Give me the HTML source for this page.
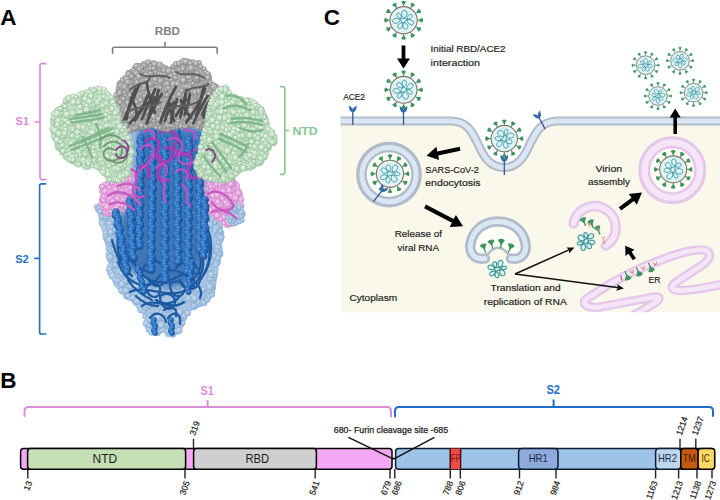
<!DOCTYPE html>
<html lang="en"><head><meta charset="utf-8"><title>SARS-CoV-2 spike protein figure</title>
<style>html,body{margin:0;padding:0;background:#fff}body{width:720px;height:500px;overflow:hidden}svg{display:block}text{font-family:"Liberation Sans", Arial, sans-serif}</style></head><body>
<svg width="720" height="500" viewBox="0 0 720 500">
<defs>
<radialGradient id="gG" cx="40%" cy="35%" r="70%"><stop offset="0" stop-color="#e9f5e8"/><stop offset="0.7" stop-color="#c0dfc2"/><stop offset="1" stop-color="#9fc6a5"/></radialGradient>
<radialGradient id="gY" cx="40%" cy="35%" r="70%"><stop offset="0" stop-color="#cfcfcf"/><stop offset="0.7" stop-color="#a9a9a9"/><stop offset="1" stop-color="#8c8c8c"/></radialGradient>
<radialGradient id="gP" cx="40%" cy="35%" r="70%"><stop offset="0" stop-color="#f7cff2"/><stop offset="0.7" stop-color="#e7a6df"/><stop offset="1" stop-color="#cf88c9"/></radialGradient>
<radialGradient id="gL" cx="40%" cy="35%" r="70%"><stop offset="0" stop-color="#c6dbf0"/><stop offset="0.7" stop-color="#a3c1e0"/><stop offset="1" stop-color="#86acd4"/></radialGradient>
<radialGradient id="gB" cx="40%" cy="35%" r="70%"><stop offset="0" stop-color="#5a9de4"/><stop offset="0.55" stop-color="#2267b6"/><stop offset="1" stop-color="#134584"/></radialGradient>
<filter id="soft" x="-20%" y="-20%" width="140%" height="140%"><feGaussianBlur stdDeviation="3"/></filter>
<filter id="soft2" x="-5%" y="-5%" width="110%" height="110%"><feGaussianBlur stdDeviation="0.45"/></filter>
</defs>
<rect width="720" height="500" fill="#fff"/>
<g filter="url(#soft2)">
<polygon points="96.7,205.7 100.8,217.6 104.9,229.5 107.9,244.3 110,259.1 110,269.9 114.9,281.6 124.8,294.4 136.5,303.1 143.3,311.1 146.3,319 148.2,329 155.1,333 163,330 166.9,332 172.8,334 178.7,330 181.7,323.1 184.6,315.1 191.4,307.2 203.3,302.8 211.7,295 213.1,282.7 215,269.9 217,262 220,250.2 221.1,235.4 219.2,225.5 205.3,215.7 205.5,190.9 207.7,124.9 130.2,125 133.4,190.9 130.5,212.9 117.6,210.8 107.7,214.7" fill="#a8c4e1" stroke="#a8c4e1" stroke-width="2" stroke-linejoin="round"/>
<g fill="url(#gL)" stroke="#7fa7d0" stroke-width="0.45">
<circle cx="96.4" cy="206.5" r="2.3"/>
<circle cx="97.9" cy="208.9" r="2.9"/>
<circle cx="98.7" cy="211" r="2.3"/>
<circle cx="100.6" cy="214.8" r="2.5"/>
<circle cx="101.9" cy="218.8" r="2.7"/>
<circle cx="101.7" cy="222.9" r="2.6"/>
<circle cx="102.3" cy="223.5" r="3.3"/>
<circle cx="104.1" cy="227.1" r="2.7"/>
<circle cx="104.4" cy="229.8" r="2.5"/>
<circle cx="105.6" cy="233.4" r="3"/>
<circle cx="105.9" cy="236.7" r="3.1"/>
<circle cx="106.9" cy="238.9" r="3.3"/>
<circle cx="107.3" cy="243.4" r="2.4"/>
<circle cx="108.5" cy="244.7" r="2.8"/>
<circle cx="108.7" cy="248.5" r="2.9"/>
<circle cx="108.9" cy="254" r="3"/>
<circle cx="109.6" cy="257.2" r="3.4"/>
<circle cx="110.3" cy="259.4" r="3.1"/>
<circle cx="110.8" cy="264.6" r="2.6"/>
<circle cx="110.3" cy="266.3" r="2.8"/>
<circle cx="109.5" cy="269.5" r="3.2"/>
<circle cx="110.9" cy="272.9" r="3.3"/>
<circle cx="112.4" cy="276" r="3.3"/>
<circle cx="114.9" cy="279.8" r="2.7"/>
<circle cx="116" cy="282.9" r="2.4"/>
<circle cx="116.7" cy="284" r="2.8"/>
<circle cx="119.2" cy="286.8" r="2.7"/>
<circle cx="121.4" cy="290.6" r="3.1"/>
<circle cx="123.6" cy="292.9" r="2.3"/>
<circle cx="126.8" cy="296.1" r="3.2"/>
<circle cx="128.2" cy="296.4" r="3"/>
<circle cx="130.1" cy="298.4" r="2.4"/>
<circle cx="133.5" cy="300.6" r="2.4"/>
<circle cx="136.4" cy="302.5" r="3.3"/>
<circle cx="139.1" cy="306.4" r="2.7"/>
<circle cx="141" cy="309.6" r="3.5"/>
<circle cx="143.7" cy="311.5" r="2.3"/>
<circle cx="144.7" cy="316.4" r="2.4"/>
<circle cx="147" cy="319.1" r="2.4"/>
<circle cx="146.4" cy="323.5" r="3.5"/>
<circle cx="148.2" cy="327" r="2.7"/>
<circle cx="149" cy="329.3" r="3.2"/>
<circle cx="151.9" cy="331.9" r="3.5"/>
<circle cx="157.6" cy="332.7" r="3.2"/>
<circle cx="159.6" cy="331.1" r="2.2"/>
<circle cx="162.7" cy="329.6" r="3.1"/>
<circle cx="168.5" cy="333.3" r="3.5"/>
<circle cx="171.4" cy="333.1" r="2.5"/>
<circle cx="172.7" cy="334" r="3.4"/>
<circle cx="177.2" cy="331.3" r="3.2"/>
<circle cx="179.1" cy="330.5" r="3.2"/>
<circle cx="180.8" cy="324.5" r="3.2"/>
<circle cx="182.4" cy="323" r="2.7"/>
<circle cx="184.2" cy="318.5" r="2.4"/>
<circle cx="184.2" cy="315.5" r="3.2"/>
<circle cx="187.6" cy="313" r="3.1"/>
<circle cx="189.7" cy="308.7" r="2.2"/>
<circle cx="193.4" cy="306.6" r="3.4"/>
<circle cx="195.8" cy="306.3" r="2.5"/>
<circle cx="197.5" cy="304.4" r="3"/>
<circle cx="200.6" cy="303.1" r="3.4"/>
<circle cx="203.8" cy="302.4" r="3.4"/>
<circle cx="207.4" cy="299.5" r="2.9"/>
<circle cx="209" cy="296.7" r="2.4"/>
<circle cx="212.1" cy="294.4" r="2.8"/>
<circle cx="212.2" cy="290.3" r="2.9"/>
<circle cx="212.9" cy="287.2" r="2.9"/>
<circle cx="212.4" cy="285.7" r="2.9"/>
<circle cx="213.6" cy="282.2" r="2.8"/>
<circle cx="213.7" cy="278.3" r="3.1"/>
<circle cx="214.2" cy="275.4" r="3.4"/>
<circle cx="215.3" cy="272.4" r="2.5"/>
<circle cx="216.1" cy="269.1" r="2.4"/>
<circle cx="216" cy="265" r="2.5"/>
<circle cx="217.3" cy="262.3" r="3.4"/>
<circle cx="218.2" cy="259.1" r="2.4"/>
<circle cx="219.7" cy="254.1" r="3.4"/>
<circle cx="219.4" cy="253.2" r="3.3"/>
<circle cx="219.9" cy="249.9" r="2.6"/>
<circle cx="220" cy="246.4" r="2.2"/>
<circle cx="220.6" cy="240.8" r="2.6"/>
<circle cx="220.9" cy="237" r="3.5"/>
<circle cx="221.5" cy="233.2" r="2.5"/>
<circle cx="220.9" cy="231.7" r="2.4"/>
<circle cx="220.3" cy="228.5" r="2.5"/>
<circle cx="219.6" cy="225.5" r="3.1"/>
<circle cx="215.5" cy="223.8" r="2.8"/>
<circle cx="214.2" cy="221.8" r="3.2"/>
<circle cx="211.3" cy="218.9" r="3.3"/>
<circle cx="207.1" cy="217.2" r="3.4"/>
<circle cx="204.7" cy="215.3" r="2.5"/>
<circle cx="204.8" cy="211.7" r="2.5"/>
<circle cx="205.1" cy="209.3" r="2.6"/>
<circle cx="204.9" cy="205.2" r="2.2"/>
<circle cx="204.6" cy="203.2" r="2.9"/>
<circle cx="205.4" cy="200.5" r="2.3"/>
<circle cx="205.3" cy="195.5" r="3.3"/>
<circle cx="205.5" cy="193.5" r="3.5"/>
<circle cx="206" cy="190.5" r="3"/>
<circle cx="205.4" cy="186.2" r="2.4"/>
<circle cx="206.1" cy="184.1" r="2.4"/>
<circle cx="206.3" cy="181.9" r="3.1"/>
<circle cx="205.5" cy="177.4" r="2.8"/>
<circle cx="205.9" cy="174.5" r="3.5"/>
<circle cx="206.2" cy="169.8" r="3.5"/>
<circle cx="206" cy="167.5" r="2.7"/>
<circle cx="206.4" cy="164.4" r="2.9"/>
<circle cx="206" cy="161.9" r="2.7"/>
<circle cx="205.8" cy="159.1" r="2.5"/>
<circle cx="206.7" cy="155.6" r="3.1"/>
<circle cx="207.4" cy="151.7" r="2.6"/>
<circle cx="206.3" cy="148.6" r="3"/>
<circle cx="207.5" cy="147.5" r="3"/>
<circle cx="207.6" cy="141.8" r="2.9"/>
<circle cx="207.7" cy="140.2" r="3.3"/>
<circle cx="207.9" cy="136.7" r="3.1"/>
<circle cx="206.6" cy="133.3" r="2.7"/>
<circle cx="208" cy="131.1" r="3"/>
<circle cx="207.9" cy="126.9" r="2.2"/>
<circle cx="206.6" cy="125" r="2.9"/>
<circle cx="202.7" cy="125.3" r="2.5"/>
<circle cx="201" cy="125.3" r="2.5"/>
<circle cx="197.8" cy="124.9" r="2.7"/>
<circle cx="194.7" cy="125.4" r="3"/>
<circle cx="190.3" cy="124.4" r="2.5"/>
<circle cx="187.4" cy="125.1" r="2.2"/>
<circle cx="185.5" cy="125.2" r="3.1"/>
<circle cx="181.3" cy="125" r="2.8"/>
<circle cx="178.3" cy="125.6" r="2.5"/>
<circle cx="175.6" cy="124.2" r="2.8"/>
<circle cx="172.8" cy="124.9" r="2.5"/>
<circle cx="170.8" cy="124.5" r="3"/>
<circle cx="167.2" cy="125.7" r="2.4"/>
<circle cx="162.8" cy="125.6" r="3.1"/>
<circle cx="161.4" cy="124.9" r="2.2"/>
<circle cx="158.1" cy="124.9" r="2.6"/>
<circle cx="154.5" cy="124.7" r="3.3"/>
<circle cx="152.3" cy="125.5" r="2.4"/>
<circle cx="147.4" cy="125.6" r="2.6"/>
<circle cx="144.8" cy="125.8" r="3"/>
<circle cx="141.8" cy="124.6" r="2.3"/>
<circle cx="139.9" cy="124.6" r="3.4"/>
<circle cx="135.6" cy="125" r="2.4"/>
<circle cx="133.4" cy="125.6" r="3.3"/>
<circle cx="130.9" cy="126.8" r="2.9"/>
<circle cx="129.7" cy="129.6" r="2.8"/>
<circle cx="130.8" cy="132" r="2.3"/>
<circle cx="130.1" cy="135.6" r="2.6"/>
<circle cx="131.2" cy="138.3" r="2.5"/>
<circle cx="130.7" cy="141.2" r="2.7"/>
<circle cx="130.5" cy="142.8" r="3.4"/>
<circle cx="130.8" cy="147.5" r="3.5"/>
<circle cx="130.8" cy="149.3" r="2.3"/>
<circle cx="130.9" cy="152.2" r="2.5"/>
<circle cx="132.3" cy="156.4" r="2.7"/>
<circle cx="131.9" cy="158.5" r="2.6"/>
<circle cx="131.6" cy="161.8" r="2.4"/>
<circle cx="132.3" cy="165.4" r="2.5"/>
<circle cx="131.8" cy="167.3" r="2.8"/>
<circle cx="133" cy="172.3" r="2.2"/>
<circle cx="132.8" cy="173.6" r="2.8"/>
<circle cx="131.9" cy="176.8" r="3.4"/>
<circle cx="133.4" cy="181.2" r="2.5"/>
<circle cx="132.4" cy="182.2" r="3.1"/>
<circle cx="133.5" cy="186.9" r="3.2"/>
<circle cx="133.3" cy="188" r="3.2"/>
<circle cx="134" cy="191.6" r="2.6"/>
<circle cx="132.5" cy="194.5" r="3.1"/>
<circle cx="131.8" cy="197.4" r="3"/>
<circle cx="131.6" cy="201.2" r="2.2"/>
<circle cx="131.6" cy="204.8" r="3"/>
<circle cx="131.1" cy="207.8" r="2.5"/>
<circle cx="131" cy="211.2" r="2.2"/>
<circle cx="129.8" cy="212.6" r="2.5"/>
<circle cx="126.7" cy="211.7" r="2.2"/>
<circle cx="123.3" cy="212" r="2.5"/>
<circle cx="119.7" cy="211.1" r="2.5"/>
<circle cx="115.4" cy="212" r="2.5"/>
<circle cx="114.3" cy="211.9" r="3.4"/>
<circle cx="109.6" cy="213.3" r="2.7"/>
<circle cx="107.4" cy="213.2" r="2.7"/>
<circle cx="105.4" cy="211.6" r="2.3"/>
<circle cx="102" cy="210.7" r="3.3"/>
<circle cx="99.1" cy="207.6" r="2.6"/>
<circle cx="189.5" cy="131.6" r="3.1"/>
<circle cx="143.8" cy="203.1" r="2.6"/>
<circle cx="141.1" cy="296.7" r="3.3"/>
<circle cx="150.5" cy="135.2" r="2.8"/>
<circle cx="147.8" cy="294.7" r="3.2"/>
<circle cx="128.7" cy="281.2" r="3.4"/>
<circle cx="138.9" cy="181.9" r="3.4"/>
<circle cx="173.5" cy="179.8" r="3.1"/>
<circle cx="136.1" cy="182.6" r="2.2"/>
<circle cx="175.6" cy="322.1" r="2.2"/>
<circle cx="125.8" cy="224.3" r="3.4"/>
<circle cx="128" cy="214.8" r="2.8"/>
<circle cx="196.5" cy="279.3" r="3.3"/>
<circle cx="192.8" cy="251.9" r="2.6"/>
<circle cx="136.5" cy="200.6" r="3.2"/>
<circle cx="190.4" cy="176.7" r="2.3"/>
<circle cx="108.7" cy="229.2" r="3.1"/>
<circle cx="152.3" cy="173.9" r="2.7"/>
<circle cx="173.9" cy="265.9" r="3.2"/>
<circle cx="202.1" cy="263.9" r="2.4"/>
<circle cx="201.3" cy="186.4" r="2.9"/>
<circle cx="143.1" cy="279.3" r="2.5"/>
<circle cx="168.7" cy="193.2" r="2.7"/>
<circle cx="220.2" cy="231" r="2.5"/>
<circle cx="197.3" cy="261.5" r="3.5"/>
<circle cx="109.5" cy="224.2" r="3.3"/>
<circle cx="217.7" cy="246.9" r="3.4"/>
<circle cx="143" cy="306" r="2.8"/>
<circle cx="129.1" cy="287.6" r="3.4"/>
<circle cx="109.9" cy="249.6" r="3"/>
<circle cx="128.4" cy="250.3" r="3"/>
<circle cx="137.4" cy="266.8" r="2.4"/>
<circle cx="135.6" cy="167.5" r="3.2"/>
<circle cx="164.9" cy="138.2" r="2.3"/>
<circle cx="145.9" cy="240" r="3"/>
<circle cx="183.2" cy="210.6" r="2.6"/>
<circle cx="135.6" cy="243.4" r="2.7"/>
<circle cx="148.5" cy="305.6" r="3.5"/>
<circle cx="142" cy="166.2" r="3.1"/>
<circle cx="198.8" cy="209.9" r="3.3"/>
<circle cx="154.1" cy="158.9" r="2.2"/>
<circle cx="165.3" cy="258.9" r="3.4"/>
<circle cx="142.9" cy="230.4" r="2.4"/>
<circle cx="132" cy="233.9" r="3.4"/>
<circle cx="110.3" cy="227.5" r="3.2"/>
<circle cx="218.1" cy="225.9" r="2.3"/>
<circle cx="209.2" cy="254.6" r="3.3"/>
<circle cx="202" cy="298.3" r="2.4"/>
<circle cx="161.1" cy="205.1" r="2.4"/>
<circle cx="127.5" cy="276.5" r="3.4"/>
<circle cx="190.9" cy="132.9" r="3.3"/>
<circle cx="111.4" cy="250.3" r="2.9"/>
<circle cx="174.7" cy="189" r="2.7"/>
<circle cx="169.2" cy="214" r="3.1"/>
<circle cx="152.3" cy="216.6" r="2.2"/>
<circle cx="173.7" cy="227.3" r="2.5"/>
<circle cx="191.7" cy="288" r="2.8"/>
<circle cx="119.1" cy="223.9" r="2.3"/>
<circle cx="112.7" cy="215" r="2.3"/>
<circle cx="151.7" cy="231.6" r="2.3"/>
<circle cx="175.9" cy="142.1" r="3.2"/>
<circle cx="193.4" cy="231.9" r="2.3"/>
<circle cx="159.4" cy="203.9" r="3.4"/>
<circle cx="198.1" cy="165.4" r="3.5"/>
<circle cx="157.9" cy="324.9" r="3.4"/>
<circle cx="140.4" cy="283" r="2.4"/>
<circle cx="198.2" cy="155" r="2.9"/>
<circle cx="129.4" cy="230.7" r="2.6"/>
<circle cx="181.3" cy="312.1" r="2.4"/>
<circle cx="194.3" cy="149" r="2.9"/>
<circle cx="175.9" cy="200.2" r="3.3"/>
<circle cx="165.8" cy="246.2" r="3.3"/>
<circle cx="175.1" cy="207.4" r="3.2"/>
<circle cx="168.5" cy="200.3" r="3.2"/>
<circle cx="151.7" cy="161.9" r="3.2"/>
<circle cx="128.3" cy="258.6" r="3.5"/>
<circle cx="169.6" cy="263.7" r="2.6"/>
<circle cx="115.3" cy="253.7" r="2.8"/>
<circle cx="160.5" cy="312.2" r="2.4"/>
<circle cx="125" cy="261.5" r="2.2"/>
<circle cx="124.6" cy="247" r="3"/>
<circle cx="122.1" cy="255.4" r="2.8"/>
<circle cx="205.1" cy="288.5" r="2.7"/>
<circle cx="176.9" cy="242.5" r="2.7"/>
<circle cx="177" cy="217.7" r="3.4"/>
<circle cx="188" cy="176.9" r="3.4"/>
<circle cx="147.2" cy="174.6" r="2.3"/>
<circle cx="193.6" cy="127.5" r="2.9"/>
<circle cx="121.6" cy="252.1" r="2.9"/>
<circle cx="176.5" cy="295" r="2.4"/>
<circle cx="135.2" cy="187.7" r="2.3"/>
<circle cx="207.3" cy="288.6" r="3.1"/>
<circle cx="189.4" cy="222.2" r="3.2"/>
<circle cx="153" cy="172.2" r="2.3"/>
<circle cx="138.5" cy="281.7" r="3.1"/>
<circle cx="201.9" cy="273.7" r="2.5"/>
<circle cx="165.6" cy="216.1" r="3.2"/>
<circle cx="161.8" cy="180.4" r="3"/>
<circle cx="206.2" cy="128.1" r="2.5"/>
<circle cx="126.1" cy="280.5" r="3.4"/>
<circle cx="189.5" cy="193.3" r="3.3"/>
<circle cx="137.6" cy="174.9" r="3.4"/>
<circle cx="175.2" cy="269.8" r="3.1"/>
<circle cx="201.2" cy="270.8" r="3.3"/>
<circle cx="151.1" cy="276.4" r="2.9"/>
<circle cx="135" cy="169.3" r="3"/>
<circle cx="139.6" cy="154.6" r="2.2"/>
<circle cx="175.6" cy="270.7" r="3.2"/>
<circle cx="141.9" cy="295.9" r="3.3"/>
<circle cx="197.7" cy="257.5" r="3.3"/>
<circle cx="175.3" cy="185" r="2.3"/>
<circle cx="149.4" cy="129.3" r="2.5"/>
<circle cx="131.9" cy="274.6" r="2.7"/>
<circle cx="159.4" cy="302.9" r="3"/>
<circle cx="100.6" cy="211.3" r="2.8"/>
<circle cx="192.9" cy="197.4" r="3.1"/>
<circle cx="163.6" cy="170.2" r="3.3"/>
<circle cx="121.9" cy="284.3" r="3.5"/>
<circle cx="157.9" cy="291.5" r="2.4"/>
<circle cx="158.2" cy="197.5" r="3.3"/>
<circle cx="183.7" cy="229.1" r="2.3"/>
<circle cx="175.9" cy="141.9" r="3.2"/>
<circle cx="183.4" cy="289.5" r="3"/>
<circle cx="141" cy="208.8" r="2.7"/>
<circle cx="207.2" cy="130.2" r="2.5"/>
<circle cx="159.1" cy="204.2" r="3.3"/>
<circle cx="125.8" cy="221.3" r="2.9"/>
<circle cx="190.6" cy="282.4" r="3"/>
<circle cx="140.1" cy="193.2" r="2.4"/>
<circle cx="201.6" cy="263.4" r="3.2"/>
<circle cx="117.8" cy="216.7" r="3.2"/>
<circle cx="168.8" cy="151.3" r="2.8"/>
<circle cx="184.2" cy="301.3" r="2.4"/>
<circle cx="137.4" cy="234.1" r="2.4"/>
<circle cx="137.5" cy="164.5" r="3.5"/>
<circle cx="187.4" cy="146.2" r="3.5"/>
<circle cx="187.9" cy="215.9" r="2.5"/>
<circle cx="176.1" cy="147.3" r="2.5"/>
<circle cx="145" cy="132" r="2.7"/>
<circle cx="195.1" cy="269.9" r="2.9"/>
<circle cx="175.4" cy="221.8" r="2.4"/>
<circle cx="171.8" cy="209.6" r="3.2"/>
<circle cx="168.1" cy="281.6" r="2.7"/>
<circle cx="125.2" cy="275.9" r="3.3"/>
<circle cx="193" cy="271.3" r="3.3"/>
<circle cx="181.3" cy="259.1" r="2.8"/>
<circle cx="135.7" cy="256.3" r="2.3"/>
<circle cx="148.9" cy="288.5" r="3.1"/>
<circle cx="175" cy="177.2" r="2.8"/>
<circle cx="153.3" cy="254.9" r="2.7"/>
<circle cx="180.7" cy="319.4" r="2.4"/>
<circle cx="178.1" cy="287.6" r="2.7"/>
<circle cx="157.7" cy="328.7" r="2.2"/>
<circle cx="164.3" cy="158.6" r="3.2"/>
<circle cx="213.7" cy="233.5" r="2.3"/>
<circle cx="168.2" cy="238.1" r="3.1"/>
<circle cx="160.4" cy="258.6" r="3.3"/>
<circle cx="161.6" cy="210.7" r="3.4"/>
<circle cx="122.9" cy="268" r="2.7"/>
<circle cx="191.6" cy="150.5" r="3.5"/>
<circle cx="140.9" cy="136.8" r="2.6"/>
<circle cx="146.4" cy="127.7" r="2.7"/>
<circle cx="149" cy="270.9" r="2.7"/>
<circle cx="162.3" cy="170.7" r="3.2"/>
<circle cx="145.5" cy="169.3" r="2.4"/>
<circle cx="193.3" cy="294.2" r="3"/>
<circle cx="155.1" cy="242.5" r="2.5"/>
<circle cx="176.2" cy="296.1" r="3.3"/>
<circle cx="155" cy="186.5" r="2.9"/>
<circle cx="140.9" cy="302.8" r="2.5"/>
<circle cx="143.5" cy="178" r="2.8"/>
<circle cx="186.5" cy="183.7" r="2.5"/>
<circle cx="134.3" cy="225.2" r="2.8"/>
<circle cx="176" cy="262.8" r="2.7"/>
<circle cx="209.4" cy="288.9" r="2.4"/>
<circle cx="200.1" cy="257.3" r="2.2"/>
<circle cx="178.3" cy="177.2" r="2.3"/>
<circle cx="193.3" cy="197.4" r="2.4"/>
<circle cx="209.2" cy="290.5" r="2.4"/>
<circle cx="207.6" cy="252.1" r="3.2"/>
<circle cx="179.9" cy="311.8" r="3.2"/>
<circle cx="201" cy="166.2" r="3.1"/>
<circle cx="162.7" cy="280.1" r="2.8"/>
<circle cx="206.5" cy="241" r="2.5"/>
<circle cx="158.1" cy="137.2" r="2.8"/>
<circle cx="114.7" cy="227.7" r="2.8"/>
<circle cx="163.8" cy="305.3" r="2.2"/>
<circle cx="201.3" cy="222.8" r="2.9"/>
<circle cx="179.5" cy="300.7" r="2.7"/>
<circle cx="148.8" cy="325.8" r="2.3"/>
<circle cx="176" cy="257.9" r="2.2"/>
<circle cx="172.6" cy="267.7" r="3.4"/>
<circle cx="160.2" cy="226.3" r="3.4"/>
<circle cx="174.5" cy="195.7" r="3.3"/>
<circle cx="142.3" cy="224.2" r="2.9"/>
<circle cx="192.6" cy="169" r="2.8"/>
<circle cx="149.3" cy="240.8" r="3.3"/>
<circle cx="133.2" cy="298" r="2.7"/>
<circle cx="159.4" cy="181.8" r="2.9"/>
<circle cx="195.2" cy="194.1" r="2.6"/>
<circle cx="134" cy="247.6" r="3"/>
<circle cx="194.3" cy="133.3" r="3.1"/>
<circle cx="206.9" cy="239" r="2.3"/>
<circle cx="134.1" cy="126.2" r="2.4"/>
<circle cx="211.3" cy="252.2" r="3.1"/>
<circle cx="172.8" cy="253.9" r="3"/>
<circle cx="183.3" cy="249.6" r="3.1"/>
<circle cx="123.2" cy="264.4" r="2.8"/>
<circle cx="191.6" cy="146.1" r="2.4"/>
<circle cx="210.4" cy="262" r="2.7"/>
<circle cx="199" cy="289.4" r="2.9"/>
<circle cx="149.2" cy="191.5" r="2.8"/>
<circle cx="176.5" cy="320.2" r="2.3"/>
<circle cx="167.3" cy="133.2" r="2.4"/>
<circle cx="197.5" cy="245.2" r="3.4"/>
<circle cx="152.3" cy="127.9" r="2.7"/>
<circle cx="170.4" cy="321" r="3.5"/>
<circle cx="155.9" cy="211.2" r="2.3"/>
<circle cx="176.9" cy="169.3" r="2.4"/>
<circle cx="181.8" cy="150.4" r="3.5"/>
<circle cx="186.2" cy="175.6" r="3.2"/>
<circle cx="193" cy="274.1" r="3.3"/>
<circle cx="187.5" cy="142.6" r="3"/>
<circle cx="184.9" cy="221.2" r="3.4"/>
<circle cx="185.9" cy="127.3" r="2.2"/>
<circle cx="177.7" cy="295.8" r="2.3"/>
<circle cx="135.4" cy="277.4" r="2.4"/>
<circle cx="203.8" cy="226.6" r="2.3"/>
<circle cx="142.5" cy="245.2" r="2.8"/>
<circle cx="180.9" cy="155.2" r="3.2"/>
<circle cx="141.9" cy="259.8" r="3"/>
<circle cx="148.7" cy="205.6" r="3.2"/>
<circle cx="167.2" cy="186.1" r="2.3"/>
<circle cx="199.6" cy="194.4" r="3"/>
<circle cx="171.5" cy="189.5" r="2.8"/>
<circle cx="181.9" cy="250.8" r="3.4"/>
<circle cx="197.2" cy="184.2" r="2.2"/>
<circle cx="129.5" cy="213.3" r="3"/>
<circle cx="167.9" cy="182.2" r="3.3"/>
<circle cx="197.1" cy="268.1" r="3.4"/>
<circle cx="139.9" cy="142.7" r="2.9"/>
<circle cx="195.9" cy="166.9" r="3.2"/>
<circle cx="172.2" cy="266.6" r="2.8"/>
<circle cx="190.1" cy="290.5" r="2.8"/>
<circle cx="192.8" cy="173.6" r="3"/>
<circle cx="161.6" cy="224.6" r="3"/>
<circle cx="119.2" cy="271.5" r="2.7"/>
<circle cx="166.9" cy="209.1" r="2.9"/>
<circle cx="109.9" cy="257.2" r="3.2"/>
<circle cx="116.2" cy="249.8" r="2.6"/>
<circle cx="161.3" cy="129.2" r="2.2"/>
<circle cx="157.2" cy="243.5" r="2.5"/>
<circle cx="193.6" cy="214" r="3.4"/>
<circle cx="192.2" cy="296.1" r="3.5"/>
<circle cx="166.1" cy="307" r="2.8"/>
<circle cx="146.2" cy="150" r="3.4"/>
<circle cx="128.7" cy="243" r="3"/>
<circle cx="215.7" cy="265" r="2.7"/>
<circle cx="152.5" cy="158.3" r="3.5"/>
<circle cx="185" cy="260.1" r="3.5"/>
<circle cx="180.9" cy="187.4" r="3"/>
<circle cx="191" cy="147" r="2.6"/>
<circle cx="156.6" cy="160.2" r="2.5"/>
<circle cx="114.5" cy="266.6" r="2.2"/>
<circle cx="185.9" cy="165.7" r="2.2"/>
<circle cx="152.4" cy="145.2" r="3.4"/>
<circle cx="201.5" cy="256.3" r="2.8"/>
<circle cx="139" cy="297" r="2.8"/>
<circle cx="174.9" cy="154.8" r="2.5"/>
<circle cx="165.6" cy="155.2" r="3.3"/>
<circle cx="201.1" cy="194.9" r="2.4"/>
<circle cx="157.8" cy="191.4" r="3.4"/>
<circle cx="179.8" cy="169.1" r="2.8"/>
<circle cx="139.1" cy="154.2" r="2.2"/>
<circle cx="200.2" cy="235" r="2.4"/>
<circle cx="150.9" cy="315.6" r="2.5"/>
<circle cx="167.8" cy="153.8" r="2.4"/>
<circle cx="192.5" cy="273.7" r="2.5"/>
<circle cx="172.4" cy="228.5" r="2.6"/>
<circle cx="122.4" cy="253" r="3.1"/>
<circle cx="197.7" cy="246.8" r="2.5"/>
<circle cx="147.5" cy="275.8" r="2.3"/>
<circle cx="197.5" cy="195" r="3.3"/>
<circle cx="204.2" cy="228" r="2.2"/>
<circle cx="209.9" cy="224.6" r="3.3"/>
<circle cx="200.2" cy="201.7" r="2.4"/>
<circle cx="142.9" cy="249.3" r="2.2"/>
<circle cx="161.4" cy="218.1" r="2.9"/>
<circle cx="136.7" cy="273.6" r="2.7"/>
<circle cx="190.2" cy="137.7" r="3.3"/>
<circle cx="215.4" cy="228.4" r="2.9"/>
<circle cx="162.7" cy="237.3" r="2.2"/>
<circle cx="127.9" cy="295.8" r="2.2"/>
<circle cx="171.3" cy="245.5" r="2.9"/>
<circle cx="184.1" cy="146.5" r="3.3"/>
<circle cx="185.9" cy="134.4" r="2.4"/>
<circle cx="158.1" cy="229.6" r="2.6"/>
<circle cx="113.8" cy="248.7" r="3.3"/>
<circle cx="115.1" cy="244.7" r="3.2"/>
<circle cx="149" cy="300.5" r="2.9"/>
<circle cx="193.4" cy="195.7" r="2.5"/>
<circle cx="138.4" cy="216" r="3.5"/>
<circle cx="198.1" cy="302.2" r="2.3"/>
<circle cx="161.1" cy="325.2" r="3.4"/>
<circle cx="127.7" cy="213.2" r="3"/>
<circle cx="142.1" cy="235.9" r="2.3"/>
<circle cx="150.6" cy="230.5" r="2.2"/>
<circle cx="175.5" cy="294.1" r="3.3"/>
<circle cx="206.7" cy="132.1" r="3"/>
<circle cx="129.8" cy="266.8" r="2.6"/>
<circle cx="164.2" cy="318.2" r="3"/>
<circle cx="127.9" cy="233.7" r="2.8"/>
<circle cx="134.7" cy="260.3" r="2.4"/>
<circle cx="170.6" cy="324.8" r="2.9"/>
<circle cx="130.1" cy="222.5" r="2.9"/>
<circle cx="147.3" cy="185.2" r="2.5"/>
<circle cx="107.7" cy="239.2" r="3.3"/>
<circle cx="172.6" cy="244.2" r="3"/>
<circle cx="121.8" cy="273.5" r="2.8"/>
<circle cx="164.9" cy="253.1" r="2.8"/>
<circle cx="135.4" cy="175.6" r="2.5"/>
<circle cx="160.5" cy="205.1" r="3"/>
<circle cx="203.9" cy="174.8" r="2.9"/>
<circle cx="157.9" cy="184.5" r="3.5"/>
<circle cx="133.5" cy="286.4" r="2.4"/>
<circle cx="151.5" cy="137.9" r="2.7"/>
<circle cx="151.4" cy="278.7" r="2.3"/>
<circle cx="188.6" cy="157.3" r="2.6"/>
<circle cx="140.6" cy="266.1" r="3"/>
<circle cx="202.4" cy="296.6" r="2.9"/>
<circle cx="188.6" cy="280.3" r="3.2"/>
<circle cx="155.8" cy="289.1" r="3.1"/>
<circle cx="205" cy="125.9" r="3.2"/>
<circle cx="169.6" cy="229" r="3.5"/>
<circle cx="167.9" cy="212.3" r="3.2"/>
<circle cx="205.3" cy="251.9" r="2.7"/>
<circle cx="153" cy="220.7" r="3.1"/>
<circle cx="133.2" cy="206.6" r="2.9"/>
<circle cx="144.6" cy="192.3" r="3.2"/>
<circle cx="202.4" cy="229.4" r="2.8"/>
<circle cx="114.8" cy="245.3" r="3"/>
<circle cx="137" cy="301.3" r="3.3"/>
<circle cx="149.8" cy="315.3" r="2.2"/>
<circle cx="158.6" cy="317.4" r="3.2"/>
<circle cx="161.1" cy="233.1" r="3.1"/>
<circle cx="145.2" cy="199.7" r="3"/>
<circle cx="180.9" cy="234.8" r="2.3"/>
<circle cx="143.3" cy="208.8" r="2.9"/>
<circle cx="168.1" cy="308.9" r="3.5"/>
<circle cx="157.3" cy="217" r="3"/>
<circle cx="162.7" cy="295.5" r="2.4"/>
<circle cx="199.5" cy="232.1" r="2.3"/>
<circle cx="208" cy="269.2" r="3.3"/>
<circle cx="149.1" cy="157.6" r="2.6"/>
<circle cx="160.4" cy="230.5" r="2.4"/>
<circle cx="119.4" cy="256.7" r="3"/>
<circle cx="175.9" cy="133.8" r="2.7"/>
<circle cx="194.7" cy="189.1" r="3.1"/>
<circle cx="201.5" cy="247.5" r="3.1"/>
<circle cx="121.2" cy="229" r="2.9"/>
<circle cx="129.8" cy="260.2" r="2.9"/>
<circle cx="147.9" cy="150.3" r="2.4"/>
<circle cx="191.2" cy="147.2" r="2.3"/>
<circle cx="118" cy="234.2" r="3.3"/>
<circle cx="173" cy="293.6" r="2.3"/>
<circle cx="136.9" cy="274.5" r="2.7"/>
<circle cx="169.1" cy="197.9" r="2.8"/>
<circle cx="144.7" cy="136.4" r="3.4"/>
<circle cx="169.2" cy="325.6" r="2.8"/>
<circle cx="173.9" cy="177.1" r="2.3"/>
<circle cx="198.2" cy="188.4" r="3"/>
<circle cx="216.1" cy="228.6" r="3.4"/>
<circle cx="186.1" cy="171.2" r="2.6"/>
<circle cx="205.6" cy="226.2" r="3.2"/>
<circle cx="141.3" cy="163.9" r="3.5"/>
<circle cx="132.9" cy="242.3" r="2.3"/>
<circle cx="163.1" cy="205.6" r="2.7"/>
<circle cx="199.4" cy="198.4" r="2.5"/>
<circle cx="179.3" cy="196.3" r="2.4"/>
<circle cx="184.5" cy="144.3" r="2.6"/>
<circle cx="200.6" cy="151.7" r="2.8"/>
<circle cx="200.7" cy="293.2" r="2.4"/>
<circle cx="140.6" cy="276" r="2.7"/>
<circle cx="215" cy="230.5" r="2.5"/>
<circle cx="153" cy="152.3" r="3.1"/>
<circle cx="169.8" cy="201.9" r="2.5"/>
<circle cx="172.4" cy="169.4" r="3.3"/>
<circle cx="112" cy="232.2" r="2.9"/>
<circle cx="130.4" cy="286.3" r="2.7"/>
<circle cx="178.5" cy="243.6" r="2.6"/>
<circle cx="145.2" cy="142.9" r="2.4"/>
<circle cx="202.6" cy="192.1" r="3.1"/>
<circle cx="110.3" cy="242.4" r="2.7"/>
<circle cx="159" cy="187" r="2.3"/>
<circle cx="135.5" cy="172.3" r="2.4"/>
<circle cx="185.9" cy="184" r="2.7"/>
<circle cx="209.8" cy="287" r="3.3"/>
<circle cx="203.8" cy="152.6" r="2.6"/>
<circle cx="179.3" cy="198.4" r="2.7"/>
<circle cx="178.7" cy="271.1" r="2.5"/>
<circle cx="202" cy="198.6" r="3"/>
<circle cx="210.2" cy="278.4" r="3.1"/>
<circle cx="134.4" cy="204.5" r="2.3"/>
<circle cx="135.4" cy="258.4" r="2.4"/>
<circle cx="201.1" cy="244.1" r="3.1"/>
<circle cx="128.4" cy="215.9" r="3.1"/>
<circle cx="140.1" cy="125.2" r="3.3"/>
<circle cx="193.3" cy="184.8" r="2.3"/>
<circle cx="203" cy="251.9" r="2.3"/>
<circle cx="195.2" cy="168.9" r="3.4"/>
<circle cx="189.9" cy="143" r="3.1"/>
<circle cx="145.7" cy="281.2" r="3.3"/>
<circle cx="131.7" cy="143.7" r="3.4"/>
<circle cx="149.5" cy="319.4" r="3.1"/>
<circle cx="188.6" cy="298.5" r="3"/>
<circle cx="153" cy="136.3" r="3.1"/>
<circle cx="150" cy="232" r="3.4"/>
<circle cx="196.9" cy="179.6" r="2.9"/>
<circle cx="217.3" cy="258.2" r="2.9"/>
<circle cx="141.2" cy="211" r="2.5"/>
<circle cx="135.4" cy="153.5" r="3.1"/>
<circle cx="180.1" cy="174.7" r="2.5"/>
<circle cx="160.8" cy="218" r="3.4"/>
<circle cx="140.4" cy="187.5" r="3.4"/>
<circle cx="114.4" cy="242.7" r="2.6"/>
<circle cx="198.1" cy="239.6" r="3.2"/>
<circle cx="117.8" cy="264.3" r="3"/>
<circle cx="154.1" cy="285.1" r="3.3"/>
<circle cx="141.6" cy="168.1" r="2.3"/>
<circle cx="184" cy="218.6" r="2.3"/>
<circle cx="137.1" cy="222.9" r="2.7"/>
<circle cx="190.1" cy="142.5" r="3.1"/>
<circle cx="218.6" cy="242.8" r="2.3"/>
<circle cx="157.5" cy="215.7" r="2.4"/>
<circle cx="164.3" cy="126.7" r="3.4"/>
<circle cx="176.9" cy="256.2" r="3.4"/>
<circle cx="177.9" cy="177.5" r="2.5"/>
<circle cx="193" cy="300.5" r="2.6"/>
<circle cx="119.8" cy="258.4" r="3.3"/>
<circle cx="194.3" cy="298.6" r="3.2"/>
<circle cx="137.4" cy="163.5" r="3.3"/>
<circle cx="136.6" cy="202" r="2.9"/>
<circle cx="142.7" cy="298.8" r="2.5"/>
<circle cx="174.9" cy="296.3" r="3.1"/>
<circle cx="158.2" cy="229.4" r="2.4"/>
<circle cx="134" cy="246.4" r="2.3"/>
<circle cx="182.3" cy="159.2" r="2.8"/>
<circle cx="101.7" cy="216.8" r="2.4"/>
<circle cx="186.6" cy="125.5" r="3.3"/>
<circle cx="203.1" cy="289.5" r="2.8"/>
<circle cx="132" cy="263.3" r="2.9"/>
<circle cx="149.1" cy="195.8" r="2.8"/>
<circle cx="179.6" cy="297.7" r="3.4"/>
<circle cx="151.9" cy="242.7" r="2.7"/>
<circle cx="137" cy="221.2" r="3.5"/>
<circle cx="173.8" cy="294.5" r="2.3"/>
<circle cx="180.9" cy="252.3" r="2.6"/>
<circle cx="167.8" cy="324.1" r="2.8"/>
<circle cx="177.2" cy="187.5" r="2.6"/>
<circle cx="206.8" cy="130.8" r="2.4"/>
<circle cx="181.1" cy="218.5" r="2.3"/>
<circle cx="178.9" cy="202.7" r="3"/>
<circle cx="148.5" cy="235.7" r="2.9"/>
<circle cx="146" cy="148.8" r="2.4"/>
<circle cx="207.4" cy="239.5" r="2.3"/>
<circle cx="204" cy="177.9" r="2.3"/>
<circle cx="162.7" cy="177.5" r="2.8"/>
<circle cx="165.6" cy="172.3" r="2.9"/>
<circle cx="110.8" cy="232.2" r="3"/>
<circle cx="105.9" cy="216.8" r="3.3"/>
<circle cx="165.2" cy="274.3" r="3.2"/>
<circle cx="186.5" cy="146.3" r="3.3"/>
<circle cx="145.5" cy="160.8" r="3.4"/>
<circle cx="166.8" cy="287" r="2.4"/>
<circle cx="193.3" cy="137" r="2.5"/>
<circle cx="143" cy="128.1" r="3"/>
<circle cx="184.7" cy="214" r="3.4"/>
<circle cx="174" cy="307.3" r="2.9"/>
<circle cx="117.6" cy="280.8" r="2.6"/>
<circle cx="191.7" cy="267.2" r="3.3"/>
<circle cx="186.5" cy="134" r="3"/>
<circle cx="109.1" cy="239.7" r="3.2"/>
<circle cx="180.7" cy="178.2" r="2.5"/>
<circle cx="152.3" cy="300.2" r="3"/>
<circle cx="119.8" cy="240.8" r="2.6"/>
<circle cx="182.2" cy="204.6" r="2.4"/>
<circle cx="205.6" cy="237.5" r="3.1"/>
<circle cx="115.5" cy="229.9" r="3.3"/>
<circle cx="196.3" cy="132.4" r="2.4"/>
<circle cx="198.5" cy="267" r="2.7"/>
<circle cx="155.9" cy="158" r="3.3"/>
<circle cx="145.7" cy="307.5" r="3"/>
<circle cx="170" cy="134.1" r="2.4"/>
<circle cx="141.6" cy="222.7" r="3"/>
<circle cx="145" cy="198.9" r="2.2"/>
<circle cx="168.8" cy="194.7" r="2.2"/>
<circle cx="153.9" cy="331.2" r="2.3"/>
<circle cx="114.9" cy="265.2" r="2.6"/>
<circle cx="130.7" cy="229.5" r="2.5"/>
<circle cx="167.5" cy="235.4" r="3.4"/>
<circle cx="166.5" cy="286.1" r="3.3"/>
<circle cx="193" cy="257.3" r="3"/>
<circle cx="141.9" cy="183.8" r="3.2"/>
<circle cx="181.5" cy="188.5" r="3.2"/>
<circle cx="188.7" cy="231.3" r="3"/>
<circle cx="140.3" cy="240.1" r="2.7"/>
<circle cx="156.6" cy="201.7" r="2.5"/>
<circle cx="205" cy="219.7" r="2.8"/>
<circle cx="167.5" cy="188.2" r="2.4"/>
<circle cx="135.1" cy="276.9" r="2.9"/>
<circle cx="211.3" cy="246.9" r="2.3"/>
<circle cx="119" cy="246.3" r="3.5"/>
<circle cx="141.1" cy="286.9" r="2.8"/>
<circle cx="204.7" cy="139.1" r="2.8"/>
<circle cx="184.3" cy="170.6" r="2.7"/>
<circle cx="121.7" cy="251" r="3.3"/>
<circle cx="177.3" cy="166.1" r="3.2"/>
<circle cx="216.5" cy="250.6" r="2.3"/>
<circle cx="139.2" cy="153.5" r="2.4"/>
<circle cx="163.5" cy="308" r="3"/>
<circle cx="137.4" cy="281.6" r="3"/>
<circle cx="147.1" cy="266.9" r="2.6"/>
<circle cx="103.9" cy="211.6" r="2.3"/>
<circle cx="174.6" cy="194.9" r="2.8"/>
<circle cx="171.1" cy="178.7" r="2.8"/>
<circle cx="166.9" cy="331.4" r="2.3"/>
<circle cx="173.1" cy="276.3" r="2.6"/>
<circle cx="149.4" cy="237.6" r="3"/>
<circle cx="165.8" cy="262.4" r="3"/>
<circle cx="137.9" cy="279.9" r="2.5"/>
<circle cx="185.2" cy="284.5" r="3.2"/>
<circle cx="135.2" cy="286.5" r="3.5"/>
<circle cx="153.1" cy="183.1" r="2.9"/>
<circle cx="178.2" cy="286.8" r="2.7"/>
<circle cx="190.8" cy="143.7" r="2.2"/>
<circle cx="159.1" cy="241" r="2.4"/>
<circle cx="193.5" cy="175.7" r="3.5"/>
<circle cx="158.8" cy="257.9" r="2.6"/>
<circle cx="196.3" cy="221.1" r="2.6"/>
<circle cx="187.9" cy="138.6" r="3"/>
<circle cx="146.7" cy="305.6" r="2.3"/>
<circle cx="166.9" cy="210.6" r="3.4"/>
<circle cx="214.2" cy="256.1" r="2.5"/>
<circle cx="150.7" cy="173.3" r="2.5"/>
<circle cx="191.1" cy="259.3" r="2.6"/>
<circle cx="167.6" cy="157.7" r="3.3"/>
<circle cx="204.8" cy="180.8" r="3.2"/>
<circle cx="199.1" cy="184" r="2.6"/>
<circle cx="157.1" cy="311.2" r="2.4"/>
<circle cx="181.6" cy="249.9" r="2.8"/>
<circle cx="168.8" cy="309.5" r="2.5"/>
<circle cx="193.7" cy="305.4" r="2.4"/>
<circle cx="133.8" cy="130.1" r="2.3"/>
<circle cx="188.3" cy="145.3" r="2.4"/>
<circle cx="181.6" cy="143.8" r="2.6"/>
<circle cx="211" cy="274.7" r="3.3"/>
<circle cx="125.9" cy="290.6" r="3.1"/>
<circle cx="125.5" cy="214.9" r="2.3"/>
<circle cx="111.7" cy="226.8" r="2.4"/>
<circle cx="150" cy="162.4" r="3.1"/>
</g>
<polygon points="100.9,186.3 110.6,179.8 127.7,176.9 137,168.4 141.8,175.7 144,192.5 141.6,204.5 129.6,212.1 117.7,210 108,215.2 101.4,205.5 103,195.9" fill="#e8a9e1" stroke="#e8a9e1" stroke-width="2" stroke-linejoin="round"/>
<g fill="url(#gP)" stroke="#c982c4" stroke-width="0.45">
<circle cx="101.6" cy="186.1" r="2.1"/>
<circle cx="104.9" cy="184.3" r="2.4"/>
<circle cx="108.6" cy="182.3" r="2.9"/>
<circle cx="110.7" cy="179.3" r="2.1"/>
<circle cx="114.1" cy="179" r="2.7"/>
<circle cx="117.4" cy="178.8" r="2.8"/>
<circle cx="122" cy="178.2" r="3.2"/>
<circle cx="126.4" cy="177.1" r="2.4"/>
<circle cx="129" cy="176.2" r="2.5"/>
<circle cx="130" cy="175.1" r="2"/>
<circle cx="133.9" cy="171.5" r="2.7"/>
<circle cx="134.8" cy="169.5" r="2.1"/>
<circle cx="138.6" cy="170.9" r="2.1"/>
<circle cx="140.1" cy="173.8" r="2.7"/>
<circle cx="142.6" cy="175.5" r="2.9"/>
<circle cx="142.5" cy="180.9" r="3.2"/>
<circle cx="142.9" cy="183.3" r="2.5"/>
<circle cx="143.1" cy="187.3" r="2.7"/>
<circle cx="143.5" cy="190.7" r="2.7"/>
<circle cx="144.1" cy="192.6" r="3.1"/>
<circle cx="143.6" cy="196.4" r="2.6"/>
<circle cx="142.2" cy="199.6" r="2.6"/>
<circle cx="142.1" cy="203" r="2.3"/>
<circle cx="141.8" cy="204.6" r="2.8"/>
<circle cx="137.8" cy="207.9" r="2.1"/>
<circle cx="135.5" cy="209.2" r="2.1"/>
<circle cx="131.9" cy="209.7" r="2.4"/>
<circle cx="128.2" cy="211.8" r="2.1"/>
<circle cx="126.7" cy="211.8" r="2.5"/>
<circle cx="123.3" cy="211.3" r="2.2"/>
<circle cx="119.3" cy="210.4" r="2.3"/>
<circle cx="116.8" cy="210.2" r="2"/>
<circle cx="114.2" cy="211.2" r="2.2"/>
<circle cx="109.5" cy="213.9" r="2.3"/>
<circle cx="106.3" cy="213.8" r="3"/>
<circle cx="105.4" cy="212" r="2.7"/>
<circle cx="102.4" cy="207.9" r="2.4"/>
<circle cx="101.3" cy="204" r="2.8"/>
<circle cx="101.9" cy="200.5" r="2.7"/>
<circle cx="102.3" cy="198.1" r="2.9"/>
<circle cx="103.1" cy="194.9" r="2.1"/>
<circle cx="101.8" cy="191.3" r="2.6"/>
<circle cx="101.7" cy="187" r="2.7"/>
<circle cx="120.9" cy="190" r="3"/>
<circle cx="118.8" cy="190.5" r="3.1"/>
<circle cx="119.9" cy="191.4" r="2.6"/>
<circle cx="136.5" cy="199.7" r="2.9"/>
<circle cx="130.2" cy="194.3" r="2.9"/>
<circle cx="134.1" cy="173.9" r="2.3"/>
<circle cx="104.3" cy="206.6" r="2.1"/>
<circle cx="104.7" cy="203.6" r="2.7"/>
<circle cx="103.3" cy="200.2" r="2.9"/>
<circle cx="130.7" cy="187.9" r="2.7"/>
<circle cx="138.5" cy="175.2" r="2.4"/>
<circle cx="112.2" cy="183" r="2.3"/>
<circle cx="137.9" cy="194.4" r="2.6"/>
<circle cx="114.1" cy="208.9" r="3"/>
<circle cx="137.8" cy="180.4" r="2.2"/>
<circle cx="103.2" cy="193.5" r="2.4"/>
<circle cx="120.9" cy="191.2" r="2.7"/>
<circle cx="116.7" cy="205.9" r="2.2"/>
<circle cx="140.5" cy="194.4" r="2.1"/>
<circle cx="114.5" cy="193.3" r="2.5"/>
<circle cx="125.3" cy="183.5" r="2.3"/>
<circle cx="135.2" cy="182" r="2.9"/>
<circle cx="135.5" cy="196.1" r="2.5"/>
<circle cx="141.2" cy="189.2" r="3.1"/>
<circle cx="103.4" cy="188.7" r="2.8"/>
<circle cx="104" cy="196.3" r="2.2"/>
<circle cx="140.7" cy="194.6" r="3"/>
<circle cx="122.4" cy="199.9" r="2.8"/>
<circle cx="137" cy="175.2" r="3.1"/>
<circle cx="105" cy="205.1" r="3.1"/>
<circle cx="118.8" cy="199.2" r="2.3"/>
<circle cx="139.9" cy="200.5" r="2.2"/>
<circle cx="103.4" cy="200.9" r="2.1"/>
<circle cx="136.9" cy="182.1" r="2.3"/>
<circle cx="126" cy="183.3" r="2.7"/>
<circle cx="107.6" cy="211" r="2.4"/>
<circle cx="137.2" cy="175.5" r="3"/>
<circle cx="143.1" cy="186.7" r="2"/>
<circle cx="117.3" cy="198.3" r="2.3"/>
<circle cx="120.9" cy="202.4" r="2.5"/>
<circle cx="136.6" cy="174.1" r="3.1"/>
<circle cx="123.6" cy="182" r="2.4"/>
<circle cx="133.3" cy="191.6" r="3.1"/>
<circle cx="104.9" cy="191" r="3"/>
<circle cx="126.7" cy="193.7" r="2.1"/>
<circle cx="110.7" cy="211.6" r="2"/>
<circle cx="115.3" cy="189.4" r="2.3"/>
<circle cx="132.9" cy="176.7" r="2.9"/>
<circle cx="124.7" cy="205.2" r="2.7"/>
<circle cx="125.8" cy="184.9" r="2.4"/>
<circle cx="129.5" cy="176" r="2.2"/>
<circle cx="141.5" cy="183.9" r="3"/>
<circle cx="138.6" cy="190.8" r="2.2"/>
<circle cx="105" cy="209.5" r="2.1"/>
<circle cx="122.3" cy="193.4" r="2.1"/>
<circle cx="124" cy="192.1" r="2.4"/>
<circle cx="109.5" cy="187.3" r="2.2"/>
<circle cx="138.5" cy="191.8" r="3.1"/>
<circle cx="122" cy="205.4" r="2.7"/>
<circle cx="130.6" cy="179.1" r="2.9"/>
<circle cx="102.3" cy="186.8" r="2.6"/>
<circle cx="113.5" cy="210" r="2.1"/>
<circle cx="125.9" cy="179.3" r="2.7"/>
<circle cx="134.7" cy="201.6" r="2.1"/>
<circle cx="111.5" cy="196.4" r="3.2"/>
<circle cx="130.7" cy="206.5" r="2.4"/>
<circle cx="135.8" cy="190" r="3.1"/>
<circle cx="118.7" cy="187.4" r="2.1"/>
<circle cx="111.5" cy="202.7" r="2.8"/>
<circle cx="107.5" cy="184.5" r="2.2"/>
<circle cx="121.6" cy="191.6" r="2.9"/>
<circle cx="140" cy="203.5" r="2.8"/>
<circle cx="109.5" cy="197.6" r="3"/>
<circle cx="134.8" cy="172.7" r="2.9"/>
<circle cx="142.5" cy="199.8" r="2.9"/>
<circle cx="106.8" cy="207.1" r="3.1"/>
<circle cx="139.9" cy="203.2" r="3"/>
<circle cx="135.5" cy="196" r="2.5"/>
<circle cx="136.5" cy="205.1" r="3"/>
<circle cx="134.9" cy="180.2" r="3"/>
<circle cx="120.7" cy="179.4" r="2.6"/>
<circle cx="140" cy="200.4" r="2.9"/>
<circle cx="117.8" cy="205" r="3"/>
<circle cx="136.5" cy="187.4" r="2.1"/>
<circle cx="129" cy="207.5" r="2.4"/>
<circle cx="126.6" cy="207.5" r="3"/>
<circle cx="135.9" cy="188" r="2.7"/>
<circle cx="120.6" cy="184.1" r="2.3"/>
<circle cx="116.2" cy="207.9" r="2.7"/>
<circle cx="112.6" cy="201.2" r="2.5"/>
</g>
<polygon points="205.7,180.7 220.1,182 229.7,177.4 237.2,187.1 241.5,201.4 239.8,216.3 231.7,225.6 221,221 210.6,212.7 203.5,200 201.9,188" fill="#e8a9e1" stroke="#e8a9e1" stroke-width="2" stroke-linejoin="round"/>
<g fill="url(#gP)" stroke="#c982c4" stroke-width="0.45">
<circle cx="207.6" cy="180.3" r="2.8"/>
<circle cx="209.9" cy="180.6" r="2.3"/>
<circle cx="214.7" cy="181.1" r="3.1"/>
<circle cx="218.5" cy="181.6" r="2.6"/>
<circle cx="221.9" cy="181.9" r="2.2"/>
<circle cx="224.3" cy="179.8" r="2"/>
<circle cx="227.5" cy="178.7" r="3"/>
<circle cx="229.7" cy="177.2" r="2.7"/>
<circle cx="232.6" cy="180.9" r="3.1"/>
<circle cx="234.7" cy="182.9" r="2.7"/>
<circle cx="236.6" cy="185.1" r="2.8"/>
<circle cx="237.4" cy="188.5" r="2.8"/>
<circle cx="238.9" cy="192.4" r="3.2"/>
<circle cx="239.9" cy="194.7" r="2.7"/>
<circle cx="241.1" cy="199.4" r="2.9"/>
<circle cx="240.6" cy="202.5" r="2.2"/>
<circle cx="241.6" cy="205.5" r="2.7"/>
<circle cx="240" cy="208.2" r="2.9"/>
<circle cx="240" cy="211.9" r="2.3"/>
<circle cx="239.9" cy="215.1" r="2.8"/>
<circle cx="239.1" cy="217.2" r="3.2"/>
<circle cx="237.2" cy="219.2" r="2.2"/>
<circle cx="235.5" cy="222.2" r="2.4"/>
<circle cx="233.5" cy="224" r="2.2"/>
<circle cx="229.6" cy="224.6" r="2.1"/>
<circle cx="227.3" cy="224.5" r="3.2"/>
<circle cx="223.9" cy="223.1" r="2.2"/>
<circle cx="220.4" cy="220" r="2.3"/>
<circle cx="217.6" cy="219.2" r="2.3"/>
<circle cx="216.2" cy="216.5" r="3"/>
<circle cx="212.7" cy="213.7" r="2.2"/>
<circle cx="209.8" cy="211.4" r="2.8"/>
<circle cx="207.7" cy="207.9" r="3.1"/>
<circle cx="206.2" cy="205.5" r="2.3"/>
<circle cx="203.7" cy="202.2" r="2.7"/>
<circle cx="204.1" cy="199" r="2.3"/>
<circle cx="203.2" cy="197.2" r="2.8"/>
<circle cx="203.1" cy="192.6" r="2.4"/>
<circle cx="202.9" cy="190" r="2.8"/>
<circle cx="202.6" cy="187" r="2.9"/>
<circle cx="204" cy="184.1" r="2.4"/>
<circle cx="222.9" cy="202.5" r="2.8"/>
<circle cx="218.2" cy="201.6" r="3"/>
<circle cx="228.3" cy="205.2" r="2.5"/>
<circle cx="224.6" cy="190.6" r="3"/>
<circle cx="233.1" cy="217.8" r="2.2"/>
<circle cx="228.5" cy="213.7" r="2.6"/>
<circle cx="231.3" cy="216.9" r="2.8"/>
<circle cx="229.8" cy="211.3" r="2.7"/>
<circle cx="225.8" cy="217.1" r="2.3"/>
<circle cx="210.3" cy="188.2" r="2.1"/>
<circle cx="233.7" cy="194.8" r="2.8"/>
<circle cx="226.8" cy="184.1" r="2.3"/>
<circle cx="204.2" cy="198.9" r="2.7"/>
<circle cx="210.8" cy="207.7" r="2.4"/>
<circle cx="215" cy="204.8" r="2.3"/>
<circle cx="233.3" cy="187.5" r="3"/>
<circle cx="233.9" cy="203.3" r="2"/>
<circle cx="221.9" cy="197.8" r="2.1"/>
<circle cx="226.8" cy="212.3" r="2.7"/>
<circle cx="217.7" cy="202.1" r="2.7"/>
<circle cx="220.8" cy="183.9" r="2.5"/>
<circle cx="228.9" cy="211.5" r="2.5"/>
<circle cx="215.4" cy="186.6" r="2.5"/>
<circle cx="213.1" cy="186.8" r="2.9"/>
<circle cx="222.3" cy="198.5" r="2.2"/>
<circle cx="229.8" cy="186.9" r="2.3"/>
<circle cx="224.1" cy="211.2" r="3.2"/>
<circle cx="231.5" cy="223.1" r="3.1"/>
<circle cx="230.5" cy="212.1" r="2.1"/>
<circle cx="236.1" cy="212.2" r="2.8"/>
<circle cx="212.3" cy="194.5" r="2.2"/>
<circle cx="208.8" cy="194.5" r="3.1"/>
<circle cx="233.8" cy="199.3" r="2.1"/>
<circle cx="206.1" cy="184.8" r="2.9"/>
<circle cx="238" cy="215.7" r="2.6"/>
<circle cx="234.4" cy="183.6" r="2.1"/>
<circle cx="224.2" cy="201.9" r="2.3"/>
<circle cx="237.9" cy="211.6" r="3.1"/>
<circle cx="230.9" cy="195.9" r="3"/>
<circle cx="202.4" cy="187.7" r="2.7"/>
<circle cx="234.8" cy="215.3" r="2.6"/>
<circle cx="223" cy="180.9" r="2.4"/>
<circle cx="226.6" cy="220" r="2.6"/>
<circle cx="227.2" cy="187.3" r="2.3"/>
<circle cx="237.8" cy="195.9" r="2.1"/>
<circle cx="225.3" cy="183.5" r="2.2"/>
<circle cx="220" cy="205.6" r="2.8"/>
<circle cx="229.9" cy="198.6" r="2.1"/>
<circle cx="230.6" cy="180" r="2.6"/>
<circle cx="217.7" cy="209.8" r="2.9"/>
<circle cx="211.4" cy="208.7" r="2.8"/>
<circle cx="220.6" cy="184.3" r="3.1"/>
<circle cx="225.6" cy="180.5" r="2.3"/>
<circle cx="217.4" cy="215.4" r="3"/>
<circle cx="227" cy="213.1" r="2"/>
<circle cx="203.8" cy="189" r="3.1"/>
<circle cx="210.6" cy="209.8" r="3.1"/>
<circle cx="227.2" cy="221.7" r="2.3"/>
<circle cx="231.9" cy="182.4" r="3.2"/>
<circle cx="230" cy="186.4" r="3"/>
<circle cx="208.3" cy="202.1" r="2.1"/>
<circle cx="233.1" cy="220.3" r="3.1"/>
<circle cx="223.9" cy="217" r="2.6"/>
<circle cx="226.4" cy="206.1" r="3"/>
<circle cx="223.5" cy="191.4" r="2.5"/>
<circle cx="234" cy="199.5" r="2.1"/>
<circle cx="227.6" cy="187.4" r="2.5"/>
<circle cx="223.5" cy="194.4" r="2.1"/>
<circle cx="230.8" cy="218.3" r="3"/>
<circle cx="205.9" cy="195.1" r="2.4"/>
<circle cx="232.1" cy="184.6" r="2.7"/>
<circle cx="225.6" cy="202.5" r="2.5"/>
<circle cx="218" cy="206.8" r="2.8"/>
<circle cx="238.2" cy="212.7" r="3"/>
<circle cx="238.1" cy="217.7" r="2.9"/>
<circle cx="235.6" cy="198.2" r="3.1"/>
<circle cx="219.4" cy="211.4" r="2.3"/>
<circle cx="213.8" cy="194.2" r="2.4"/>
<circle cx="205.6" cy="198.8" r="3.2"/>
<circle cx="227.8" cy="222.3" r="2.9"/>
<circle cx="231.7" cy="190.6" r="2.3"/>
<circle cx="238.4" cy="193.3" r="2.9"/>
<circle cx="232.6" cy="220.3" r="3"/>
<circle cx="223" cy="182.5" r="3"/>
<circle cx="214.3" cy="207.6" r="2.4"/>
<circle cx="208.3" cy="203" r="2.8"/>
<circle cx="229.2" cy="224" r="2.1"/>
<circle cx="210.3" cy="191.3" r="3.1"/>
<circle cx="202.4" cy="190" r="2.9"/>
<circle cx="219.2" cy="210.5" r="2.8"/>
<circle cx="231.4" cy="213.7" r="2.3"/>
<circle cx="229.3" cy="187.5" r="2.3"/>
<circle cx="240.1" cy="208.4" r="2.7"/>
<circle cx="227.9" cy="206.2" r="2.8"/>
<circle cx="216.2" cy="184.3" r="2.1"/>
<circle cx="229.1" cy="190.6" r="2.9"/>
<circle cx="208.9" cy="182.3" r="2.4"/>
<circle cx="218.1" cy="210.6" r="2.5"/>
<circle cx="230.7" cy="182" r="3.1"/>
<circle cx="233.7" cy="209.7" r="2.3"/>
<circle cx="228" cy="205.7" r="2.8"/>
<circle cx="209" cy="184.4" r="2.1"/>
<circle cx="227.7" cy="204.9" r="2.3"/>
<circle cx="230.5" cy="184.1" r="2.9"/>
<circle cx="211.8" cy="195.1" r="2.6"/>
<circle cx="206.3" cy="189.4" r="3"/>
<circle cx="213.2" cy="195.8" r="2.9"/>
<circle cx="210.7" cy="186.8" r="2.3"/>
<circle cx="217.1" cy="195" r="2.8"/>
<circle cx="220.6" cy="219.3" r="2.1"/>
</g>
<polygon points="231.6,208.8 239.7,205 243.1,212.4 241.4,221.2 234.2,225 228.9,217.7" fill="#a8c4e1" stroke="#a8c4e1" stroke-width="2" stroke-linejoin="round"/>
<g fill="url(#gL)" stroke="#7fa7d0" stroke-width="0.45">
<circle cx="233.8" cy="207.6" r="2"/>
<circle cx="236.1" cy="206.3" r="2.7"/>
<circle cx="239.2" cy="205.1" r="2.2"/>
<circle cx="241.5" cy="208.6" r="2.1"/>
<circle cx="242.9" cy="213.7" r="2.6"/>
<circle cx="242" cy="215.8" r="2.6"/>
<circle cx="242.4" cy="220.4" r="2.1"/>
<circle cx="239.4" cy="221.9" r="2.2"/>
<circle cx="235.5" cy="223.4" r="2.3"/>
<circle cx="233.2" cy="224" r="2.1"/>
<circle cx="231.7" cy="221.4" r="2.7"/>
<circle cx="229.7" cy="220.4" r="2.5"/>
<circle cx="228.3" cy="217.6" r="2.5"/>
<circle cx="229.8" cy="215" r="2.5"/>
<circle cx="230.8" cy="211.5" r="2.7"/>
<circle cx="241.1" cy="212.3" r="2.9"/>
<circle cx="231.5" cy="209.5" r="2.6"/>
<circle cx="235.1" cy="207.8" r="2.2"/>
<circle cx="239.5" cy="216.7" r="2.9"/>
<circle cx="234.6" cy="218.6" r="2"/>
<circle cx="235.7" cy="215.2" r="2.9"/>
<circle cx="237.7" cy="209.3" r="2.8"/>
<circle cx="235.4" cy="209.5" r="3"/>
<circle cx="233.5" cy="213.1" r="2.3"/>
<circle cx="234.2" cy="208.2" r="2.8"/>
<circle cx="232.6" cy="214.1" r="2.6"/>
<circle cx="239" cy="207.7" r="2.2"/>
<circle cx="236.3" cy="216.6" r="2.9"/>
<circle cx="231.3" cy="216.7" r="2.5"/>
</g>
<polygon points="138,128 202,128 204,200 205,250 200,272 188,284 170,288 152,284 136,274 124,262 119,245 119,218 129,208 136,190" fill="#2563ae" opacity="0.8" filter="url(#soft)"/>
<g fill="none" stroke="#1d5aa3" stroke-width="2.3" stroke-linecap="round" stroke-linejoin="round">
<path d="M118 262 C126 284 146 292 158 278 C166 264 186 270 194 286"/>
<path d="M130 292 C146 284 168 300 186 290 C198 284 206 270 202 256"/>
<path d="M142 306 C154 296 172 312 184 302"/>
<path d="M142 272 C146 256 164 258 166 274 C168 288 152 290 148 278"/>
<path d="M176 268 C186 256 202 264 200 280 C198 292 182 292 180 280"/>
<path d="M120 230 C114 246 120 264 130 274"/>
<path d="M206 226 C214 240 212 262 204 274"/>
<path d="M150 318 C156 310 164 314 166 322"/>
<path d="M168 318 C174 310 182 314 180 324"/>
<path d="M160 296 C170 290 178 298 174 306 C170 312 160 308 160 296"/>
<path d="M186 276 C196 280 204 290 200 298"/>
<path d="M128 280 C134 290 144 296 152 300"/>
<path d="M134 262 C140 276 152 284 164 282 C176 280 184 270 196 274"/>
<path d="M146 288 C152 280 162 284 160 292 C158 300 148 298 146 288"/>
<path d="M170 284 C178 278 188 284 184 292 C180 300 170 296 170 284"/>
<path d="M124 250 C130 262 138 270 150 272"/>
<path d="M198 250 C204 262 200 276 190 282"/>
<path d="M156 300 C164 306 174 304 180 296"/>
<path d="M136 296 C142 302 150 306 158 306"/>
<path d="M164 310 C170 304 178 308 176 316"/>
<path d="M112 240 C116 256 122 268 132 276"/>
<path d="M208 240 C212 254 208 270 200 280"/>
</g>
<g fill="url(#gB)">
<circle cx="141" cy="138" r="3.8"/>
<circle cx="140" cy="141" r="3.8"/>
<circle cx="141.5" cy="144" r="3.8"/>
<circle cx="141.4" cy="147" r="3.8"/>
<circle cx="139.8" cy="150" r="3.8"/>
<circle cx="140.8" cy="153" r="3.8"/>
<circle cx="141.6" cy="156" r="3.8"/>
<circle cx="139.9" cy="159" r="3.8"/>
<circle cx="140.1" cy="162" r="3.8"/>
<circle cx="141.5" cy="165" r="3.8"/>
<circle cx="140.3" cy="168" r="3.8"/>
<circle cx="139.5" cy="171" r="3.8"/>
<circle cx="141.1" cy="174" r="3.8"/>
<circle cx="140.7" cy="177" r="3.8"/>
<circle cx="139.2" cy="180" r="3.8"/>
<circle cx="140.4" cy="183" r="3.8"/>
<circle cx="141" cy="186" r="3.8"/>
<circle cx="139.3" cy="189" r="3.8"/>
<circle cx="139.7" cy="192" r="3.8"/>
<circle cx="140.9" cy="195" r="3.8"/>
<circle cx="139.6" cy="198" r="3.8"/>
<circle cx="139" cy="201" r="3.8"/>
<circle cx="140.6" cy="204" r="3.8"/>
<circle cx="140" cy="207" r="3.8"/>
<circle cx="138.7" cy="210" r="3.8"/>
<circle cx="140" cy="213" r="3.8"/>
<circle cx="140.3" cy="216" r="3.8"/>
<circle cx="138.6" cy="219" r="3.8"/>
<circle cx="139.2" cy="222" r="3.8"/>
<circle cx="140.4" cy="225" r="3.8"/>
<circle cx="138.9" cy="228" r="3.8"/>
<circle cx="138.6" cy="231" r="3.8"/>
<circle cx="140.1" cy="234" r="3.8"/>
<circle cx="139.3" cy="237" r="3.8"/>
<circle cx="138.1" cy="240" r="3.8"/>
<circle cx="139.6" cy="243" r="3.8"/>
<circle cx="139.7" cy="246" r="3.8"/>
</g>
<g fill="url(#gB)">
<circle cx="153" cy="132" r="3.8"/>
<circle cx="152" cy="135" r="3.8"/>
<circle cx="153.5" cy="138" r="3.8"/>
<circle cx="153.4" cy="141" r="3.8"/>
<circle cx="151.9" cy="144" r="3.8"/>
<circle cx="152.9" cy="147" r="3.8"/>
<circle cx="153.7" cy="150" r="3.8"/>
<circle cx="152" cy="153" r="3.8"/>
<circle cx="152.2" cy="156" r="3.8"/>
<circle cx="153.6" cy="159" r="3.8"/>
<circle cx="152.4" cy="162" r="3.8"/>
<circle cx="151.6" cy="165" r="3.8"/>
<circle cx="153.2" cy="168" r="3.8"/>
<circle cx="152.9" cy="171" r="3.8"/>
<circle cx="151.4" cy="174" r="3.8"/>
<circle cx="152.6" cy="177" r="3.8"/>
<circle cx="153.2" cy="180" r="3.8"/>
<circle cx="151.5" cy="183" r="3.8"/>
<circle cx="151.9" cy="186" r="3.8"/>
<circle cx="153.2" cy="189" r="3.8"/>
<circle cx="151.8" cy="192" r="3.8"/>
<circle cx="151.3" cy="195" r="3.8"/>
<circle cx="152.9" cy="198" r="3.8"/>
<circle cx="152.3" cy="201" r="3.8"/>
<circle cx="151" cy="204" r="3.8"/>
<circle cx="152.3" cy="207" r="3.8"/>
<circle cx="152.6" cy="210" r="3.8"/>
<circle cx="151" cy="213" r="3.8"/>
<circle cx="151.6" cy="216" r="3.8"/>
<circle cx="152.7" cy="219" r="3.8"/>
<circle cx="151.3" cy="222" r="3.8"/>
<circle cx="150.9" cy="225" r="3.8"/>
<circle cx="152.5" cy="228" r="3.8"/>
<circle cx="151.7" cy="231" r="3.8"/>
<circle cx="150.5" cy="234" r="3.8"/>
<circle cx="152" cy="237" r="3.8"/>
<circle cx="152.1" cy="240" r="3.8"/>
<circle cx="150.5" cy="243" r="3.8"/>
<circle cx="151.3" cy="246" r="3.8"/>
<circle cx="152.3" cy="249" r="3.8"/>
<circle cx="150.7" cy="252" r="3.8"/>
<circle cx="150.6" cy="255" r="3.8"/>
<circle cx="152.1" cy="258" r="3.8"/>
<circle cx="151.1" cy="261" r="3.8"/>
<circle cx="150.1" cy="264" r="3.8"/>
<circle cx="151.7" cy="267" r="3.8"/>
<circle cx="151.5" cy="270" r="3.8"/>
</g>
<g fill="url(#gB)">
<circle cx="165" cy="140" r="3.8"/>
<circle cx="164.1" cy="143" r="3.8"/>
<circle cx="165.6" cy="146.1" r="3.8"/>
<circle cx="165.6" cy="149.1" r="3.8"/>
<circle cx="164" cy="152.2" r="3.8"/>
<circle cx="165.1" cy="155.2" r="3.8"/>
<circle cx="165.9" cy="158.3" r="3.8"/>
<circle cx="164.3" cy="161.3" r="3.8"/>
<circle cx="164.5" cy="164.3" r="3.8"/>
<circle cx="166" cy="167.4" r="3.8"/>
<circle cx="164.9" cy="170.4" r="3.8"/>
<circle cx="164.1" cy="173.5" r="3.8"/>
<circle cx="165.7" cy="176.5" r="3.8"/>
<circle cx="165.4" cy="179.6" r="3.8"/>
<circle cx="164" cy="182.6" r="3.8"/>
<circle cx="165.2" cy="185.7" r="3.8"/>
<circle cx="165.8" cy="188.7" r="3.8"/>
<circle cx="164.2" cy="191.7" r="3.8"/>
<circle cx="164.7" cy="194.8" r="3.8"/>
<circle cx="166" cy="197.8" r="3.8"/>
<circle cx="164.7" cy="200.9" r="3.8"/>
<circle cx="164.2" cy="203.9" r="3.8"/>
<circle cx="165.8" cy="207" r="3.8"/>
<circle cx="165.3" cy="210" r="3.8"/>
<circle cx="164" cy="213" r="3.8"/>
<circle cx="165.4" cy="216.1" r="3.8"/>
<circle cx="165.8" cy="219.1" r="3.8"/>
<circle cx="164.1" cy="222.2" r="3.8"/>
<circle cx="164.8" cy="225.2" r="3.8"/>
<circle cx="166" cy="228.3" r="3.8"/>
<circle cx="164.6" cy="231.3" r="3.8"/>
<circle cx="164.3" cy="234.3" r="3.8"/>
<circle cx="165.9" cy="237.4" r="3.8"/>
<circle cx="165.1" cy="240.4" r="3.8"/>
<circle cx="164" cy="243.5" r="3.8"/>
<circle cx="165.5" cy="246.5" r="3.8"/>
<circle cx="165.7" cy="249.6" r="3.8"/>
<circle cx="164.1" cy="252.6" r="3.8"/>
<circle cx="164.9" cy="255.7" r="3.8"/>
<circle cx="166" cy="258.7" r="3.8"/>
<circle cx="164.4" cy="261.7" r="3.8"/>
<circle cx="164.4" cy="264.8" r="3.8"/>
<circle cx="166" cy="267.8" r="3.8"/>
<circle cx="165" cy="270.9" r="3.8"/>
<circle cx="164.1" cy="273.9" r="3.8"/>
<circle cx="165.6" cy="277" r="3.8"/>
<circle cx="165.5" cy="280" r="3.8"/>
</g>
<g fill="url(#gB)">
<circle cx="177" cy="132" r="3.8"/>
<circle cx="176.1" cy="135" r="3.8"/>
<circle cx="177.7" cy="138" r="3.8"/>
<circle cx="177.6" cy="141.1" r="3.8"/>
<circle cx="176.1" cy="144.1" r="3.8"/>
<circle cx="177.2" cy="147.1" r="3.8"/>
<circle cx="178.1" cy="150.1" r="3.8"/>
<circle cx="176.5" cy="153.2" r="3.8"/>
<circle cx="176.7" cy="156.2" r="3.8"/>
<circle cx="178.2" cy="159.2" r="3.8"/>
<circle cx="177.1" cy="162.2" r="3.8"/>
<circle cx="176.4" cy="165.3" r="3.8"/>
<circle cx="178" cy="168.3" r="3.8"/>
<circle cx="177.7" cy="171.3" r="3.8"/>
<circle cx="176.3" cy="174.3" r="3.8"/>
<circle cx="177.6" cy="177.3" r="3.8"/>
<circle cx="178.2" cy="180.4" r="3.8"/>
<circle cx="176.6" cy="183.4" r="3.8"/>
<circle cx="177.1" cy="186.4" r="3.8"/>
<circle cx="178.4" cy="189.4" r="3.8"/>
<circle cx="177.2" cy="192.5" r="3.8"/>
<circle cx="176.7" cy="195.5" r="3.8"/>
<circle cx="178.3" cy="198.5" r="3.8"/>
<circle cx="177.8" cy="201.5" r="3.8"/>
<circle cx="176.6" cy="204.6" r="3.8"/>
<circle cx="177.9" cy="207.6" r="3.8"/>
<circle cx="178.4" cy="210.6" r="3.8"/>
<circle cx="176.8" cy="213.6" r="3.8"/>
<circle cx="177.4" cy="216.7" r="3.8"/>
<circle cx="178.7" cy="219.7" r="3.8"/>
<circle cx="177.3" cy="222.7" r="3.8"/>
<circle cx="177" cy="225.7" r="3.8"/>
<circle cx="178.6" cy="228.7" r="3.8"/>
<circle cx="177.9" cy="231.8" r="3.8"/>
<circle cx="176.8" cy="234.8" r="3.8"/>
<circle cx="178.3" cy="237.8" r="3.8"/>
<circle cx="178.5" cy="240.8" r="3.8"/>
<circle cx="176.9" cy="243.9" r="3.8"/>
<circle cx="177.8" cy="246.9" r="3.8"/>
<circle cx="178.9" cy="249.9" r="3.8"/>
<circle cx="177.4" cy="252.9" r="3.8"/>
<circle cx="177.4" cy="256" r="3.8"/>
<circle cx="178.9" cy="259" r="3.8"/>
<circle cx="178" cy="262" r="3.8"/>
</g>
<g fill="url(#gB)">
<circle cx="189" cy="140" r="3.8"/>
<circle cx="188" cy="143" r="3.8"/>
<circle cx="189.6" cy="146" r="3.8"/>
<circle cx="189.5" cy="149" r="3.8"/>
<circle cx="187.9" cy="152" r="3.8"/>
<circle cx="189" cy="155" r="3.8"/>
<circle cx="189.8" cy="158" r="3.8"/>
<circle cx="188.2" cy="161" r="3.8"/>
<circle cx="188.3" cy="164" r="3.8"/>
<circle cx="189.8" cy="167" r="3.8"/>
<circle cx="188.6" cy="170" r="3.8"/>
<circle cx="187.9" cy="173" r="3.8"/>
<circle cx="189.5" cy="176" r="3.8"/>
<circle cx="189.1" cy="179" r="3.8"/>
<circle cx="187.7" cy="182" r="3.8"/>
<circle cx="188.9" cy="185" r="3.8"/>
<circle cx="189.5" cy="188" r="3.8"/>
<circle cx="187.8" cy="191" r="3.8"/>
<circle cx="188.2" cy="194" r="3.8"/>
<circle cx="189.6" cy="197" r="3.8"/>
<circle cx="188.2" cy="200" r="3.8"/>
<circle cx="187.7" cy="203" r="3.8"/>
<circle cx="189.3" cy="206" r="3.8"/>
<circle cx="188.8" cy="209" r="3.8"/>
<circle cx="187.5" cy="212" r="3.8"/>
<circle cx="188.8" cy="215" r="3.8"/>
<circle cx="189.2" cy="218" r="3.8"/>
<circle cx="187.5" cy="221" r="3.8"/>
<circle cx="188.2" cy="224" r="3.8"/>
<circle cx="189.3" cy="227" r="3.8"/>
<circle cx="187.9" cy="230" r="3.8"/>
<circle cx="187.6" cy="233" r="3.8"/>
<circle cx="189.2" cy="236" r="3.8"/>
<circle cx="188.4" cy="239" r="3.8"/>
<circle cx="187.2" cy="242" r="3.8"/>
<circle cx="188.7" cy="245" r="3.8"/>
<circle cx="188.8" cy="248" r="3.8"/>
<circle cx="187.2" cy="251" r="3.8"/>
<circle cx="188.1" cy="254" r="3.8"/>
<circle cx="189.1" cy="257" r="3.8"/>
<circle cx="187.5" cy="260" r="3.8"/>
<circle cx="187.5" cy="263" r="3.8"/>
<circle cx="189" cy="266" r="3.8"/>
<circle cx="188" cy="269" r="3.8"/>
<circle cx="187.1" cy="272" r="3.8"/>
</g>
<g fill="url(#gB)">
<circle cx="199" cy="136" r="3.8"/>
<circle cx="198.1" cy="139" r="3.8"/>
<circle cx="199.7" cy="142" r="3.8"/>
<circle cx="199.6" cy="145" r="3.8"/>
<circle cx="198.1" cy="148" r="3.8"/>
<circle cx="199.2" cy="151" r="3.8"/>
<circle cx="200.1" cy="154" r="3.8"/>
<circle cx="198.5" cy="157" r="3.8"/>
<circle cx="198.7" cy="160" r="3.8"/>
<circle cx="200.2" cy="163" r="3.8"/>
<circle cx="199.1" cy="166" r="3.8"/>
<circle cx="198.4" cy="169" r="3.8"/>
<circle cx="200" cy="172" r="3.8"/>
<circle cx="199.8" cy="175" r="3.8"/>
<circle cx="198.4" cy="178" r="3.8"/>
<circle cx="199.6" cy="181" r="3.8"/>
<circle cx="200.3" cy="184" r="3.8"/>
<circle cx="198.7" cy="187" r="3.8"/>
<circle cx="199.1" cy="190" r="3.8"/>
<circle cx="200.5" cy="193" r="3.8"/>
<circle cx="199.2" cy="196" r="3.8"/>
<circle cx="198.7" cy="199" r="3.8"/>
<circle cx="200.4" cy="202" r="3.8"/>
<circle cx="199.9" cy="205" r="3.8"/>
<circle cx="198.6" cy="208" r="3.8"/>
<circle cx="200" cy="211" r="3.8"/>
<circle cx="200.4" cy="214" r="3.8"/>
<circle cx="198.9" cy="217" r="3.8"/>
<circle cx="199.5" cy="220" r="3.8"/>
<circle cx="200.8" cy="223" r="3.8"/>
<circle cx="199.4" cy="226" r="3.8"/>
<circle cx="199.1" cy="229" r="3.8"/>
<circle cx="200.7" cy="232" r="3.8"/>
<circle cx="200" cy="235" r="3.8"/>
<circle cx="198.9" cy="238" r="3.8"/>
<circle cx="200.4" cy="241" r="3.8"/>
<circle cx="200.6" cy="244" r="3.8"/>
<circle cx="199" cy="247" r="3.8"/>
<circle cx="199.9" cy="250" r="3.8"/>
</g>
<g fill="url(#gB)">
<circle cx="116" cy="212" r="3.8"/>
<circle cx="115.6" cy="215.2" r="3.8"/>
<circle cx="117.7" cy="217.9" r="3.8"/>
<circle cx="118.2" cy="220.9" r="3.8"/>
<circle cx="117.2" cy="224.2" r="3.8"/>
<circle cx="118.8" cy="227" r="3.8"/>
<circle cx="120.2" cy="229.8" r="3.8"/>
<circle cx="119.2" cy="233.1" r="3.8"/>
<circle cx="119.9" cy="236.1" r="3.8"/>
<circle cx="121.9" cy="238.8" r="3.8"/>
<circle cx="121.4" cy="242" r="3.8"/>
<circle cx="121.2" cy="245.2" r="3.8"/>
<circle cx="123.3" cy="247.9" r="3.8"/>
<circle cx="123.6" cy="250.9" r="3.8"/>
<circle cx="122.7" cy="254.2" r="3.8"/>
<circle cx="124.5" cy="257" r="3.8"/>
<circle cx="125.6" cy="259.8" r="3.8"/>
<circle cx="124.6" cy="263.1" r="3.8"/>
<circle cx="125.6" cy="266.1" r="3.8"/>
<circle cx="127.4" cy="268.8" r="3.8"/>
<circle cx="126.7" cy="272.1" r="3.8"/>
</g>
<g fill="url(#gB)">
<circle cx="130" cy="200" r="3.8"/>
<circle cx="129.2" cy="203.1" r="3.8"/>
<circle cx="130.9" cy="206.1" r="3.8"/>
<circle cx="131" cy="209.1" r="3.8"/>
<circle cx="129.7" cy="212.3" r="3.8"/>
<circle cx="130.9" cy="215.3" r="3.8"/>
<circle cx="131.9" cy="218.3" r="3.8"/>
<circle cx="130.4" cy="221.4" r="3.8"/>
<circle cx="130.8" cy="224.4" r="3.8"/>
<circle cx="132.4" cy="227.4" r="3.8"/>
<circle cx="131.4" cy="230.5" r="3.8"/>
<circle cx="130.9" cy="233.6" r="3.8"/>
<circle cx="132.6" cy="236.6" r="3.8"/>
<circle cx="132.5" cy="239.7" r="3.8"/>
<circle cx="131.2" cy="242.8" r="3.8"/>
<circle cx="132.6" cy="245.8" r="3.8"/>
<circle cx="133.4" cy="248.8" r="3.8"/>
<circle cx="131.9" cy="251.9" r="3.8"/>
<circle cx="132.5" cy="255" r="3.8"/>
<circle cx="134" cy="257.9" r="3.8"/>
</g>
<g fill="url(#gB)">
<circle cx="205" cy="200" r="3.8"/>
<circle cx="204" cy="203.1" r="3.8"/>
<circle cx="205.5" cy="206.2" r="3.8"/>
<circle cx="205.4" cy="209.3" r="3.8"/>
<circle cx="203.8" cy="212.4" r="3.8"/>
<circle cx="204.8" cy="215.6" r="3.8"/>
<circle cx="205.6" cy="218.7" r="3.8"/>
<circle cx="203.9" cy="221.8" r="3.8"/>
<circle cx="204.1" cy="224.9" r="3.8"/>
<circle cx="205.5" cy="228" r="3.8"/>
<circle cx="204.3" cy="231.1" r="3.8"/>
<circle cx="203.5" cy="234.2" r="3.8"/>
<circle cx="205.1" cy="237.3" r="3.8"/>
<circle cx="204.7" cy="240.5" r="3.8"/>
<circle cx="203.2" cy="243.5" r="3.8"/>
<circle cx="204.4" cy="246.7" r="3.8"/>
<circle cx="205" cy="249.8" r="3.8"/>
<circle cx="203.3" cy="252.9" r="3.8"/>
<circle cx="203.7" cy="256" r="3.8"/>
</g>
<g fill="url(#gB)">
<circle cx="154" cy="320" r="2.8"/>
<circle cx="153.3" cy="322.7" r="2.8"/>
<circle cx="155" cy="325.2" r="2.8"/>
<circle cx="155.1" cy="327.8" r="2.8"/>
<circle cx="153.8" cy="330.5" r="2.8"/>
<circle cx="155.1" cy="333" r="2.8"/>
</g>
<g fill="url(#gB)">
<circle cx="171" cy="320" r="2.8"/>
<circle cx="170.3" cy="322.7" r="2.8"/>
<circle cx="172" cy="325.2" r="2.8"/>
<circle cx="172.1" cy="327.8" r="2.8"/>
<circle cx="170.8" cy="330.5" r="2.8"/>
<circle cx="172.1" cy="333" r="2.8"/>
</g>
<g fill="url(#gB)">
<circle cx="138" cy="268" r="2.8"/>
<circle cx="137.7" cy="270.6" r="2.8"/>
<circle cx="139.8" cy="272.7" r="2.8"/>
<circle cx="140.3" cy="275.1" r="2.8"/>
<circle cx="139.5" cy="277.8" r="2.8"/>
<circle cx="141.1" cy="280" r="2.8"/>
<circle cx="142.5" cy="282.2" r="2.8"/>
<circle cx="141.6" cy="285" r="2.8"/>
<circle cx="142.3" cy="287.3" r="2.8"/>
<circle cx="144.4" cy="289.4" r="2.8"/>
<circle cx="143.9" cy="292" r="2.8"/>
</g>
<g fill="url(#gB)">
<circle cx="192" cy="262" r="2.8"/>
<circle cx="190.7" cy="264.4" r="2.8"/>
<circle cx="191.9" cy="267.1" r="2.8"/>
<circle cx="191.5" cy="269.6" r="2.8"/>
<circle cx="189.7" cy="271.9" r="2.8"/>
<circle cx="190.4" cy="274.5" r="2.8"/>
<circle cx="190.9" cy="277.1" r="2.8"/>
<circle cx="189" cy="279.4" r="2.8"/>
<circle cx="188.9" cy="281.9" r="2.8"/>
<circle cx="190" cy="284.6" r="2.8"/>
<circle cx="188.5" cy="287" r="2.8"/>
<circle cx="187.5" cy="289.4" r="2.8"/>
<circle cx="188.7" cy="292.1" r="2.8"/>
</g>
<g fill="none" stroke="#a23cb4" stroke-width="3.2" stroke-linecap="round" stroke-linejoin="round">
<path d="M146 142 C152 134 162 140 158 150 C154 160 162 166 170 160 C176 154 172 146 166 148"/>
<path d="M160 132 C170 128 180 134 176 142 C172 150 180 158 190 152"/>
<path d="M150 158 C158 152 166 160 160 168 C154 176 160 184 168 180"/>
<path d="M176 156 C186 150 196 158 190 166 C184 174 192 182 200 176"/>
<path d="M140 168 C146 160 152 170 148 178"/>
</g>
<g fill="none" stroke="#c050c4" stroke-width="2.2" stroke-linecap="round" stroke-linejoin="round">
<path d="M140 150 C146 140 158 146 152 158 C148 166 138 168 136 178"/>
<path d="M168 140 C178 134 186 144 180 152 C174 160 184 168 192 162"/>
<path d="M126 172 C134 164 140 176 134 186 C130 194 138 200 144 196"/>
<path d="M194 150 C202 146 204 160 198 166 C194 172 200 180 206 178"/>
<path d="M156 168 C162 160 170 166 166 174"/>
<path d="M176 172 C182 166 190 172 186 180"/>
<path d="M144 132 C150 128 156 132 154 138"/>
<path d="M184 130 C192 128 198 134 194 140"/>
<path d="M162 176 C168 186 160 194 166 202"/>
<path d="M182 184 C190 190 184 200 190 206"/>
</g>
<g fill="none" stroke="#c95cc2" stroke-width="2.4" stroke-linecap="round" stroke-linejoin="round">
<path d="M108 196 C118 188 132 194 140 204"/>
<path d="M110 204 C120 200 128 204 134 210"/>
<path d="M208 194 C216 188 228 194 234 206 C228 214 216 210 212 202"/>
<path d="M212 212 C220 208 230 212 236 218"/>
<path d="M118 186 C126 182 134 184 140 190"/>
</g>
<polygon points="118,109.7 116.5,95 121,83.3 126.9,74.5 135.7,67.2 147.5,62.9 159.2,64.5 166.5,70 173.7,66 185.5,61.4 197.3,62.7 205.2,70.5 211,82.3 217,89.1 210,100.9 206.6,115.6 205.2,127.4 191.3,124.3 177.6,127.1 165,129 150.4,125.1 135.7,128.3 126.7,130.3 120.9,121.5" fill="#adadad" stroke="#adadad" stroke-width="2" stroke-linejoin="round"/>
<g fill="url(#gY)" stroke="#7f7f7f" stroke-width="0.45">
<circle cx="118.5" cy="109.1" r="3.1"/>
<circle cx="117" cy="104.6" r="2.5"/>
<circle cx="117.9" cy="101.6" r="2"/>
<circle cx="116.5" cy="98.8" r="3.1"/>
<circle cx="116.8" cy="94.8" r="3"/>
<circle cx="118.1" cy="90.3" r="2.3"/>
<circle cx="119.3" cy="88.5" r="3.2"/>
<circle cx="120" cy="83.8" r="3.2"/>
<circle cx="121.1" cy="82.6" r="2.3"/>
<circle cx="123" cy="80" r="2.9"/>
<circle cx="125.4" cy="77.5" r="2.6"/>
<circle cx="128.5" cy="72.7" r="2.6"/>
<circle cx="131.4" cy="71.3" r="2.2"/>
<circle cx="134.9" cy="67.8" r="2.6"/>
<circle cx="136.9" cy="66.4" r="3.3"/>
<circle cx="139.8" cy="65.9" r="2.5"/>
<circle cx="143.2" cy="64" r="2.3"/>
<circle cx="144.5" cy="63.1" r="2.2"/>
<circle cx="148.3" cy="62.3" r="2.8"/>
<circle cx="153.7" cy="63.5" r="2.9"/>
<circle cx="155.8" cy="64.1" r="2"/>
<circle cx="159.6" cy="65" r="3.3"/>
<circle cx="163.3" cy="67.4" r="2.8"/>
<circle cx="165.8" cy="68.5" r="3"/>
<circle cx="166.7" cy="70.1" r="2.8"/>
<circle cx="172.5" cy="67.1" r="2.3"/>
<circle cx="173.8" cy="66.3" r="2.4"/>
<circle cx="176" cy="64.2" r="2.9"/>
<circle cx="179.2" cy="63.3" r="2.9"/>
<circle cx="183.5" cy="61.2" r="3.2"/>
<circle cx="187.2" cy="61.4" r="2.7"/>
<circle cx="190.1" cy="61.9" r="2.3"/>
<circle cx="192.8" cy="61.7" r="2.1"/>
<circle cx="198.6" cy="63.3" r="3"/>
<circle cx="200.8" cy="66.4" r="2.2"/>
<circle cx="204.1" cy="68.7" r="2.2"/>
<circle cx="205.6" cy="72.1" r="2.3"/>
<circle cx="207.8" cy="74.2" r="2.8"/>
<circle cx="208.6" cy="77.2" r="3"/>
<circle cx="209.1" cy="80" r="2.7"/>
<circle cx="210.7" cy="82.6" r="2.1"/>
<circle cx="213.4" cy="85" r="2.6"/>
<circle cx="216" cy="86.8" r="2.9"/>
<circle cx="216.4" cy="89.7" r="2.9"/>
<circle cx="215.3" cy="92.7" r="2.4"/>
<circle cx="212.4" cy="95.6" r="2.3"/>
<circle cx="211.5" cy="99.6" r="3.2"/>
<circle cx="209.4" cy="102" r="2.9"/>
<circle cx="209.5" cy="103.3" r="2.1"/>
<circle cx="207.9" cy="108.3" r="3.1"/>
<circle cx="207.3" cy="109.9" r="2.7"/>
<circle cx="206.9" cy="113.9" r="2.7"/>
<circle cx="205.8" cy="116.7" r="2.5"/>
<circle cx="205.6" cy="120.9" r="2.3"/>
<circle cx="205.6" cy="124.5" r="3"/>
<circle cx="204.4" cy="127.9" r="3.2"/>
<circle cx="199.8" cy="126.2" r="2.8"/>
<circle cx="197" cy="126.5" r="3.2"/>
<circle cx="194.5" cy="125.2" r="2.4"/>
<circle cx="191.6" cy="124.7" r="2.6"/>
<circle cx="187.6" cy="124.3" r="3.3"/>
<circle cx="184" cy="126.1" r="2.2"/>
<circle cx="180.2" cy="125.9" r="2.7"/>
<circle cx="175.5" cy="126.8" r="3"/>
<circle cx="173.4" cy="127.1" r="2.3"/>
<circle cx="168.9" cy="127.9" r="3"/>
<circle cx="167.1" cy="128.7" r="3.2"/>
<circle cx="163.6" cy="128.7" r="2.9"/>
<circle cx="160.2" cy="127.4" r="3.2"/>
<circle cx="159.5" cy="127.1" r="2.3"/>
<circle cx="155.8" cy="127.3" r="2.2"/>
<circle cx="151.6" cy="125" r="3"/>
<circle cx="149.3" cy="125.1" r="3.1"/>
<circle cx="146.1" cy="125.3" r="3"/>
<circle cx="144.1" cy="127.3" r="2.4"/>
<circle cx="140.6" cy="126.9" r="2.5"/>
<circle cx="137.7" cy="127.6" r="2.1"/>
<circle cx="135.9" cy="128.2" r="2.8"/>
<circle cx="131.5" cy="128.9" r="3.2"/>
<circle cx="129.1" cy="130.3" r="3"/>
<circle cx="125.4" cy="129.1" r="2.5"/>
<circle cx="123.2" cy="126" r="2.4"/>
<circle cx="121.6" cy="123.5" r="3.1"/>
<circle cx="119.9" cy="120.6" r="3"/>
<circle cx="120.1" cy="116.6" r="3.1"/>
<circle cx="119.1" cy="114.4" r="3"/>
<circle cx="118.9" cy="110.8" r="2.4"/>
<circle cx="141.6" cy="68.3" r="2.4"/>
<circle cx="139.3" cy="66.2" r="2.1"/>
<circle cx="191" cy="75" r="2.6"/>
<circle cx="156.9" cy="116.7" r="3.2"/>
<circle cx="147.6" cy="105" r="3.2"/>
<circle cx="163.8" cy="123.4" r="3"/>
<circle cx="147.8" cy="121.6" r="2.7"/>
<circle cx="127.1" cy="101.9" r="3.1"/>
<circle cx="168.6" cy="94.7" r="2.5"/>
<circle cx="205" cy="107.3" r="2.3"/>
<circle cx="152.9" cy="86.4" r="3.2"/>
<circle cx="186.4" cy="70" r="3.2"/>
<circle cx="120" cy="102.1" r="2.6"/>
<circle cx="188.6" cy="91" r="2.1"/>
<circle cx="169.1" cy="117.9" r="3"/>
<circle cx="152.3" cy="76.7" r="3"/>
<circle cx="197.1" cy="76.5" r="3.1"/>
<circle cx="154.8" cy="110.3" r="3.2"/>
<circle cx="136.8" cy="82.2" r="2.4"/>
<circle cx="190.1" cy="74.2" r="2.7"/>
<circle cx="166.8" cy="107.5" r="2.2"/>
<circle cx="172.9" cy="116.2" r="2.2"/>
<circle cx="208" cy="99.4" r="3"/>
<circle cx="203.8" cy="86.3" r="3.2"/>
<circle cx="167" cy="123.3" r="3.2"/>
<circle cx="212.5" cy="96.6" r="3.2"/>
<circle cx="172.8" cy="71.3" r="2.8"/>
<circle cx="197.2" cy="90.6" r="2.8"/>
<circle cx="142.5" cy="80.4" r="2.5"/>
<circle cx="168.1" cy="93.7" r="2.1"/>
<circle cx="188.6" cy="113" r="2.3"/>
<circle cx="142.2" cy="97" r="2.2"/>
<circle cx="177.1" cy="123.7" r="2.3"/>
<circle cx="175.3" cy="111.1" r="3"/>
<circle cx="188.1" cy="110.4" r="2.4"/>
<circle cx="200.8" cy="125.2" r="2.1"/>
<circle cx="211.4" cy="91.9" r="2.1"/>
<circle cx="123.5" cy="116.3" r="2.9"/>
<circle cx="130.8" cy="93.1" r="2.8"/>
<circle cx="193.5" cy="78.3" r="2.3"/>
<circle cx="132.7" cy="89.6" r="2.8"/>
<circle cx="147" cy="72.5" r="2.3"/>
<circle cx="148.2" cy="96.2" r="2.2"/>
<circle cx="164.7" cy="91.7" r="3.3"/>
<circle cx="165.4" cy="126.5" r="2.6"/>
<circle cx="136.4" cy="102.2" r="2.2"/>
<circle cx="157" cy="85.8" r="2.6"/>
<circle cx="151.9" cy="109" r="2.5"/>
<circle cx="131.8" cy="121" r="2.7"/>
<circle cx="189.7" cy="85.8" r="2.8"/>
<circle cx="209" cy="89.1" r="2.6"/>
<circle cx="146.5" cy="99.6" r="2.9"/>
<circle cx="131.1" cy="86.6" r="3.1"/>
<circle cx="196" cy="102.1" r="2.9"/>
<circle cx="171.7" cy="89.1" r="2.2"/>
<circle cx="128.1" cy="123.3" r="3"/>
<circle cx="164.7" cy="95.5" r="2.5"/>
<circle cx="206.5" cy="85.5" r="2.7"/>
<circle cx="164.4" cy="84.3" r="2.5"/>
<circle cx="177.7" cy="115.6" r="2.3"/>
<circle cx="153.7" cy="88.1" r="2.5"/>
<circle cx="208.3" cy="98.5" r="2.4"/>
<circle cx="149.9" cy="118" r="2.2"/>
<circle cx="185.8" cy="62.9" r="2.3"/>
<circle cx="122.5" cy="116.9" r="2.2"/>
<circle cx="143" cy="111.9" r="2.9"/>
<circle cx="171.9" cy="124.9" r="2.1"/>
<circle cx="209.5" cy="91.3" r="2.3"/>
<circle cx="191.7" cy="120.6" r="2.5"/>
<circle cx="125.9" cy="121.6" r="3"/>
<circle cx="187.7" cy="104.8" r="2.1"/>
<circle cx="132.8" cy="73.8" r="2.8"/>
<circle cx="160.2" cy="88.3" r="2.3"/>
<circle cx="134.1" cy="73.8" r="2.2"/>
<circle cx="151.8" cy="112.2" r="2.1"/>
<circle cx="169.8" cy="108.3" r="2"/>
<circle cx="160.7" cy="115.9" r="2.7"/>
<circle cx="161.9" cy="122.1" r="2.8"/>
<circle cx="150.4" cy="88.7" r="3.2"/>
<circle cx="202.9" cy="124.5" r="2.7"/>
<circle cx="130.8" cy="73.4" r="2.5"/>
<circle cx="185.9" cy="61.7" r="3"/>
<circle cx="195.5" cy="96.9" r="2"/>
<circle cx="196.7" cy="89.9" r="2.9"/>
<circle cx="173.8" cy="111.6" r="2.5"/>
<circle cx="148.3" cy="87.3" r="2.3"/>
<circle cx="195.7" cy="118" r="3.3"/>
<circle cx="185.6" cy="83.3" r="3"/>
<circle cx="142.9" cy="103.5" r="2.2"/>
<circle cx="202.7" cy="95.1" r="2.4"/>
<circle cx="131.5" cy="113.8" r="2.7"/>
<circle cx="207.7" cy="101.8" r="2.6"/>
<circle cx="194.6" cy="68.5" r="2.4"/>
<circle cx="127.9" cy="121.5" r="2.6"/>
<circle cx="189.5" cy="79.1" r="2.9"/>
<circle cx="181.7" cy="68.1" r="2.6"/>
<circle cx="189" cy="76.2" r="2.9"/>
<circle cx="144.4" cy="86.9" r="3.2"/>
<circle cx="159.4" cy="100.8" r="3.1"/>
<circle cx="192.7" cy="92.8" r="3.1"/>
<circle cx="164" cy="69.5" r="3"/>
<circle cx="131.1" cy="108.2" r="2.1"/>
<circle cx="190.9" cy="70.4" r="2.8"/>
<circle cx="154.3" cy="78.5" r="3.1"/>
<circle cx="119.8" cy="94.3" r="2.1"/>
<circle cx="202.1" cy="123" r="2"/>
<circle cx="163.2" cy="93.7" r="2.9"/>
<circle cx="189.8" cy="85" r="3.2"/>
<circle cx="135.1" cy="70.8" r="3.1"/>
<circle cx="128.6" cy="74.2" r="2.7"/>
<circle cx="150.3" cy="72.7" r="3.2"/>
<circle cx="164.1" cy="115.6" r="2.3"/>
<circle cx="207.6" cy="103.6" r="3.3"/>
<circle cx="194" cy="104.9" r="2.7"/>
<circle cx="202.4" cy="92" r="2.1"/>
<circle cx="185" cy="112.7" r="2.3"/>
<circle cx="163.1" cy="118.1" r="3.3"/>
<circle cx="185.2" cy="99.6" r="2.5"/>
<circle cx="133.4" cy="70.8" r="2.6"/>
<circle cx="166.1" cy="79.8" r="2.5"/>
<circle cx="172.2" cy="113.9" r="2.8"/>
<circle cx="132.8" cy="122.5" r="2.5"/>
<circle cx="130.6" cy="101.5" r="3.3"/>
<circle cx="155.2" cy="99.1" r="2.4"/>
<circle cx="129" cy="81" r="2.8"/>
<circle cx="173.1" cy="126.8" r="2.9"/>
<circle cx="180.2" cy="98.8" r="3.1"/>
<circle cx="183.8" cy="86.2" r="2.8"/>
<circle cx="172.1" cy="75.6" r="2.7"/>
<circle cx="128.4" cy="119.1" r="2.9"/>
<circle cx="185.3" cy="125.3" r="3.3"/>
<circle cx="184.7" cy="110.5" r="2"/>
<circle cx="121.4" cy="90.8" r="3.3"/>
<circle cx="148" cy="100.6" r="2"/>
<circle cx="158.3" cy="123.6" r="2.8"/>
<circle cx="136.9" cy="73.7" r="3.1"/>
<circle cx="126.7" cy="125.6" r="2.3"/>
<circle cx="205" cy="96.9" r="2.4"/>
<circle cx="213.6" cy="89.3" r="2.9"/>
<circle cx="123.3" cy="118.6" r="3.3"/>
<circle cx="127.6" cy="112.8" r="2.4"/>
<circle cx="131.4" cy="86.5" r="2.9"/>
<circle cx="182.2" cy="72.5" r="2.9"/>
<circle cx="171.9" cy="86.1" r="3.2"/>
<circle cx="142.1" cy="71.1" r="2.2"/>
<circle cx="131.5" cy="102" r="3"/>
<circle cx="132.6" cy="96" r="2.7"/>
<circle cx="172.8" cy="89.8" r="2.7"/>
<circle cx="159" cy="77.7" r="3"/>
<circle cx="140.8" cy="118.2" r="2.3"/>
<circle cx="125.8" cy="94.3" r="2.5"/>
<circle cx="150.2" cy="114.1" r="2.3"/>
<circle cx="183.8" cy="118.9" r="2.6"/>
<circle cx="167.1" cy="125.1" r="2.8"/>
<circle cx="124.8" cy="84.2" r="2.1"/>
<circle cx="181.7" cy="90.6" r="2.4"/>
<circle cx="168" cy="126" r="2.3"/>
<circle cx="132" cy="82.4" r="2.4"/>
<circle cx="159.6" cy="72.8" r="2.1"/>
<circle cx="128.8" cy="119.8" r="2.8"/>
<circle cx="132.2" cy="104.5" r="2.1"/>
<circle cx="167.4" cy="84.5" r="2.1"/>
<circle cx="191.1" cy="110.8" r="2.7"/>
<circle cx="133.4" cy="107.5" r="2.6"/>
<circle cx="183" cy="67.7" r="3.2"/>
<circle cx="156.5" cy="75" r="2.1"/>
<circle cx="150.2" cy="79.7" r="2.9"/>
<circle cx="138.9" cy="89" r="2.9"/>
<circle cx="159.8" cy="72.1" r="2.1"/>
<circle cx="167" cy="95" r="2.3"/>
<circle cx="183.8" cy="95.5" r="3.1"/>
<circle cx="145.8" cy="125.8" r="3.1"/>
<circle cx="164.1" cy="71.1" r="2.6"/>
<circle cx="129.3" cy="108.7" r="2.9"/>
<circle cx="121" cy="110.7" r="3"/>
<circle cx="127.8" cy="83.6" r="2.1"/>
<circle cx="175.1" cy="111.2" r="2.5"/>
<circle cx="186.4" cy="86.7" r="2.9"/>
<circle cx="125.7" cy="111.4" r="3.1"/>
<circle cx="180.5" cy="72.1" r="3.1"/>
<circle cx="188.5" cy="69.3" r="2.5"/>
<circle cx="120.8" cy="85.8" r="3.1"/>
<circle cx="203.4" cy="101.9" r="3.3"/>
<circle cx="173.4" cy="74.9" r="2.7"/>
<circle cx="165" cy="84.6" r="2.5"/>
<circle cx="167.8" cy="101.9" r="2.3"/>
<circle cx="144.4" cy="96" r="2.7"/>
<circle cx="158.6" cy="107.2" r="2.2"/>
<circle cx="170" cy="80.4" r="3"/>
<circle cx="187.2" cy="115.2" r="2.7"/>
<circle cx="141.5" cy="125.2" r="2.7"/>
<circle cx="154.2" cy="81.4" r="2.5"/>
<circle cx="187.7" cy="117.8" r="2.6"/>
<circle cx="190" cy="76" r="2.6"/>
<circle cx="152.5" cy="82.5" r="2.5"/>
<circle cx="192.4" cy="111.9" r="2.3"/>
<circle cx="140" cy="115.5" r="2.9"/>
<circle cx="184.5" cy="105.2" r="2.9"/>
<circle cx="143.9" cy="65.6" r="2.5"/>
<circle cx="169.2" cy="107.6" r="3.3"/>
<circle cx="197.3" cy="77.2" r="2.4"/>
<circle cx="127.4" cy="116.2" r="3"/>
<circle cx="165.5" cy="86.8" r="2.4"/>
<circle cx="165.5" cy="110.5" r="3.2"/>
<circle cx="201.8" cy="121.2" r="2.6"/>
<circle cx="158.8" cy="83" r="3.3"/>
<circle cx="134.9" cy="72.2" r="2.4"/>
<circle cx="149.8" cy="120.1" r="3.2"/>
<circle cx="159.4" cy="74.6" r="3"/>
<circle cx="154.2" cy="69.6" r="3.2"/>
<circle cx="160.7" cy="88.8" r="2.8"/>
<circle cx="155.7" cy="87.5" r="2"/>
<circle cx="153.9" cy="113.9" r="2.4"/>
<circle cx="184.8" cy="104.4" r="2.2"/>
<circle cx="118.5" cy="107.9" r="2.8"/>
<circle cx="146" cy="75.2" r="3.1"/>
<circle cx="207.9" cy="77.5" r="2.8"/>
<circle cx="174.3" cy="83.6" r="2"/>
<circle cx="149.2" cy="105.8" r="2.8"/>
<circle cx="167.8" cy="69.8" r="2.3"/>
<circle cx="147.8" cy="90.1" r="2.5"/>
<circle cx="202.6" cy="78.2" r="2.8"/>
<circle cx="154.4" cy="64" r="3"/>
<circle cx="198" cy="79.9" r="3"/>
<circle cx="122" cy="87.6" r="2.3"/>
<circle cx="179.3" cy="115" r="3.1"/>
<circle cx="171.6" cy="88.1" r="3"/>
<circle cx="127" cy="79.3" r="3"/>
<circle cx="125.6" cy="93.2" r="2.3"/>
<circle cx="125.6" cy="86.8" r="2.6"/>
<circle cx="167.5" cy="81.3" r="2.9"/>
<circle cx="133.5" cy="96.6" r="2.6"/>
<circle cx="153.9" cy="120.8" r="2.3"/>
<circle cx="204.7" cy="86" r="2.4"/>
<circle cx="178.3" cy="100.2" r="2.4"/>
<circle cx="125" cy="127.2" r="2.5"/>
<circle cx="128" cy="106.6" r="2.7"/>
<circle cx="149.4" cy="84" r="3.1"/>
<circle cx="150.5" cy="90.1" r="3.2"/>
<circle cx="152.8" cy="89.1" r="2.2"/>
<circle cx="183.1" cy="107.2" r="2.6"/>
<circle cx="157.3" cy="77.4" r="3"/>
<circle cx="162.5" cy="118.7" r="2.5"/>
<circle cx="190.2" cy="63.3" r="2.3"/>
<circle cx="184.4" cy="95.6" r="2.6"/>
<circle cx="136.4" cy="73.3" r="2.8"/>
<circle cx="186.2" cy="79.2" r="2.8"/>
<circle cx="130.2" cy="103.6" r="2.2"/>
<circle cx="167.7" cy="83" r="2.7"/>
<circle cx="130" cy="94.7" r="2.8"/>
<circle cx="130" cy="82.6" r="2.9"/>
<circle cx="171.4" cy="103.9" r="3"/>
<circle cx="173.9" cy="76.7" r="2.6"/>
<circle cx="199.9" cy="100.4" r="3"/>
<circle cx="153.1" cy="92.3" r="3.3"/>
<circle cx="199.1" cy="106.4" r="2.1"/>
<circle cx="189.7" cy="79.8" r="3.1"/>
<circle cx="134.3" cy="118.5" r="2.7"/>
<circle cx="160.7" cy="118.6" r="2.9"/>
<circle cx="170" cy="120.8" r="2.3"/>
<circle cx="206.8" cy="84.7" r="2"/>
<circle cx="150.3" cy="65.9" r="2.1"/>
<circle cx="179.2" cy="69.7" r="2.2"/>
<circle cx="145.9" cy="80.6" r="3.2"/>
<circle cx="196.5" cy="80.7" r="3.2"/>
<circle cx="198" cy="111.9" r="2.3"/>
<circle cx="125.7" cy="125.2" r="2.7"/>
<circle cx="178" cy="120.8" r="2.2"/>
<circle cx="186.8" cy="93.4" r="3"/>
<circle cx="162.3" cy="74.9" r="3.2"/>
<circle cx="144.8" cy="112.7" r="3.1"/>
<circle cx="141.4" cy="109.3" r="2.5"/>
<circle cx="139" cy="76.3" r="3.2"/>
<circle cx="153.5" cy="96.5" r="2.7"/>
<circle cx="119.2" cy="113.3" r="3"/>
<circle cx="204.5" cy="86" r="2.3"/>
<circle cx="151.4" cy="111.9" r="2.9"/>
<circle cx="157.3" cy="97.5" r="2.2"/>
<circle cx="208.8" cy="93.9" r="2.7"/>
<circle cx="195.6" cy="75" r="2.9"/>
<circle cx="152" cy="117.4" r="2.1"/>
<circle cx="144.2" cy="105.2" r="2.6"/>
<circle cx="154.4" cy="101.3" r="2.3"/>
<circle cx="196.8" cy="78.9" r="3.1"/>
<circle cx="172" cy="102.8" r="2.8"/>
<circle cx="129.1" cy="115" r="2.4"/>
<circle cx="203.2" cy="115.6" r="2.9"/>
<circle cx="198.4" cy="91.5" r="2.9"/>
<circle cx="126.6" cy="89.8" r="2.7"/>
<circle cx="131.5" cy="76.6" r="3.1"/>
<circle cx="155.5" cy="71.6" r="2.2"/>
<circle cx="174.5" cy="74.5" r="2.6"/>
<circle cx="170.5" cy="91.7" r="2.7"/>
<circle cx="120.4" cy="114.3" r="2.7"/>
<circle cx="170.6" cy="76.4" r="3"/>
<circle cx="147.3" cy="111.5" r="2.3"/>
<circle cx="174.1" cy="106.1" r="2.5"/>
<circle cx="181.2" cy="109" r="2.2"/>
<circle cx="171.8" cy="111.9" r="2.1"/>
<circle cx="200.8" cy="121.4" r="2.1"/>
<circle cx="141.5" cy="67.2" r="2.3"/>
<circle cx="125.2" cy="95.1" r="2.3"/>
<circle cx="146.7" cy="93.2" r="2.5"/>
<circle cx="195.7" cy="111.2" r="2.1"/>
<circle cx="149.6" cy="68.8" r="2.9"/>
<circle cx="192.6" cy="89.8" r="3.2"/>
<circle cx="155.9" cy="82.9" r="2.1"/>
<circle cx="211.8" cy="96.7" r="2.6"/>
<circle cx="160.4" cy="114.4" r="3.1"/>
<circle cx="164.3" cy="73.6" r="2.5"/>
<circle cx="206.1" cy="89.5" r="2.9"/>
<circle cx="172.8" cy="93.2" r="2.7"/>
<circle cx="141.1" cy="99.8" r="3.1"/>
<circle cx="124.5" cy="86.8" r="3.1"/>
<circle cx="179.5" cy="105" r="3.1"/>
<circle cx="163.7" cy="70.4" r="2.4"/>
<circle cx="188.1" cy="111.6" r="2.3"/>
<circle cx="181.1" cy="106.7" r="2.9"/>
<circle cx="118.7" cy="91.8" r="2.4"/>
<circle cx="176.5" cy="84.6" r="2.2"/>
<circle cx="183.9" cy="81.1" r="3"/>
<circle cx="147.2" cy="99" r="3.1"/>
<circle cx="128.1" cy="111.8" r="2.1"/>
<circle cx="189.3" cy="86.8" r="2.2"/>
<circle cx="156.2" cy="95.9" r="2.5"/>
<circle cx="128.8" cy="97.4" r="2.4"/>
<circle cx="213.7" cy="87.8" r="2.6"/>
<circle cx="148.8" cy="105.9" r="3.1"/>
<circle cx="156" cy="113.5" r="2.4"/>
<circle cx="161.6" cy="121.6" r="2.3"/>
<circle cx="160.8" cy="114" r="2.4"/>
<circle cx="131.8" cy="97.2" r="2.6"/>
<circle cx="140.4" cy="100" r="2.5"/>
<circle cx="119.9" cy="92" r="3.2"/>
<circle cx="146.9" cy="101.8" r="2.9"/>
<circle cx="127.5" cy="82.2" r="2.9"/>
<circle cx="129.2" cy="94" r="2"/>
<circle cx="131.7" cy="76.7" r="2.1"/>
<circle cx="168.5" cy="70.8" r="3.1"/>
<circle cx="158.4" cy="78.7" r="2.3"/>
<circle cx="191.1" cy="68.1" r="3.2"/>
<circle cx="157.5" cy="102.6" r="3.1"/>
<circle cx="186.2" cy="101.9" r="2.9"/>
<circle cx="144.4" cy="95.6" r="2.2"/>
<circle cx="160.4" cy="80.8" r="2.8"/>
<circle cx="146.6" cy="80.3" r="2.8"/>
<circle cx="125.1" cy="116.6" r="2.6"/>
<circle cx="139.5" cy="69.3" r="2.7"/>
<circle cx="167.1" cy="111" r="2.5"/>
<circle cx="157.9" cy="122.9" r="2.4"/>
<circle cx="142.3" cy="117.5" r="2.8"/>
<circle cx="181.6" cy="117.2" r="2.7"/>
<circle cx="124.5" cy="120.9" r="2.2"/>
<circle cx="142.5" cy="103.9" r="2.3"/>
<circle cx="163" cy="110.6" r="2.1"/>
<circle cx="182.9" cy="68.6" r="2.6"/>
<circle cx="181.8" cy="108.8" r="2.1"/>
<circle cx="135.7" cy="127.6" r="2.5"/>
<circle cx="159.2" cy="87.2" r="2.9"/>
<circle cx="190.9" cy="106.2" r="2.5"/>
<circle cx="173.7" cy="96.9" r="2.2"/>
<circle cx="163.3" cy="119.2" r="2.3"/>
<circle cx="191.1" cy="110.7" r="3.2"/>
<circle cx="200.3" cy="122" r="2.3"/>
<circle cx="195.6" cy="94.1" r="2.4"/>
<circle cx="153.5" cy="116.5" r="3.1"/>
<circle cx="201.4" cy="107.5" r="2.2"/>
<circle cx="132.1" cy="100.5" r="2.3"/>
<circle cx="150.3" cy="68.4" r="2.2"/>
<circle cx="188.6" cy="76.8" r="3.1"/>
<circle cx="149.6" cy="119.9" r="2.4"/>
<circle cx="143.4" cy="88.6" r="2"/>
<circle cx="160.3" cy="87.6" r="2"/>
<circle cx="203.1" cy="87.2" r="2"/>
<circle cx="126.5" cy="110.3" r="2.8"/>
<circle cx="167.2" cy="78.3" r="2.4"/>
<circle cx="214" cy="87" r="3.3"/>
<circle cx="188" cy="117.2" r="2.9"/>
<circle cx="171.8" cy="117.4" r="2.2"/>
<circle cx="170.8" cy="79.7" r="2.5"/>
<circle cx="135.7" cy="110.2" r="2.7"/>
<circle cx="194.8" cy="104.7" r="2.8"/>
<circle cx="173.5" cy="83.9" r="3.2"/>
<circle cx="153.8" cy="68.4" r="2.4"/>
<circle cx="181.4" cy="107.1" r="3.2"/>
<circle cx="194.7" cy="92.1" r="2.6"/>
<circle cx="192.8" cy="83.3" r="2.1"/>
<circle cx="178.8" cy="117.2" r="2.3"/>
<circle cx="185.2" cy="122.9" r="2.2"/>
<circle cx="130.1" cy="95.4" r="2.4"/>
<circle cx="161.3" cy="116.1" r="2.8"/>
<circle cx="133.9" cy="128.4" r="2.2"/>
<circle cx="124.1" cy="92.6" r="2"/>
<circle cx="164.8" cy="89.8" r="3.2"/>
<circle cx="158.1" cy="120" r="3"/>
<circle cx="175.4" cy="77.8" r="2.4"/>
<circle cx="165.9" cy="88.6" r="2.8"/>
<circle cx="167.3" cy="83.6" r="2.8"/>
<circle cx="159" cy="119.1" r="2.9"/>
<circle cx="175.4" cy="101.4" r="2"/>
<circle cx="155" cy="79.4" r="2.8"/>
<circle cx="123.1" cy="98.8" r="2.5"/>
<circle cx="165.9" cy="89.3" r="2.1"/>
<circle cx="190" cy="116.6" r="2.8"/>
<circle cx="128.1" cy="102.7" r="3.1"/>
<circle cx="183.3" cy="80.4" r="3.2"/>
<circle cx="199.5" cy="123.1" r="2.3"/>
<circle cx="174.5" cy="87.5" r="2.4"/>
<circle cx="193" cy="103.9" r="2.4"/>
<circle cx="171.1" cy="125.4" r="2.7"/>
<circle cx="208.3" cy="100.4" r="3.3"/>
<circle cx="119.4" cy="93.1" r="2.7"/>
<circle cx="179.1" cy="94.3" r="2.8"/>
<circle cx="170.1" cy="110" r="3.2"/>
<circle cx="195.9" cy="63.5" r="2.8"/>
<circle cx="196.9" cy="77.8" r="2.5"/>
<circle cx="139.3" cy="110" r="2.7"/>
<circle cx="177.4" cy="83.8" r="2.8"/>
<circle cx="168.4" cy="88" r="2.4"/>
<circle cx="197.2" cy="73.4" r="2.7"/>
</g>
<g fill="none" stroke="#505050" stroke-width="2.8" stroke-linecap="round" stroke-linejoin="round">
<path d="M123.9 119.8 Q131.6 102.6 139.3 84.8"/>
<path d="M126.6 119.2 Q128.7 103.1 135.6 88.6"/>
<path d="M129.8 123.3 Q141.7 111.3 147.9 95.5"/>
<path d="M135 120.6 Q141.1 109.9 146.9 102.8"/>
<path d="M137.1 115.4 Q136.1 106.6 131.1 97.7"/>
<path d="M141.9 119 Q147.2 106.1 155.1 89.2"/>
<path d="M146.5 123.8 Q152.5 108 161.8 93.9"/>
<path d="M147.2 122.7 Q150.1 111.6 154.3 96.9"/>
<path d="M153 112 Q155.6 103 158.5 90.1"/>
<path d="M155.2 113 Q148.5 97 146.7 82.3"/>
<path d="M160.4 122.6 Q162.9 111.8 170.2 104.5"/>
<path d="M163.4 114.5 Q167.7 101.6 175.8 86.8"/>
<path d="M164.9 121 Q167.5 110.8 173.5 102.3"/>
<path d="M170.9 123.2 Q172.3 110.9 177.1 99.3"/>
<path d="M174.1 121 Q170.1 112.3 169.1 101.4"/>
<path d="M176 116.1 Q181.7 106.8 186.4 99.5"/>
<path d="M180.3 117.2 Q183.3 103.9 186.5 89.9"/>
<path d="M184.6 114.6 Q189.1 103.2 189.8 93.8"/>
<path d="M186.1 122.4 Q198.3 107.1 205.2 88.7"/>
<path d="M190.8 117.9 Q184.3 109.9 180.9 100.2"/>
<path d="M193.3 123.5 Q198.5 110.6 207.7 95.9"/>
<path d="M196.2 115.2 Q200.9 99.7 204.2 86"/>
<path d="M202.3 114.9 Q206.2 105 210.9 98.7"/>
<path d="M203.5 117.2 Q210.6 105.6 219.3 91"/>
</g>
<g fill="none" stroke="#5e5e5e" stroke-width="2.0" stroke-linecap="round" stroke-linejoin="round">
<path d="M128 112 C138 104 150 110 160 102"/>
<path d="M166 110 C176 102 188 110 200 100"/>
<path d="M140 74 C150 80 160 72 170 78"/>
<path d="M176 72 C186 78 194 70 204 78"/>
<path d="M130 90 C136 82 146 86 150 78"/>
<path d="M186 92 C194 84 202 90 208 84"/>
</g>
<polygon points="52,125.2 53.4,114.9 60.8,107.6 66.6,98.8 78.4,95.9 87.2,91.5 98.9,88.5 106.2,91.5 112.1,98.9 116.3,110.7 119.1,122.5 125,131.1 129.5,139.9 131.1,151.6 129.7,163.4 126.9,175.2 119.5,181.1 107.7,178 100.3,169 94.5,164.5 87.2,167.5 75.6,163.2 66.8,158.9 60.9,150.1 55,139.9" fill="#bfdec2" stroke="#bfdec2" stroke-width="2" stroke-linejoin="round"/>
<g fill="url(#gG)" stroke="#93bb9a" stroke-width="0.45">
<circle cx="52.9" cy="122.9" r="2.4"/>
<circle cx="53.3" cy="120.2" r="3.1"/>
<circle cx="53.1" cy="118.2" r="2.1"/>
<circle cx="53.3" cy="113.9" r="2.4"/>
<circle cx="57" cy="110.9" r="3"/>
<circle cx="58.5" cy="109.8" r="3.1"/>
<circle cx="61.7" cy="107.7" r="2.3"/>
<circle cx="63.3" cy="105.2" r="2.1"/>
<circle cx="66" cy="100.6" r="3.1"/>
<circle cx="68.1" cy="98.9" r="3.2"/>
<circle cx="70.4" cy="98.2" r="3.1"/>
<circle cx="73.1" cy="96.7" r="2.7"/>
<circle cx="76.2" cy="97.2" r="2.3"/>
<circle cx="79.9" cy="94.7" r="3"/>
<circle cx="82.3" cy="93.1" r="2.4"/>
<circle cx="85.5" cy="92.8" r="2.2"/>
<circle cx="87.1" cy="92" r="2.2"/>
<circle cx="90.6" cy="90.1" r="2.9"/>
<circle cx="92.8" cy="90.2" r="3.1"/>
<circle cx="96.6" cy="88.3" r="2.4"/>
<circle cx="99.9" cy="89.1" r="3"/>
<circle cx="104.1" cy="89.9" r="2.5"/>
<circle cx="106.2" cy="92.3" r="2.3"/>
<circle cx="108.2" cy="95" r="2.8"/>
<circle cx="110.5" cy="97.8" r="3.2"/>
<circle cx="112.5" cy="100.3" r="2.3"/>
<circle cx="112.7" cy="102.3" r="3"/>
<circle cx="114.2" cy="105.9" r="2.6"/>
<circle cx="116.1" cy="109.1" r="2.5"/>
<circle cx="116.6" cy="111.3" r="3.2"/>
<circle cx="117" cy="114.9" r="2.4"/>
<circle cx="117.9" cy="118" r="3.2"/>
<circle cx="118.8" cy="121.9" r="2.2"/>
<circle cx="120.4" cy="124.7" r="2.5"/>
<circle cx="121.5" cy="127.6" r="3.1"/>
<circle cx="124" cy="128.4" r="3"/>
<circle cx="125.3" cy="131.5" r="3"/>
<circle cx="126.5" cy="136.1" r="2.3"/>
<circle cx="128.2" cy="137.7" r="3.2"/>
<circle cx="130" cy="141.9" r="2.1"/>
<circle cx="130.1" cy="144.1" r="2.6"/>
<circle cx="130.7" cy="149.7" r="2.5"/>
<circle cx="131.7" cy="152.1" r="2.7"/>
<circle cx="130.1" cy="156.2" r="2.6"/>
<circle cx="130.8" cy="160.6" r="2.3"/>
<circle cx="129.2" cy="163.2" r="3"/>
<circle cx="128.2" cy="168.4" r="2.6"/>
<circle cx="128.1" cy="169.5" r="2.1"/>
<circle cx="127.6" cy="173.3" r="3.2"/>
<circle cx="125.3" cy="175.5" r="2.7"/>
<circle cx="123" cy="177.2" r="2.6"/>
<circle cx="122.3" cy="179.4" r="2.4"/>
<circle cx="118.3" cy="180.4" r="2.2"/>
<circle cx="115" cy="180.3" r="2.5"/>
<circle cx="112.3" cy="179.5" r="2.5"/>
<circle cx="109.2" cy="179.3" r="2.9"/>
<circle cx="107.1" cy="176.4" r="2.4"/>
<circle cx="105.5" cy="173.8" r="2.6"/>
<circle cx="102" cy="170.8" r="2.4"/>
<circle cx="100.2" cy="168.4" r="2.9"/>
<circle cx="97.2" cy="166.4" r="3.1"/>
<circle cx="92.2" cy="166.2" r="2"/>
<circle cx="88.2" cy="166.9" r="2.5"/>
<circle cx="85.6" cy="166.6" r="3"/>
<circle cx="83.8" cy="166.1" r="2"/>
<circle cx="79.6" cy="164.8" r="2"/>
<circle cx="78.3" cy="164.5" r="2.8"/>
<circle cx="75.2" cy="163.1" r="2.3"/>
<circle cx="71.8" cy="161.6" r="2.3"/>
<circle cx="68.9" cy="159.4" r="2.5"/>
<circle cx="66" cy="157" r="3"/>
<circle cx="65.1" cy="155.2" r="2.1"/>
<circle cx="62.6" cy="152.2" r="3.1"/>
<circle cx="59.5" cy="148.6" r="2.9"/>
<circle cx="57.9" cy="146.3" r="3.2"/>
<circle cx="56.7" cy="143" r="2.3"/>
<circle cx="55.4" cy="138.2" r="3.1"/>
<circle cx="53.3" cy="136.2" r="2.4"/>
<circle cx="52.8" cy="131.9" r="2.2"/>
<circle cx="52.2" cy="128.6" r="2.6"/>
<circle cx="76.1" cy="137.2" r="3"/>
<circle cx="109.3" cy="120.3" r="3.2"/>
<circle cx="114.6" cy="140.5" r="2.6"/>
<circle cx="78" cy="100.9" r="3.2"/>
<circle cx="100.1" cy="97.6" r="3.2"/>
<circle cx="107.4" cy="110.6" r="2.7"/>
<circle cx="118" cy="121" r="2.6"/>
<circle cx="104.6" cy="106.3" r="2.8"/>
<circle cx="66.8" cy="154.4" r="2.1"/>
<circle cx="73.7" cy="99.4" r="2.2"/>
<circle cx="93.8" cy="104.7" r="3"/>
<circle cx="59.6" cy="146.2" r="3.1"/>
<circle cx="62" cy="108.6" r="3"/>
<circle cx="78.7" cy="125.4" r="3.2"/>
<circle cx="113.2" cy="157.9" r="2.8"/>
<circle cx="109.2" cy="117.9" r="2.9"/>
<circle cx="84.5" cy="158" r="2.1"/>
<circle cx="115.5" cy="132.2" r="3.1"/>
<circle cx="75.8" cy="139" r="2"/>
<circle cx="90.7" cy="95.8" r="3.1"/>
<circle cx="105.6" cy="127.9" r="3.3"/>
<circle cx="109.5" cy="144.6" r="2"/>
<circle cx="99" cy="164" r="2.4"/>
<circle cx="110.5" cy="107.9" r="2.2"/>
<circle cx="123" cy="150.1" r="2.8"/>
<circle cx="62.4" cy="126.8" r="3.2"/>
<circle cx="118.5" cy="156.3" r="2.1"/>
<circle cx="107" cy="134.2" r="2.6"/>
<circle cx="63.5" cy="135.9" r="3"/>
<circle cx="85.2" cy="113.1" r="2.3"/>
<circle cx="88.3" cy="148.5" r="2.7"/>
<circle cx="122.4" cy="135.9" r="2.7"/>
<circle cx="53.3" cy="118.9" r="2.4"/>
<circle cx="61.8" cy="127.2" r="2"/>
<circle cx="124.8" cy="133.4" r="3.1"/>
<circle cx="107.2" cy="156.1" r="3"/>
<circle cx="75.8" cy="156" r="2.3"/>
<circle cx="95.9" cy="143.6" r="3"/>
<circle cx="65.2" cy="120.4" r="3.1"/>
<circle cx="115.6" cy="179.1" r="2.2"/>
<circle cx="68.6" cy="98.4" r="2.9"/>
<circle cx="110.9" cy="148.5" r="3"/>
<circle cx="92.8" cy="140.6" r="3.2"/>
<circle cx="103.3" cy="149.3" r="2.8"/>
<circle cx="91" cy="158.6" r="2.7"/>
<circle cx="62.2" cy="127.9" r="2.5"/>
<circle cx="86.2" cy="140.5" r="2.5"/>
<circle cx="82.9" cy="128" r="2.5"/>
<circle cx="83.2" cy="130.1" r="2.8"/>
<circle cx="81" cy="110.7" r="2"/>
<circle cx="121.1" cy="175.5" r="2.4"/>
<circle cx="88.8" cy="118.5" r="2.1"/>
<circle cx="122.6" cy="166" r="2.3"/>
<circle cx="72.1" cy="153.2" r="3"/>
<circle cx="89.1" cy="124.4" r="2.3"/>
<circle cx="115.1" cy="168.5" r="3.1"/>
<circle cx="61" cy="143.5" r="3.3"/>
<circle cx="108.6" cy="131" r="2.2"/>
<circle cx="104.6" cy="132.4" r="3.2"/>
<circle cx="125.8" cy="145.6" r="2.1"/>
<circle cx="98.5" cy="127.5" r="2.3"/>
<circle cx="125.4" cy="156.1" r="2.2"/>
<circle cx="70.1" cy="120.2" r="2.7"/>
<circle cx="77.7" cy="129.2" r="3.1"/>
<circle cx="66.4" cy="155.2" r="2.4"/>
<circle cx="77.9" cy="144.6" r="2.1"/>
<circle cx="84.4" cy="146.2" r="2.8"/>
<circle cx="61.8" cy="140.4" r="2.2"/>
<circle cx="76.2" cy="145.8" r="3.2"/>
<circle cx="92.7" cy="112.1" r="2.8"/>
<circle cx="73.8" cy="161" r="2.2"/>
<circle cx="72.7" cy="129.1" r="3.2"/>
<circle cx="65.1" cy="106.3" r="2.2"/>
<circle cx="68.9" cy="119.3" r="2.5"/>
<circle cx="112.1" cy="125.9" r="2.6"/>
<circle cx="83.3" cy="160.2" r="3.2"/>
<circle cx="93.5" cy="151.7" r="2.5"/>
<circle cx="73.5" cy="101" r="3.2"/>
<circle cx="80.4" cy="153.2" r="2.6"/>
<circle cx="93.6" cy="107.7" r="2.2"/>
<circle cx="78.6" cy="151.6" r="2.7"/>
<circle cx="86.2" cy="94.9" r="2.3"/>
<circle cx="95.5" cy="118.8" r="2.3"/>
<circle cx="75" cy="114.4" r="2.5"/>
<circle cx="114.5" cy="161.5" r="2.9"/>
<circle cx="122" cy="149.1" r="2.1"/>
<circle cx="72.4" cy="137.4" r="3.1"/>
<circle cx="98.3" cy="128.3" r="2.3"/>
<circle cx="129.6" cy="158.3" r="2.4"/>
<circle cx="61.3" cy="149" r="2.5"/>
<circle cx="115.7" cy="179.1" r="2.8"/>
<circle cx="105.9" cy="114.6" r="2.4"/>
<circle cx="79.7" cy="105.8" r="2.6"/>
<circle cx="65" cy="146.8" r="2.9"/>
<circle cx="92.4" cy="105.1" r="3.1"/>
<circle cx="71.1" cy="136.1" r="2.6"/>
<circle cx="95.8" cy="155.8" r="3.2"/>
<circle cx="89" cy="92.4" r="3.1"/>
<circle cx="53.4" cy="117.9" r="2.2"/>
<circle cx="99.6" cy="160.9" r="2.2"/>
<circle cx="106.5" cy="98.5" r="2.9"/>
<circle cx="114.8" cy="126.3" r="2.2"/>
<circle cx="104.1" cy="118.1" r="2.2"/>
<circle cx="65" cy="125.8" r="2.2"/>
<circle cx="82.4" cy="139.6" r="2.7"/>
<circle cx="83.9" cy="162.6" r="2.1"/>
<circle cx="120.4" cy="173.8" r="3"/>
<circle cx="94.4" cy="161.4" r="2.7"/>
<circle cx="61.3" cy="112.2" r="2.1"/>
<circle cx="84.2" cy="138.3" r="2.1"/>
<circle cx="107.8" cy="162.2" r="3"/>
<circle cx="106.8" cy="122.9" r="2.4"/>
<circle cx="88.4" cy="163.7" r="2.4"/>
<circle cx="77.4" cy="136" r="3"/>
<circle cx="106.8" cy="125.9" r="3.1"/>
<circle cx="112.1" cy="139.9" r="2.5"/>
<circle cx="115.3" cy="116.8" r="2.1"/>
<circle cx="93.8" cy="139.8" r="2.7"/>
<circle cx="84.4" cy="140.1" r="2.1"/>
<circle cx="63" cy="150.8" r="2.8"/>
<circle cx="115.8" cy="152.6" r="3.2"/>
<circle cx="70.7" cy="160.6" r="2.2"/>
<circle cx="94" cy="159.9" r="2.2"/>
<circle cx="111.1" cy="125.4" r="2.6"/>
<circle cx="113.9" cy="151.5" r="2.4"/>
<circle cx="109.9" cy="133.6" r="3"/>
<circle cx="106.1" cy="130.2" r="2.7"/>
<circle cx="115.7" cy="137.5" r="3.2"/>
<circle cx="108.5" cy="133.8" r="3.1"/>
<circle cx="63.7" cy="119.8" r="2.9"/>
<circle cx="117.1" cy="123" r="3.3"/>
<circle cx="103.3" cy="92.7" r="2.2"/>
<circle cx="58" cy="141.3" r="2.4"/>
<circle cx="72.6" cy="130" r="2.1"/>
<circle cx="123.9" cy="166.1" r="2.7"/>
<circle cx="87.1" cy="117.1" r="2.8"/>
<circle cx="127.6" cy="155.8" r="3.1"/>
<circle cx="79.3" cy="100.2" r="2.5"/>
<circle cx="93.8" cy="116.3" r="2.9"/>
<circle cx="96.4" cy="143.8" r="2.4"/>
<circle cx="110.1" cy="152.3" r="2.9"/>
<circle cx="89.2" cy="131.5" r="2.4"/>
<circle cx="55.1" cy="131.7" r="2.8"/>
<circle cx="121.5" cy="167.6" r="3.1"/>
<circle cx="90.6" cy="104.8" r="2.4"/>
<circle cx="79.9" cy="120.8" r="2.8"/>
<circle cx="78" cy="116.8" r="2.2"/>
<circle cx="128.4" cy="143.1" r="3.1"/>
<circle cx="57" cy="138.8" r="3"/>
<circle cx="60.2" cy="123.1" r="3.3"/>
<circle cx="96.3" cy="121.9" r="2.8"/>
<circle cx="72.1" cy="122.5" r="2.8"/>
<circle cx="70.7" cy="154.1" r="2.8"/>
<circle cx="79.5" cy="101.8" r="2.1"/>
<circle cx="88.3" cy="162.1" r="3.3"/>
<circle cx="125.3" cy="137.8" r="2.4"/>
<circle cx="109.7" cy="150.5" r="3.1"/>
<circle cx="84.3" cy="140.3" r="3.1"/>
<circle cx="97.5" cy="102" r="3.2"/>
<circle cx="86.7" cy="105.6" r="2.5"/>
<circle cx="98.8" cy="128.2" r="2"/>
<circle cx="62.4" cy="112.2" r="3"/>
<circle cx="120.1" cy="170.2" r="2.2"/>
<circle cx="99.4" cy="122.3" r="2"/>
<circle cx="86.1" cy="110.5" r="2.8"/>
<circle cx="60.5" cy="109.1" r="2.6"/>
<circle cx="77" cy="132.5" r="2.2"/>
<circle cx="83.8" cy="153.4" r="2.4"/>
<circle cx="60" cy="146.6" r="2.6"/>
<circle cx="111" cy="150.5" r="2.5"/>
<circle cx="62.1" cy="145.2" r="3"/>
<circle cx="89.4" cy="132.3" r="2.9"/>
<circle cx="100.2" cy="127.7" r="2.2"/>
<circle cx="88.7" cy="139.4" r="3.2"/>
<circle cx="78" cy="109.1" r="2.8"/>
<circle cx="110.4" cy="111.4" r="2.9"/>
<circle cx="103.6" cy="168.8" r="2.3"/>
<circle cx="57.1" cy="116.9" r="2.6"/>
<circle cx="110.9" cy="146.9" r="3.2"/>
<circle cx="93.6" cy="147.1" r="2.3"/>
<circle cx="119.7" cy="126.8" r="3.2"/>
<circle cx="80.3" cy="145.9" r="2.7"/>
<circle cx="72.8" cy="160.7" r="2"/>
<circle cx="71.7" cy="118.2" r="3.1"/>
<circle cx="91.6" cy="91.9" r="2.4"/>
<circle cx="100.2" cy="163.4" r="2.1"/>
<circle cx="113.6" cy="124.7" r="2.7"/>
<circle cx="85.3" cy="129.1" r="3.3"/>
<circle cx="124.7" cy="173.5" r="3"/>
<circle cx="107.4" cy="101.6" r="2"/>
<circle cx="117.7" cy="150.8" r="2.8"/>
<circle cx="76.7" cy="113.2" r="3.2"/>
<circle cx="94.1" cy="90.3" r="2.4"/>
<circle cx="85" cy="98.8" r="2.9"/>
<circle cx="116" cy="161.6" r="3"/>
<circle cx="117.6" cy="136.3" r="2.3"/>
<circle cx="113" cy="162.7" r="2.8"/>
<circle cx="130.1" cy="160.2" r="3.2"/>
<circle cx="111.4" cy="109.5" r="2.4"/>
<circle cx="56.7" cy="128.8" r="2.2"/>
<circle cx="107.5" cy="136.7" r="3"/>
<circle cx="78.6" cy="126.8" r="3"/>
<circle cx="107.6" cy="170.7" r="2.4"/>
<circle cx="119.1" cy="156.8" r="2.7"/>
<circle cx="84.3" cy="141" r="2.1"/>
<circle cx="59.7" cy="117.3" r="2.2"/>
<circle cx="109.8" cy="145.5" r="2.3"/>
<circle cx="109.1" cy="165" r="2.8"/>
<circle cx="70" cy="140.8" r="2.5"/>
<circle cx="73.3" cy="102.3" r="3.1"/>
<circle cx="65.6" cy="113" r="2.7"/>
<circle cx="56.6" cy="116.5" r="2.7"/>
<circle cx="97.7" cy="147.5" r="2.8"/>
<circle cx="114.1" cy="122.4" r="2"/>
<circle cx="129.5" cy="161.9" r="2.2"/>
<circle cx="60.8" cy="109.1" r="2.9"/>
<circle cx="72.5" cy="123.9" r="2.3"/>
<circle cx="71.3" cy="118.5" r="2.5"/>
<circle cx="80.4" cy="118.5" r="2"/>
<circle cx="118.2" cy="156.9" r="2.6"/>
<circle cx="123.2" cy="130.8" r="2.3"/>
<circle cx="116.8" cy="171.1" r="2.2"/>
<circle cx="91.6" cy="140.5" r="2.2"/>
<circle cx="77.2" cy="145.8" r="2.9"/>
<circle cx="101.7" cy="145.9" r="2.5"/>
<circle cx="118.2" cy="168.6" r="3.2"/>
<circle cx="65.6" cy="120.6" r="2.3"/>
<circle cx="120" cy="164.4" r="3.1"/>
<circle cx="72.5" cy="141.7" r="2.9"/>
<circle cx="70.5" cy="123.9" r="2.1"/>
<circle cx="62.7" cy="114.2" r="2.8"/>
<circle cx="102.4" cy="137.1" r="3.1"/>
<circle cx="111.5" cy="107.9" r="2.7"/>
<circle cx="65.4" cy="110.9" r="2.2"/>
<circle cx="58.1" cy="120.9" r="3.2"/>
<circle cx="103.9" cy="96.6" r="2.3"/>
<circle cx="98.8" cy="137.6" r="2"/>
<circle cx="59.4" cy="140.9" r="2.8"/>
<circle cx="71" cy="143.1" r="2.7"/>
<circle cx="83.3" cy="127.7" r="2.7"/>
<circle cx="118.4" cy="180" r="3"/>
<circle cx="94.6" cy="154.9" r="2.8"/>
<circle cx="112.1" cy="108.5" r="2.7"/>
<circle cx="86.7" cy="109.9" r="3"/>
<circle cx="69.5" cy="154.2" r="2.6"/>
<circle cx="85.7" cy="154" r="2.9"/>
<circle cx="115.3" cy="112.9" r="2.9"/>
<circle cx="87.3" cy="121.6" r="2"/>
<circle cx="89.2" cy="137.8" r="2.4"/>
<circle cx="60.3" cy="133.3" r="2.1"/>
<circle cx="65.6" cy="129.6" r="2.5"/>
<circle cx="91.5" cy="137.6" r="2.5"/>
<circle cx="74.2" cy="121.1" r="2.4"/>
<circle cx="110.7" cy="134.2" r="3"/>
<circle cx="68.3" cy="122.7" r="2.5"/>
<circle cx="86.7" cy="141.8" r="3.3"/>
<circle cx="102.8" cy="143.6" r="3.1"/>
<circle cx="127.7" cy="138" r="2.8"/>
<circle cx="81.5" cy="148.1" r="2.4"/>
<circle cx="69.6" cy="113.6" r="2.6"/>
<circle cx="57.9" cy="126.9" r="3"/>
<circle cx="108.4" cy="162" r="2.2"/>
<circle cx="116.4" cy="132.2" r="3.2"/>
<circle cx="89.8" cy="112.4" r="2.2"/>
<circle cx="91.3" cy="93.1" r="2.2"/>
<circle cx="121.2" cy="141.6" r="3.1"/>
<circle cx="63.9" cy="133" r="2.6"/>
<circle cx="60.5" cy="112.9" r="3.2"/>
<circle cx="109.2" cy="135.6" r="2.8"/>
<circle cx="120.1" cy="176.8" r="2.8"/>
<circle cx="65" cy="110.7" r="2.2"/>
<circle cx="92.5" cy="142.5" r="2.6"/>
<circle cx="89.2" cy="101.5" r="2.9"/>
<circle cx="94.5" cy="117.1" r="3.1"/>
<circle cx="126.3" cy="173.9" r="3.3"/>
<circle cx="57.4" cy="124.5" r="2.6"/>
<circle cx="72.3" cy="157.4" r="3.2"/>
<circle cx="62.9" cy="135.4" r="3.3"/>
<circle cx="122.3" cy="130.3" r="2.1"/>
<circle cx="88.1" cy="136.4" r="3"/>
<circle cx="66.7" cy="114.4" r="3.3"/>
<circle cx="80" cy="154.9" r="2"/>
<circle cx="92.8" cy="138.5" r="2.1"/>
<circle cx="97.8" cy="129.8" r="2.4"/>
<circle cx="117.7" cy="152.5" r="2.2"/>
<circle cx="72.8" cy="147.5" r="3.3"/>
<circle cx="112.3" cy="132.3" r="3.3"/>
<circle cx="99.4" cy="99.5" r="2.3"/>
<circle cx="62.2" cy="145" r="2.8"/>
<circle cx="72.7" cy="113" r="3.1"/>
<circle cx="122.9" cy="140.6" r="2.8"/>
<circle cx="100.5" cy="159.9" r="2.7"/>
<circle cx="61" cy="109.1" r="2.8"/>
<circle cx="95.2" cy="121.6" r="3.3"/>
<circle cx="97.9" cy="110.6" r="2.7"/>
<circle cx="86.4" cy="142" r="3.3"/>
<circle cx="102.5" cy="105.3" r="2.8"/>
<circle cx="77.4" cy="132.3" r="2.9"/>
<circle cx="76.8" cy="144" r="3.1"/>
<circle cx="88.9" cy="146.8" r="2.4"/>
<circle cx="72.2" cy="135.7" r="2.7"/>
<circle cx="69.6" cy="159.4" r="2.6"/>
<circle cx="80.1" cy="112" r="3.1"/>
<circle cx="123.3" cy="175.4" r="2.3"/>
<circle cx="105.7" cy="119.7" r="2.6"/>
<circle cx="106" cy="103.3" r="2.5"/>
<circle cx="114.2" cy="151.5" r="2.8"/>
<circle cx="60.1" cy="108.6" r="2.3"/>
<circle cx="89.1" cy="136.4" r="2.4"/>
<circle cx="80" cy="106.8" r="2.8"/>
<circle cx="92.3" cy="132.6" r="3.2"/>
<circle cx="99.2" cy="148.9" r="2.7"/>
<circle cx="54.8" cy="130.3" r="3.1"/>
<circle cx="99.6" cy="92.6" r="2.2"/>
<circle cx="123.5" cy="139" r="2.2"/>
<circle cx="107.9" cy="174.2" r="3.1"/>
<circle cx="103" cy="163.3" r="2.1"/>
<circle cx="88.6" cy="163.6" r="2.4"/>
<circle cx="57" cy="140.1" r="3.2"/>
<circle cx="60.3" cy="141.8" r="2.2"/>
<circle cx="78.2" cy="102.3" r="2.6"/>
<circle cx="103.1" cy="172.3" r="3"/>
<circle cx="90.9" cy="96" r="2.9"/>
<circle cx="90.9" cy="118.7" r="2.9"/>
<circle cx="108.1" cy="131.1" r="2.4"/>
<circle cx="85.2" cy="154.7" r="2.3"/>
<circle cx="64.5" cy="133.3" r="2.9"/>
<circle cx="57.2" cy="113.6" r="3.3"/>
<circle cx="73.1" cy="160" r="2.4"/>
<circle cx="58.8" cy="133.5" r="3.1"/>
</g>
<polygon points="218.4,89.9 225.7,87 230.1,96 241.9,99 253.6,101.9 262.3,110.7 266.6,122.4 268,128.3 274,134.1 274,142.9 268.1,148.7 265.2,156 259.3,163.3 250.6,167.6 241.8,169 234.5,175 228.7,181 214.5,179.1 200.7,175.3 195.8,163.5 200.9,151.6 202,139.9 207,128.3 208.3,116.6 211.1,101.8" fill="#bfdec2" stroke="#bfdec2" stroke-width="2" stroke-linejoin="round"/>
<g fill="url(#gG)" stroke="#93bb9a" stroke-width="0.45">
<circle cx="219.3" cy="89.6" r="2.8"/>
<circle cx="223.4" cy="88.1" r="2.2"/>
<circle cx="225.7" cy="87.9" r="3.1"/>
<circle cx="227.7" cy="91.3" r="2.6"/>
<circle cx="229.1" cy="92.9" r="2.5"/>
<circle cx="231" cy="96.7" r="2.8"/>
<circle cx="233.9" cy="96.5" r="3"/>
<circle cx="237.3" cy="98.2" r="2.3"/>
<circle cx="240.5" cy="99" r="3.1"/>
<circle cx="242.2" cy="98.9" r="2.1"/>
<circle cx="246.6" cy="100.1" r="2.7"/>
<circle cx="248.6" cy="100.6" r="2.9"/>
<circle cx="251.6" cy="101" r="2.3"/>
<circle cx="254.2" cy="103.5" r="3.2"/>
<circle cx="256.7" cy="105.4" r="2.1"/>
<circle cx="257.7" cy="106.8" r="3.2"/>
<circle cx="260.9" cy="109.2" r="3.2"/>
<circle cx="262.9" cy="111.4" r="2.1"/>
<circle cx="264.2" cy="115.1" r="2.6"/>
<circle cx="264.9" cy="118.2" r="3.2"/>
<circle cx="264.9" cy="120.5" r="2.8"/>
<circle cx="266.2" cy="122.9" r="3.2"/>
<circle cx="267.4" cy="126.7" r="2.3"/>
<circle cx="268.5" cy="129.5" r="3"/>
<circle cx="271.7" cy="132.2" r="3.1"/>
<circle cx="274.7" cy="136.5" r="2.7"/>
<circle cx="274.5" cy="140.8" r="2.9"/>
<circle cx="273.4" cy="142.9" r="3.1"/>
<circle cx="269.3" cy="147.9" r="2.1"/>
<circle cx="267.7" cy="148.1" r="3.2"/>
<circle cx="266.1" cy="153.7" r="2.7"/>
<circle cx="264.3" cy="156.8" r="3.2"/>
<circle cx="262.9" cy="158.8" r="2.2"/>
<circle cx="261.1" cy="161.5" r="2.6"/>
<circle cx="259.9" cy="162.7" r="3.1"/>
<circle cx="256.6" cy="164.2" r="2.3"/>
<circle cx="253.2" cy="166.4" r="2.5"/>
<circle cx="249.5" cy="167.4" r="3.2"/>
<circle cx="245.1" cy="168.5" r="2.5"/>
<circle cx="240" cy="170.2" r="2.5"/>
<circle cx="237.7" cy="172" r="2.4"/>
<circle cx="235.8" cy="173.9" r="2.5"/>
<circle cx="233" cy="176.2" r="2.7"/>
<circle cx="230.6" cy="179.2" r="2.1"/>
<circle cx="227.9" cy="180.5" r="2.2"/>
<circle cx="223.5" cy="181" r="2.3"/>
<circle cx="220.5" cy="179.4" r="2.9"/>
<circle cx="216.4" cy="179.9" r="2.9"/>
<circle cx="213.7" cy="179.1" r="2.6"/>
<circle cx="210.6" cy="178.8" r="2.5"/>
<circle cx="205.6" cy="177.3" r="3.1"/>
<circle cx="203.2" cy="176" r="2.3"/>
<circle cx="199.9" cy="175.2" r="2.7"/>
<circle cx="199.5" cy="171.2" r="3.2"/>
<circle cx="196.9" cy="167.3" r="3.3"/>
<circle cx="196.6" cy="165.1" r="2.6"/>
<circle cx="195.6" cy="162.8" r="2.4"/>
<circle cx="197.8" cy="160.4" r="3.1"/>
<circle cx="198.7" cy="156.7" r="3.1"/>
<circle cx="200" cy="154.3" r="2.4"/>
<circle cx="200.9" cy="151.5" r="3.1"/>
<circle cx="200.8" cy="146.9" r="3"/>
<circle cx="201.9" cy="142.5" r="2.1"/>
<circle cx="202.5" cy="138.1" r="2.6"/>
<circle cx="203.8" cy="135.5" r="2.5"/>
<circle cx="204.1" cy="133.8" r="2.8"/>
<circle cx="205.6" cy="130.1" r="3.2"/>
<circle cx="207" cy="126.5" r="2.7"/>
<circle cx="206.7" cy="124.3" r="2.2"/>
<circle cx="207.2" cy="118.4" r="2.2"/>
<circle cx="208.7" cy="116.2" r="2.9"/>
<circle cx="208.3" cy="113.4" r="2.6"/>
<circle cx="209" cy="109.7" r="2.6"/>
<circle cx="209.9" cy="106.7" r="2.8"/>
<circle cx="210.9" cy="103.9" r="2.9"/>
<circle cx="212.1" cy="101.4" r="2.4"/>
<circle cx="213.5" cy="98.3" r="3.1"/>
<circle cx="215.7" cy="94.1" r="3.2"/>
<circle cx="218.3" cy="90.9" r="3.1"/>
<circle cx="248.9" cy="165.9" r="3"/>
<circle cx="231.4" cy="124.1" r="3"/>
<circle cx="247" cy="137.7" r="3.1"/>
<circle cx="206.3" cy="157.9" r="2.9"/>
<circle cx="227.9" cy="143" r="2.7"/>
<circle cx="270" cy="134.7" r="2.7"/>
<circle cx="232" cy="125.7" r="2.9"/>
<circle cx="204.6" cy="152.1" r="3.2"/>
<circle cx="255.3" cy="138" r="2.5"/>
<circle cx="238" cy="169.7" r="3.1"/>
<circle cx="210.2" cy="157.4" r="3"/>
<circle cx="233.4" cy="167.7" r="2.2"/>
<circle cx="222.1" cy="135.3" r="2.9"/>
<circle cx="230.9" cy="115.4" r="3.1"/>
<circle cx="226.5" cy="126.4" r="2.3"/>
<circle cx="233.6" cy="153.4" r="2.5"/>
<circle cx="247.6" cy="133.4" r="2"/>
<circle cx="211.9" cy="101.4" r="3.1"/>
<circle cx="217.1" cy="135" r="2.2"/>
<circle cx="219.8" cy="172" r="2.6"/>
<circle cx="214.1" cy="143.2" r="2.1"/>
<circle cx="236.5" cy="147.9" r="2.1"/>
<circle cx="238.7" cy="116.1" r="3"/>
<circle cx="243.3" cy="104.2" r="2.2"/>
<circle cx="250.9" cy="163.2" r="2.1"/>
<circle cx="228.4" cy="113.6" r="2.6"/>
<circle cx="264" cy="139.6" r="3"/>
<circle cx="255.6" cy="113.1" r="2.8"/>
<circle cx="225.2" cy="131.6" r="2.7"/>
<circle cx="248" cy="102.8" r="3.1"/>
<circle cx="208.4" cy="116.4" r="3.1"/>
<circle cx="198.6" cy="158.6" r="2.2"/>
<circle cx="222.9" cy="156.4" r="2.6"/>
<circle cx="209.2" cy="173.2" r="3.2"/>
<circle cx="240" cy="136.5" r="2.2"/>
<circle cx="220.9" cy="107.7" r="2.3"/>
<circle cx="243.8" cy="117.5" r="3"/>
<circle cx="240.6" cy="164.8" r="2.1"/>
<circle cx="262.1" cy="134.7" r="2.8"/>
<circle cx="214.5" cy="152.4" r="2.5"/>
<circle cx="252.2" cy="141.9" r="2.2"/>
<circle cx="219.3" cy="157.7" r="2"/>
<circle cx="245.2" cy="138.3" r="2.9"/>
<circle cx="221.6" cy="131.8" r="2.6"/>
<circle cx="235.7" cy="111.4" r="2.8"/>
<circle cx="216.1" cy="106.4" r="2.3"/>
<circle cx="265.8" cy="121.2" r="3.1"/>
<circle cx="253.3" cy="112.3" r="2.7"/>
<circle cx="236.4" cy="133.5" r="2.9"/>
<circle cx="218.5" cy="172.5" r="2.8"/>
<circle cx="201.5" cy="164" r="3.1"/>
<circle cx="219.6" cy="153.9" r="3.1"/>
<circle cx="261.3" cy="110.3" r="3"/>
<circle cx="249.5" cy="130.8" r="3.2"/>
<circle cx="270.8" cy="140.9" r="3"/>
<circle cx="248.3" cy="124.6" r="2.6"/>
<circle cx="235.5" cy="107.3" r="2.3"/>
<circle cx="250.4" cy="151.7" r="2.7"/>
<circle cx="240.6" cy="149.6" r="2"/>
<circle cx="230.5" cy="178.2" r="2.3"/>
<circle cx="215.8" cy="164.5" r="2"/>
<circle cx="258.3" cy="162" r="3.1"/>
<circle cx="215.9" cy="174.6" r="2.5"/>
<circle cx="231" cy="176.4" r="2.7"/>
<circle cx="204.1" cy="164.5" r="2.3"/>
<circle cx="210.8" cy="153.8" r="2.4"/>
<circle cx="260.9" cy="161" r="2.8"/>
<circle cx="249.8" cy="118.9" r="2.2"/>
<circle cx="221.3" cy="156.6" r="2.7"/>
<circle cx="206.3" cy="170.6" r="2.2"/>
<circle cx="254.4" cy="161.7" r="2.4"/>
<circle cx="244.1" cy="123.4" r="3.3"/>
<circle cx="216.1" cy="176.8" r="2.4"/>
<circle cx="228.8" cy="116.7" r="2.8"/>
<circle cx="264.8" cy="151.8" r="2.2"/>
<circle cx="235.4" cy="166.9" r="2.1"/>
<circle cx="242.6" cy="160.9" r="3"/>
<circle cx="233.2" cy="112.3" r="2.8"/>
<circle cx="226.9" cy="129.8" r="2.7"/>
<circle cx="217.9" cy="112.8" r="2.2"/>
<circle cx="204.6" cy="166.8" r="3.2"/>
<circle cx="219.6" cy="93.2" r="2.3"/>
<circle cx="215.7" cy="131.5" r="2.9"/>
<circle cx="221.7" cy="95.5" r="2.2"/>
<circle cx="203.9" cy="162.2" r="3.1"/>
<circle cx="199.2" cy="162.6" r="3.1"/>
<circle cx="246.7" cy="115.2" r="3.1"/>
<circle cx="246.4" cy="100.7" r="2.9"/>
<circle cx="248.4" cy="108.7" r="2.6"/>
<circle cx="212.4" cy="168.9" r="2.8"/>
<circle cx="249.9" cy="145.4" r="2.1"/>
<circle cx="236.1" cy="142.5" r="2.6"/>
<circle cx="254.9" cy="137.1" r="2.4"/>
<circle cx="236.2" cy="107.1" r="2"/>
<circle cx="236.6" cy="168.8" r="2.9"/>
<circle cx="212.2" cy="134.8" r="2.8"/>
<circle cx="241.1" cy="130.2" r="2.7"/>
<circle cx="236.1" cy="160.7" r="2.9"/>
<circle cx="220.4" cy="120.3" r="2.6"/>
<circle cx="253.2" cy="121.9" r="2.9"/>
<circle cx="225.2" cy="169.5" r="3"/>
<circle cx="220.9" cy="100.6" r="3"/>
<circle cx="228.3" cy="119.9" r="2.6"/>
<circle cx="209.6" cy="121.7" r="2"/>
<circle cx="211.5" cy="119" r="2.2"/>
<circle cx="233.1" cy="99.4" r="2.8"/>
<circle cx="228" cy="110.2" r="2.9"/>
<circle cx="221.5" cy="89.2" r="3.1"/>
<circle cx="218.8" cy="111.8" r="2.9"/>
<circle cx="246.9" cy="138.5" r="2.1"/>
<circle cx="218" cy="126.8" r="3.3"/>
<circle cx="207.2" cy="142.6" r="2.1"/>
<circle cx="259.3" cy="157.4" r="2.2"/>
<circle cx="218.2" cy="178.3" r="2.2"/>
<circle cx="257.5" cy="138.1" r="3"/>
<circle cx="222.1" cy="90.9" r="2.1"/>
<circle cx="252.4" cy="134.7" r="3"/>
<circle cx="211.4" cy="113.2" r="2.3"/>
<circle cx="262.3" cy="153.1" r="2.2"/>
<circle cx="232.3" cy="111.2" r="3"/>
<circle cx="252" cy="151.3" r="2.3"/>
<circle cx="224.1" cy="135.8" r="2.8"/>
<circle cx="268.2" cy="148.1" r="2.7"/>
<circle cx="255.9" cy="133" r="2"/>
<circle cx="238.6" cy="125.9" r="2.4"/>
<circle cx="226.7" cy="107.8" r="2.4"/>
<circle cx="231.5" cy="166.5" r="2.2"/>
<circle cx="236.2" cy="157" r="3"/>
<circle cx="226.1" cy="102.8" r="3.2"/>
<circle cx="243.5" cy="148.4" r="2.4"/>
<circle cx="204.7" cy="140.6" r="2.5"/>
<circle cx="265.4" cy="149.3" r="3"/>
<circle cx="240.4" cy="157.8" r="2.2"/>
<circle cx="273.7" cy="141.6" r="2.8"/>
<circle cx="251" cy="155.3" r="2.9"/>
<circle cx="215.8" cy="132.8" r="3"/>
<circle cx="202.8" cy="159.9" r="2"/>
<circle cx="244.7" cy="137.2" r="2.1"/>
<circle cx="228.6" cy="149.8" r="3.1"/>
<circle cx="222.6" cy="106.6" r="2.2"/>
<circle cx="213" cy="126.4" r="2.9"/>
<circle cx="269.1" cy="139.5" r="3.2"/>
<circle cx="229.2" cy="148.8" r="2"/>
<circle cx="206.2" cy="163" r="2.1"/>
<circle cx="219.3" cy="136.4" r="2.7"/>
<circle cx="248.7" cy="125" r="2.1"/>
<circle cx="233.3" cy="122" r="3.3"/>
<circle cx="204.6" cy="137.7" r="2.5"/>
<circle cx="243.1" cy="111.1" r="2.6"/>
<circle cx="237" cy="122.6" r="2.7"/>
<circle cx="235.4" cy="157.8" r="3.1"/>
<circle cx="253.4" cy="122.8" r="2.9"/>
<circle cx="211.4" cy="145" r="2"/>
<circle cx="210.9" cy="103.4" r="2.5"/>
<circle cx="243.9" cy="166" r="3.2"/>
<circle cx="230.8" cy="167.5" r="2"/>
<circle cx="256.9" cy="147.9" r="3"/>
<circle cx="236.7" cy="144" r="2.9"/>
<circle cx="209.8" cy="140.4" r="3.3"/>
<circle cx="215.6" cy="164.1" r="3.2"/>
<circle cx="248.4" cy="128.4" r="2.5"/>
<circle cx="232.4" cy="98.7" r="2.1"/>
<circle cx="217.7" cy="103.3" r="3.2"/>
<circle cx="224.2" cy="169.3" r="2.7"/>
<circle cx="251.4" cy="129.1" r="2.3"/>
<circle cx="239.9" cy="116.3" r="3.1"/>
<circle cx="222.3" cy="126.5" r="2.7"/>
<circle cx="223.8" cy="177" r="3.2"/>
<circle cx="237" cy="140" r="2.3"/>
<circle cx="257.5" cy="132.6" r="3"/>
<circle cx="267.9" cy="145.6" r="2.9"/>
<circle cx="238.7" cy="99.3" r="2.6"/>
<circle cx="213.7" cy="107.4" r="2.8"/>
<circle cx="251.7" cy="141.7" r="2.6"/>
<circle cx="223.3" cy="136.2" r="2.4"/>
<circle cx="257.9" cy="133.2" r="2.6"/>
<circle cx="234.3" cy="129.6" r="3.2"/>
<circle cx="254.7" cy="135.8" r="2.2"/>
<circle cx="210.9" cy="131.9" r="3.3"/>
<circle cx="257.7" cy="118.6" r="3.2"/>
<circle cx="220.1" cy="166.7" r="2.1"/>
<circle cx="214.8" cy="156.1" r="2.7"/>
<circle cx="201" cy="174.1" r="3"/>
<circle cx="215.7" cy="105" r="2.8"/>
<circle cx="242.3" cy="135.7" r="3"/>
<circle cx="237.2" cy="116.6" r="2.9"/>
<circle cx="233.8" cy="100.1" r="3"/>
<circle cx="229.6" cy="165.9" r="2.9"/>
<circle cx="270.8" cy="141.5" r="2.8"/>
<circle cx="222.3" cy="96.7" r="3.2"/>
<circle cx="200.8" cy="173.8" r="3.2"/>
<circle cx="243.3" cy="157.1" r="2.8"/>
<circle cx="253.9" cy="129.4" r="2.2"/>
<circle cx="239.5" cy="111.9" r="2.3"/>
<circle cx="264.3" cy="145.1" r="3"/>
<circle cx="259.7" cy="128" r="2.6"/>
<circle cx="229.6" cy="120.6" r="3"/>
<circle cx="251.4" cy="107.2" r="2"/>
<circle cx="249.4" cy="160" r="2.4"/>
<circle cx="220.9" cy="158.5" r="3.1"/>
<circle cx="206.8" cy="172.7" r="2.6"/>
<circle cx="217.3" cy="122.5" r="2.7"/>
<circle cx="237.1" cy="114.7" r="2.1"/>
<circle cx="245.2" cy="154.5" r="2.9"/>
<circle cx="226.8" cy="167.6" r="2"/>
<circle cx="239.2" cy="136.2" r="2.3"/>
<circle cx="247.1" cy="134.8" r="2.7"/>
<circle cx="261.5" cy="147.3" r="3.2"/>
<circle cx="204.9" cy="164.3" r="2.4"/>
<circle cx="226.4" cy="136.2" r="3"/>
<circle cx="240.2" cy="154.5" r="2.4"/>
<circle cx="243.2" cy="156.2" r="2.5"/>
<circle cx="224.7" cy="136.5" r="2.6"/>
<circle cx="261.4" cy="112.4" r="2.4"/>
<circle cx="226.5" cy="148.3" r="2.2"/>
<circle cx="272.3" cy="134.3" r="2.9"/>
<circle cx="226" cy="140.7" r="2.1"/>
<circle cx="272.4" cy="142.2" r="2.6"/>
<circle cx="222.2" cy="148.1" r="2.2"/>
<circle cx="233.8" cy="112.4" r="2.7"/>
<circle cx="249.6" cy="135.7" r="3"/>
<circle cx="247.2" cy="132.5" r="3"/>
<circle cx="260.3" cy="128.9" r="2.6"/>
<circle cx="234.7" cy="122" r="2.3"/>
<circle cx="250" cy="145.9" r="2.1"/>
<circle cx="217" cy="174.6" r="2.4"/>
<circle cx="218.8" cy="141.3" r="2.5"/>
<circle cx="209.2" cy="128.8" r="2.4"/>
<circle cx="224.3" cy="155.4" r="3.3"/>
<circle cx="208.8" cy="171.8" r="2.9"/>
<circle cx="253.4" cy="161.7" r="2.4"/>
<circle cx="224.5" cy="117.9" r="3.1"/>
<circle cx="229.3" cy="128.6" r="2.4"/>
<circle cx="232.5" cy="167.4" r="2.5"/>
<circle cx="228.8" cy="162.4" r="3.3"/>
<circle cx="254.9" cy="153.2" r="3.1"/>
<circle cx="237.4" cy="123.4" r="2"/>
<circle cx="237" cy="120.4" r="2"/>
<circle cx="224" cy="160.7" r="2.9"/>
<circle cx="248.4" cy="132.9" r="2.1"/>
<circle cx="260.8" cy="158.6" r="2.6"/>
<circle cx="239.8" cy="162.6" r="2.6"/>
<circle cx="233" cy="132.5" r="3"/>
<circle cx="253.3" cy="118.5" r="3"/>
<circle cx="225.2" cy="150.3" r="2.5"/>
<circle cx="256.6" cy="122.8" r="2.5"/>
<circle cx="229.7" cy="143.8" r="2"/>
<circle cx="200.9" cy="170.8" r="2.7"/>
<circle cx="252" cy="157.8" r="2.5"/>
<circle cx="205.1" cy="167.4" r="3.1"/>
<circle cx="252.2" cy="107.4" r="2.6"/>
<circle cx="236.1" cy="121.2" r="2.6"/>
<circle cx="256.1" cy="122.8" r="2.8"/>
<circle cx="239.9" cy="156.5" r="2.4"/>
<circle cx="248.8" cy="121.7" r="3"/>
<circle cx="234.4" cy="147.5" r="3.3"/>
<circle cx="265.9" cy="136.3" r="2.8"/>
<circle cx="226" cy="179.8" r="2.5"/>
<circle cx="252.6" cy="165.2" r="2.5"/>
<circle cx="228.7" cy="121.4" r="2.4"/>
<circle cx="228" cy="166.7" r="2.1"/>
<circle cx="239.6" cy="147.4" r="2.4"/>
<circle cx="225.7" cy="133.9" r="2.3"/>
<circle cx="215.4" cy="167.1" r="2.8"/>
<circle cx="230.8" cy="147.2" r="2.2"/>
<circle cx="240.8" cy="104.3" r="2.7"/>
<circle cx="221.3" cy="111.7" r="3"/>
<circle cx="224" cy="156.8" r="3"/>
<circle cx="225.2" cy="90" r="3.1"/>
<circle cx="239" cy="141.5" r="2.9"/>
<circle cx="244" cy="125.3" r="3.2"/>
<circle cx="265.8" cy="143.1" r="2"/>
<circle cx="244.6" cy="125.7" r="2.7"/>
<circle cx="261.8" cy="116.2" r="2.3"/>
<circle cx="216.8" cy="136.7" r="3.2"/>
<circle cx="209.3" cy="114.2" r="2.5"/>
<circle cx="245.9" cy="120.2" r="2.9"/>
<circle cx="241.2" cy="155" r="2.2"/>
<circle cx="201" cy="174" r="2.9"/>
<circle cx="208.4" cy="125.5" r="2.1"/>
<circle cx="254.7" cy="146.9" r="2.8"/>
<circle cx="235.8" cy="148.7" r="2.6"/>
<circle cx="226.9" cy="165.7" r="2.4"/>
<circle cx="227.6" cy="150.9" r="3.3"/>
<circle cx="222.8" cy="127.7" r="2.5"/>
<circle cx="212.3" cy="120.3" r="3"/>
<circle cx="210.5" cy="131.9" r="2.4"/>
<circle cx="241" cy="159.7" r="2.2"/>
<circle cx="233.9" cy="104.6" r="2.8"/>
<circle cx="248.8" cy="107.8" r="2.3"/>
<circle cx="219.5" cy="117.9" r="3.2"/>
<circle cx="226.6" cy="130" r="2.3"/>
<circle cx="231.8" cy="176.4" r="2.1"/>
<circle cx="226.7" cy="105.4" r="3.1"/>
<circle cx="219.4" cy="132.8" r="2.1"/>
<circle cx="249.8" cy="135.3" r="3"/>
<circle cx="252.2" cy="157" r="2.3"/>
<circle cx="215.5" cy="143.2" r="2.1"/>
<circle cx="234.4" cy="121" r="2.1"/>
<circle cx="239.2" cy="159.7" r="2.2"/>
<circle cx="203.6" cy="151.4" r="2.6"/>
<circle cx="257.7" cy="125.7" r="3.3"/>
<circle cx="264.1" cy="117.2" r="2.7"/>
<circle cx="241.7" cy="129.3" r="3.1"/>
<circle cx="251" cy="164" r="2.3"/>
<circle cx="235.3" cy="138.1" r="2.8"/>
<circle cx="197.1" cy="163.4" r="2.6"/>
<circle cx="208.3" cy="167.4" r="2.7"/>
<circle cx="253.7" cy="156.6" r="2.8"/>
<circle cx="221.9" cy="102.4" r="2.8"/>
<circle cx="238.1" cy="129.8" r="2.6"/>
<circle cx="215.7" cy="95.6" r="2.1"/>
<circle cx="207.6" cy="124.7" r="2.2"/>
<circle cx="232.1" cy="102.4" r="3"/>
<circle cx="264.3" cy="117.4" r="2.1"/>
<circle cx="246.6" cy="158.1" r="2.6"/>
<circle cx="230" cy="135.1" r="3.1"/>
<circle cx="225.5" cy="111" r="2"/>
<circle cx="223.4" cy="178.6" r="2.9"/>
<circle cx="229.8" cy="96.9" r="2.5"/>
<circle cx="218.6" cy="176.2" r="2.5"/>
<circle cx="199.5" cy="171.5" r="2.1"/>
<circle cx="257.4" cy="143" r="2.4"/>
<circle cx="261" cy="127.3" r="3.3"/>
<circle cx="249.9" cy="155.4" r="2.9"/>
<circle cx="255.4" cy="105.2" r="2.1"/>
<circle cx="204.1" cy="166.7" r="2.5"/>
<circle cx="229.3" cy="104.1" r="2.6"/>
<circle cx="243.3" cy="168" r="3.2"/>
<circle cx="221.2" cy="89.2" r="2.9"/>
</g>
<g fill="none" stroke="#7fb88a" stroke-width="2.4" stroke-linecap="round" stroke-linejoin="round">
<path d="M70 119 C82 117 92 117 102 114"/>
<path d="M72 122.5 C84 121 94 120 104 117.5"/>
<path d="M76 115 C86 113 94 112 100 110"/>
<path d="M70 146 C84 141 98 135 112 129"/>
<path d="M72 149.5 C86 145 100 139 113 133"/>
<path d="M76 143 C88 138 98 133 108 128"/>
<path d="M83 137 C87 144 90 151 92 158"/>
<path d="M96 124 C100 132 102 140 100 148"/>
</g>
<g fill="none" stroke="#6f9c72" stroke-width="1.9" stroke-linecap="round" stroke-linejoin="round">
<path d="M104 146 C112 138 124 142 122 152 C120 162 108 164 104 156 C102 150 108 146 114 150"/>
<path d="M110 160 C118 166 126 162 128 154"/>
<path d="M100 140 C106 134 114 134 120 138"/>
</g>
<g fill="none" stroke="#7fb88a" stroke-width="2.5" stroke-linecap="round" stroke-linejoin="round">
<path d="M232 119 C242 117 252 118 262 121"/>
<path d="M230 123 C242 121 252 122 262 125"/>
<path d="M224 108 C232 104 242 106 250 110"/>
<path d="M220 134 C230 138 240 142 248 147"/>
<path d="M219 139 C229 143 238 147 246 152"/>
<path d="M248 144 C246 150 243 154 239 157"/>
<path d="M208 146 C214 154 220 162 226 172"/>
<path d="M212 142 C218 150 224 158 231 168"/>
<path d="M204 156 C208 164 214 170 220 176"/>
<path d="M240 128 C248 132 256 132 262 130"/>
<path d="M226 96 C234 94 242 98 246 104"/>
</g>
<g fill="none" stroke="#8a3f8a" stroke-width="1.8" stroke-linecap="round" stroke-linejoin="round">
<path d="M116 150 C120 144 128 146 127 153 C126 159 118 160 116 154"/>
<path d="M122 140 C128 142 130 148 127 152"/>
<path d="M206 150 C214 146 218 156 212 162"/>
</g>
</g>
<path d="M112.6 53.8 V49 Q112.6 47.3 114.4 47.3 H215.4 Q217.2 47.3 217.2 49 V53.8" fill="none" stroke="#7f7f7f" stroke-width="1.6"/>
<line x1="165" y1="47.3" x2="165" y2="42" stroke="#7f7f7f" stroke-width="1.6"/>
<text x="167.4" y="35.3" font-size="11.6" fill="#7f7f7f" font-weight="bold" text-anchor="middle" textLength="25.2" lengthAdjust="spacingAndGlyphs">RBD</text>
<path d="M46.5 63.6 H42 Q40 63.6 40 65.6 V177.6 Q40 179.6 42 179.6 H46.5" fill="none" stroke="#d68ad6" stroke-width="1.6"/>
<line x1="40" y1="122" x2="34.5" y2="122" stroke="#d68ad6" stroke-width="1.6"/>
<text x="15.6" y="125" font-size="11.6" fill="#d68ad6" font-weight="bold" textLength="13.4" lengthAdjust="spacingAndGlyphs">S1</text>
<path d="M46.2 183.8 H41.6 Q39.6 183.8 39.6 185.8 V332 Q39.6 334 41.6 334 H46.2" fill="none" stroke="#2a72b8" stroke-width="1.7"/>
<line x1="39.6" y1="258.4" x2="34.2" y2="258.4" stroke="#2a72b8" stroke-width="1.7"/>
<text x="15.2" y="263" font-size="11.6" fill="#2a72b8" font-weight="bold" textLength="13.6" lengthAdjust="spacingAndGlyphs">S2</text>
<path d="M280 86.8 H282.8 Q284.8 86.8 284.8 88.8 V172.4 Q284.8 174.4 282.8 174.4 H280" fill="none" stroke="#86c596" stroke-width="1.6"/>
<line x1="284.8" y1="130.5" x2="289" y2="130.5" stroke="#86c596" stroke-width="1.6"/>
<text x="292.4" y="134.8" font-size="11.6" fill="#86c596" font-weight="bold" textLength="25.2" lengthAdjust="spacingAndGlyphs">NTD</text>
<path d="M340.6 121 H450 C468 121 472 132 478 144 C484 158 491 167.5 504 167.5 C517 167.5 524 158 530 144 C536 132 541 121 558 121 H722 V312.2 H340.6 Z" fill="#faf8ea"/>
<path d="M622 322 L654 303.5 C662 298 660 295.5 651 297.5 L603 306.5 C588 309.5 580 304 587 298.5 C608 284 640 266.5 672 256 C690 250 704 247.5 708.5 252.5 C712 257 706 262.5 700 266.5 L678 281 C670 286 670 290.5 680 290.5 C695 290.5 710 287 726 283.5" fill="none" stroke="#e6c6eb" stroke-width="9.4" stroke-linejoin="round" stroke-linecap="round"/>
<path d="M622 322 L654 303.5 C662 298 660 295.5 651 297.5 L603 306.5 C588 309.5 580 304 587 298.5 C608 284 640 266.5 672 256 C690 250 704 247.5 708.5 252.5 C712 257 706 262.5 700 266.5 L678 281 C670 286 670 290.5 680 290.5 C695 290.5 710 287 726 283.5" fill="none" stroke="#f5e6f7" stroke-width="4.8" stroke-linejoin="round" stroke-linecap="round"/>
<rect x="560" y="312.2" width="160" height="30" fill="#fff"/>
<path d="M340.6 121 H450 C468 121 472 132 478 144 C484 158 491 167.5 504 167.5 C517 167.5 524 158 530 144 C536 132 541 121 558 121 H722" fill="none" stroke="#b1bccb" stroke-width="9.2"/>
<path d="M340.6 121 H450 C468 121 472 132 478 144 C484 158 491 167.5 504 167.5 C517 167.5 524 158 530 144 C536 132 541 121 558 121 H722" fill="none" stroke="#dbe6f4" stroke-width="5"/>
<g transform="translate(352.8 112) rotate(0)">
<line x1="0" y1="-0.5" x2="0" y2="13" stroke="#2b4a80" stroke-width="1.2"/>
<path d="M-3.9 -6.4 L-1.2 -4.6 L0 -2.9 L1.2 -4.6 L3.9 -6.4 C4 -2.4 2.2 0.3 0 0.3 C-2.2 0.3 -4 -2.4 -3.9 -6.4Z" fill="#356aae"/>
</g>
<g transform="translate(403.5 112.4) rotate(0)">
<line x1="0" y1="-0.5" x2="0" y2="12.6" stroke="#2b4a80" stroke-width="1.2"/>
<path d="M-3.9 -6.4 L-1.2 -4.6 L0 -2.9 L1.2 -4.6 L3.9 -6.4 C4 -2.4 2.2 0.3 0 0.3 C-2.2 0.3 -4 -2.4 -3.9 -6.4Z" fill="#356aae"/>
</g>
<g transform="translate(504.3 161.4) rotate(0)">
<line x1="0" y1="-0.5" x2="0" y2="13.5" stroke="#2b4a80" stroke-width="1.2"/>
<path d="M-3.9 -6.4 L-1.2 -4.6 L0 -2.9 L1.2 -4.6 L3.9 -6.4 C4 -2.4 2.2 0.3 0 0.3 C-2.2 0.3 -4 -2.4 -3.9 -6.4Z" fill="#356aae"/>
</g>
<g transform="translate(539.2 118) rotate(-28)">
<line x1="0" y1="-0.5" x2="0" y2="12.5" stroke="#2b4a80" stroke-width="1.2"/>
<path d="M-3.9 -6.4 L-1.2 -4.6 L0 -2.9 L1.2 -4.6 L3.9 -6.4 C4 -2.4 2.2 0.3 0 0.3 C-2.2 0.3 -4 -2.4 -3.9 -6.4Z" fill="#356aae"/>
</g>
<line x1="403.6" y1="6.6" x2="403.6" y2="3.5" stroke="#3d9460" stroke-width="1.0"/>
<path d="M403.6 4.5 L405.4 1.9 Q403.6 0.5 401.8 1.9 Z" fill="#3d9460" stroke="#3d9460" stroke-width="1.1" stroke-linejoin="round"/>
<line x1="410.4" y1="8.4" x2="412" y2="5.7" stroke="#3d9460" stroke-width="1.0"/>
<path d="M411.5 6.6 L414.3 5.3 Q413.5 3.1 411.2 3.5 Z" fill="#3d9460" stroke="#3d9460" stroke-width="1.1" stroke-linejoin="round"/>
<line x1="415.4" y1="13.4" x2="418.1" y2="11.8" stroke="#3d9460" stroke-width="1.0"/>
<path d="M417.2 12.3 L420.3 12.6 Q420.7 10.3 418.5 9.5 Z" fill="#3d9460" stroke="#3d9460" stroke-width="1.1" stroke-linejoin="round"/>
<line x1="417.2" y1="20.2" x2="420.3" y2="20.2" stroke="#3d9460" stroke-width="1.0"/>
<path d="M419.3 20.2 L421.9 22 Q423.3 20.2 421.9 18.4 Z" fill="#3d9460" stroke="#3d9460" stroke-width="1.1" stroke-linejoin="round"/>
<line x1="415.4" y1="27" x2="418.1" y2="28.5" stroke="#3d9460" stroke-width="1.0"/>
<path d="M417.2 28 L418.5 30.9 Q420.7 30.1 420.3 27.8 Z" fill="#3d9460" stroke="#3d9460" stroke-width="1.1" stroke-linejoin="round"/>
<line x1="410.4" y1="32" x2="412" y2="34.7" stroke="#3d9460" stroke-width="1.0"/>
<path d="M411.5 33.8 L411.2 36.9 Q413.5 37.3 414.3 35.1 Z" fill="#3d9460" stroke="#3d9460" stroke-width="1.1" stroke-linejoin="round"/>
<line x1="403.6" y1="33.8" x2="403.6" y2="36.9" stroke="#3d9460" stroke-width="1.0"/>
<path d="M403.6 35.9 L401.8 38.5 Q403.6 39.9 405.4 38.5 Z" fill="#3d9460" stroke="#3d9460" stroke-width="1.1" stroke-linejoin="round"/>
<line x1="396.8" y1="32" x2="395.2" y2="34.7" stroke="#3d9460" stroke-width="1.0"/>
<path d="M395.8 33.8 L392.9 35.1 Q393.7 37.3 396 36.9 Z" fill="#3d9460" stroke="#3d9460" stroke-width="1.1" stroke-linejoin="round"/>
<line x1="391.8" y1="27" x2="389.1" y2="28.6" stroke="#3d9460" stroke-width="1.0"/>
<path d="M390 28.1 L386.9 27.8 Q386.5 30.1 388.7 30.9 Z" fill="#3d9460" stroke="#3d9460" stroke-width="1.1" stroke-linejoin="round"/>
<line x1="390" y1="20.2" x2="386.9" y2="20.2" stroke="#3d9460" stroke-width="1.0"/>
<path d="M387.9 20.2 L385.3 18.4 Q383.9 20.2 385.3 22 Z" fill="#3d9460" stroke="#3d9460" stroke-width="1.1" stroke-linejoin="round"/>
<line x1="391.8" y1="13.4" x2="389.1" y2="11.8" stroke="#3d9460" stroke-width="1.0"/>
<path d="M390 12.3 L388.7 9.5 Q386.5 10.3 386.9 12.6 Z" fill="#3d9460" stroke="#3d9460" stroke-width="1.1" stroke-linejoin="round"/>
<line x1="396.8" y1="8.4" x2="395.2" y2="5.7" stroke="#3d9460" stroke-width="1.0"/>
<path d="M395.8 6.6 L396 3.5 Q393.7 3.1 392.9 5.3 Z" fill="#3d9460" stroke="#3d9460" stroke-width="1.1" stroke-linejoin="round"/>
<circle cx="403.6" cy="20.2" r="13.6" fill="#def3f6" stroke="#857565" stroke-width="1.1"/>
<path d="M413 24.3 413.3 23.9 413.5 23.5 413.6 23 413.5 22.4 413.3 21.9 413 21.4 412.6 20.9 412 20.5 411.4 20.1 410.6 19.9 409.8 19.7 409 19.7 408.1 19.8 407.3 20 406.5 20.3 405.7 20.8 405 21.3 404.3 21.9 403.8 22.6 403.4 23.4 403.1 24.2 402.9 25 402.9 25.7 403 26.5 403.1 27.1 403.4 27.7 403.8 28.3 404.2 28.7 404.7 29 405.2 29.1 405.7 29.2 406.2 29.1 406.6 29 407 28.7 407.4 28.3 407.6 27.9 407.8 27.4 407.9 26.9 407.9 26.3 407.7 25.8 407.5 25.2 407.2 24.7 406.8 24.2 406.3 23.7 405.7 23.3 405.1 23 404.5 22.8 403.8 22.6 403.1 22.6 402.4 22.6 401.7 22.7 401 22.9 400.4 23.2 399.8 23.5 399.3 23.9 398.8 24.3 398.4 24.8 398.1 25.3 398 25.9 397.9 26.4 397.9 26.9 397.9 27.4 398.1 27.8 398.4 28.1 398.7 28.4 399.1 28.6 399.5 28.7 400 28.7 400.4 28.5 400.9 28.3 401.3 28 401.7 27.5 402 26.9 402.3 26.3 402.4 25.6 402.5 24.8 402.4 24 402.2 23.2 401.9 22.3 401.5 21.6 401 20.8 400.4 20.2 399.7 19.6 399 19.1 398.2 18.7 397.4 18.5 396.6 18.4 395.8 18.4 395.1 18.5 394.4 18.7 393.8 19.1 393.4 19.5 393 19.9 392.8 20.4 392.7 20.9 392.8 21.5 392.9 21.9 393.2 22.4 393.6 22.8 394.1 23 394.7 23.2 395.4 23.3 396 23.3 396.7 23.2 397.4 22.9 398.1 22.6 398.8 22.1 399.3 21.6 399.8 20.9 400.3 20.3 400.6 19.6 400.9 18.8 401 18.1 401.1 17.3 401.1 16.6 401 15.9 400.8 15.3 400.5 14.8 400.2 14.3 399.8 13.9 399.5 13.6 399 13.3 398.6 13.2 398.2 13.2 397.9 13.3 397.5 13.4 397.2 13.6 397 13.9 396.8 14.3 396.7 14.7 396.8 15.2 396.8 15.6 397 16.1 397.3 16.6 397.7 17.1 398.2 17.5 398.7 17.9 399.3 18.2 400 18.4 400.7 18.6 401.5 18.6 402.3 18.6 403.1 18.4 403.8 18.2 404.5 17.8 405.2 17.4 405.8 16.8 406.2 16.2 406.6 15.5 406.9 14.8 407.1 14.1 407.1 13.4 407 12.8 406.8 12.1 406.5 11.6 406.1 11.1 405.6 10.8 405.1 10.5 404.6 10.4 404 10.4 403.4 10.6 402.9 10.8 402.5 11.2 402.1 11.7 401.8 12.3 401.6 13 401.6 13.7 401.7 14.4 401.8 15.2 402.2 15.9 402.6 16.6 403.1 17.2 403.8 17.8 404.5 18.3 405.2 18.6 406 18.9 406.9 19.1 407.7 19.1 408.5 19.1 409.2 18.9 409.9 18.7 410.5 18.4 411.1 18 411.5 17.6 411.8 17.1 412.1 16.7 412.2 16.2 412.2 15.8 412.2 15.4 412 15 411.8 14.7 411.5 14.5 411.1 14.4 410.7 14.3 410.3 14.3 409.8 14.5 409.4 14.7 408.9 15 408.5 15.4 408.1 15.9 407.8 16.5 407.5 17.1 407.3 17.8 407.1 18.5 407.1 19.2 407.1 20 407.2 20.7 407.4 21.5 407.7 22.2 408 22.8 408.5 23.4 408.9 23.9 409.5 24.3 410 24.7 410.6 24.9 411.2 25 411.7 25 412.2 24.8 412.7 24.6 413 24.3" fill="none" stroke="#2b8d98" stroke-width="0.9" stroke-linejoin="round"/>
<line x1="403.6" y1="76.4" x2="403.6" y2="73.3" stroke="#3d9460" stroke-width="1.0"/>
<path d="M403.6 74.3 L405.4 71.7 Q403.6 70.3 401.8 71.7 Z" fill="#3d9460" stroke="#3d9460" stroke-width="1.1" stroke-linejoin="round"/>
<line x1="410.3" y1="78.2" x2="411.9" y2="75.5" stroke="#3d9460" stroke-width="1.0"/>
<path d="M411.4 76.4 L414.2 75 Q413.4 72.9 411.1 73.2 Z" fill="#3d9460" stroke="#3d9460" stroke-width="1.1" stroke-linejoin="round"/>
<line x1="415.2" y1="83.1" x2="417.9" y2="81.5" stroke="#3d9460" stroke-width="1.0"/>
<path d="M417 82 L420.2 82.3 Q420.5 80 418.4 79.2 Z" fill="#3d9460" stroke="#3d9460" stroke-width="1.1" stroke-linejoin="round"/>
<line x1="417" y1="89.8" x2="420.1" y2="89.8" stroke="#3d9460" stroke-width="1.0"/>
<path d="M419.1 89.8 L421.7 91.6 Q423.1 89.8 421.7 88 Z" fill="#3d9460" stroke="#3d9460" stroke-width="1.1" stroke-linejoin="round"/>
<line x1="415.2" y1="96.5" x2="417.9" y2="98" stroke="#3d9460" stroke-width="1.0"/>
<path d="M417 97.5 L418.4 100.4 Q420.5 99.6 420.2 97.3 Z" fill="#3d9460" stroke="#3d9460" stroke-width="1.1" stroke-linejoin="round"/>
<line x1="410.3" y1="101.4" x2="411.9" y2="104.1" stroke="#3d9460" stroke-width="1.0"/>
<path d="M411.4 103.2 L411.1 106.4 Q413.4 106.7 414.2 104.6 Z" fill="#3d9460" stroke="#3d9460" stroke-width="1.1" stroke-linejoin="round"/>
<line x1="403.6" y1="103.2" x2="403.6" y2="106.3" stroke="#3d9460" stroke-width="1.0"/>
<path d="M403.6 105.3 L401.8 107.9 Q403.6 109.3 405.4 107.9 Z" fill="#3d9460" stroke="#3d9460" stroke-width="1.1" stroke-linejoin="round"/>
<line x1="396.9" y1="101.4" x2="395.4" y2="104.1" stroke="#3d9460" stroke-width="1.0"/>
<path d="M395.9 103.2 L393 104.6 Q393.8 106.7 396.1 106.4 Z" fill="#3d9460" stroke="#3d9460" stroke-width="1.1" stroke-linejoin="round"/>
<line x1="392" y1="96.5" x2="389.3" y2="98" stroke="#3d9460" stroke-width="1.0"/>
<path d="M390.2 97.5 L387 97.3 Q386.7 99.6 388.8 100.4 Z" fill="#3d9460" stroke="#3d9460" stroke-width="1.1" stroke-linejoin="round"/>
<line x1="390.2" y1="89.8" x2="387.1" y2="89.8" stroke="#3d9460" stroke-width="1.0"/>
<path d="M388.1 89.8 L385.5 88 Q384.1 89.8 385.5 91.6 Z" fill="#3d9460" stroke="#3d9460" stroke-width="1.1" stroke-linejoin="round"/>
<line x1="392" y1="83.1" x2="389.3" y2="81.5" stroke="#3d9460" stroke-width="1.0"/>
<path d="M390.2 82 L388.8 79.2 Q386.7 80 387 82.3 Z" fill="#3d9460" stroke="#3d9460" stroke-width="1.1" stroke-linejoin="round"/>
<line x1="396.9" y1="78.2" x2="395.4" y2="75.5" stroke="#3d9460" stroke-width="1.0"/>
<path d="M395.9 76.4 L396.1 73.2 Q393.8 72.9 393 75 Z" fill="#3d9460" stroke="#3d9460" stroke-width="1.1" stroke-linejoin="round"/>
<circle cx="403.6" cy="89.8" r="13.4" fill="#def3f6" stroke="#857565" stroke-width="1.1"/>
<path d="M403.6 98 404.1 98.4 404.6 98.8 405.2 99 405.7 99.1 406.3 99.1 406.8 98.9 407.3 98.6 407.7 98.3 408.1 97.8 408.3 97.2 408.4 96.6 408.4 96 408.2 95.3 408 94.7 407.6 94.1 407.1 93.5 406.5 93 405.8 92.6 405.1 92.3 404.3 92.1 403.5 92 402.7 92 401.9 92.1 401.1 92.3 400.4 92.6 399.7 92.9 399.1 93.4 398.6 93.9 398.2 94.4 397.9 94.9 397.7 95.5 397.6 96 397.6 96.5 397.7 96.9 397.8 97.3 398 97.6 398.3 97.9 398.6 98 399 98.1 399.3 98.1 399.7 97.9 400.1 97.7 400.4 97.4 400.8 97 401 96.6 401.2 96 401.4 95.4 401.5 94.8 401.5 94.1 401.4 93.4 401.2 92.7 400.9 92 400.6 91.3 400.2 90.6 399.7 90.1 399.1 89.6 398.5 89.1 397.8 88.8 397.2 88.5 396.5 88.4 395.9 88.4 395.2 88.4 394.7 88.6 394.2 88.9 393.8 89.2 393.5 89.6 393.3 90.1 393.2 90.6 393.3 91 393.4 91.5 393.8 92 394.2 92.4 394.7 92.7 395.3 93 396 93.1 396.7 93.1 397.5 93 398.3 92.8 399.1 92.4 399.8 92 400.4 91.4 401 90.8 401.5 90 401.9 89.2 402.2 88.4 402.3 87.6 402.4 86.7 402.3 85.9 402.1 85.2 401.8 84.5 401.4 83.9 401 83.4 400.5 83 400 82.7 399.4 82.6 398.9 82.5 398.4 82.6 398 82.8 397.6 83 397.3 83.3 397.1 83.7 396.9 84.2 396.9 84.7 397 85.1 397.1 85.6 397.4 86.1 397.8 86.5 398.2 86.9 398.7 87.3 399.3 87.5 399.9 87.7 400.5 87.8 401.2 87.9 401.9 87.8 402.5 87.7 403.2 87.4 403.8 87.1 404.4 86.7 404.9 86.3 405.4 85.8 405.8 85.2 406.1 84.7 406.3 84.1 406.4 83.5 406.4 82.9 406.4 82.3 406.2 81.8 406 81.3 405.7 81 405.4 80.6 405 80.4 404.5 80.3 404.1 80.3 403.7 80.4 403.2 80.7 402.9 81 402.5 81.4 402.3 82 402.2 82.6 402.1 83.2 402.2 83.9 402.4 84.7 402.7 85.4 403.1 86.1 403.6 86.8 404.2 87.4 404.9 87.9 405.7 88.3 406.6 88.6 407.4 88.8 408.3 88.9 409.2 88.9 410 88.8 410.7 88.5 411.4 88.2 412 87.7 412.5 87.2 412.8 86.7 413 86.2 413.1 85.6 413.1 85.1 412.9 84.6 412.7 84.2 412.3 83.9 411.8 83.6 411.3 83.5 410.8 83.5 410.2 83.6 409.6 83.8 409 84.1 408.5 84.5 408 85 407.6 85.6 407.2 86.3 407 87 406.8 87.7 406.7 88.5 406.7 89.3 406.8 90 406.9 90.7 407.2 91.4 407.5 92 407.9 92.5 408.3 93 408.7 93.4 409.2 93.7 409.7 93.9 410.2 94 410.6 94.1 411 94 411.4 93.9 411.7 93.6 411.9 93.4 412.1 93 412.2 92.7 412.2 92.2 412.1 91.8 411.9 91.4 411.6 91 411.2 90.6 410.7 90.3 410.2 90 409.6 89.8 408.9 89.7 408.2 89.7 407.4 89.8 406.7 90 406 90.3 405.3 90.7 404.7 91.2 404.1 91.7 403.6 92.4 403.2 93.1 402.9 93.8 402.8 94.6 402.7 95.4 402.8 96.1 403 96.8 403.3 97.4 403.6 98" fill="none" stroke="#2b8d98" stroke-width="0.9" stroke-linejoin="round"/>
<line x1="504.3" y1="125.4" x2="504.3" y2="122.3" stroke="#3d9460" stroke-width="1.0"/>
<path d="M504.3 123.3 L506.1 120.7 Q504.3 119.3 502.5 120.7 Z" fill="#3d9460" stroke="#3d9460" stroke-width="1.1" stroke-linejoin="round"/>
<line x1="510.9" y1="127.2" x2="512.5" y2="124.5" stroke="#3d9460" stroke-width="1.0"/>
<path d="M512 125.3 L514.8 124 Q514 121.9 511.7 122.2 Z" fill="#3d9460" stroke="#3d9460" stroke-width="1.1" stroke-linejoin="round"/>
<line x1="515.7" y1="132" x2="518.4" y2="130.4" stroke="#3d9460" stroke-width="1.0"/>
<path d="M517.6 130.9 L520.7 131.2 Q521 128.9 518.9 128.1 Z" fill="#3d9460" stroke="#3d9460" stroke-width="1.1" stroke-linejoin="round"/>
<line x1="517.5" y1="138.6" x2="520.6" y2="138.6" stroke="#3d9460" stroke-width="1.0"/>
<path d="M519.6 138.6 L522.2 140.4 Q523.6 138.6 522.2 136.8 Z" fill="#3d9460" stroke="#3d9460" stroke-width="1.1" stroke-linejoin="round"/>
<line x1="515.7" y1="145.2" x2="518.4" y2="146.8" stroke="#3d9460" stroke-width="1.0"/>
<path d="M517.6 146.2 L518.9 149.1 Q521 148.3 520.7 146 Z" fill="#3d9460" stroke="#3d9460" stroke-width="1.1" stroke-linejoin="round"/>
<line x1="510.9" y1="150" x2="512.5" y2="152.7" stroke="#3d9460" stroke-width="1.0"/>
<path d="M512 151.9 L511.7 155 Q514 155.3 514.8 153.2 Z" fill="#3d9460" stroke="#3d9460" stroke-width="1.1" stroke-linejoin="round"/>
<line x1="504.3" y1="151.8" x2="504.3" y2="154.9" stroke="#3d9460" stroke-width="1.0"/>
<path d="M504.3 153.9 L502.5 156.5 Q504.3 157.9 506.1 156.5 Z" fill="#3d9460" stroke="#3d9460" stroke-width="1.1" stroke-linejoin="round"/>
<line x1="497.7" y1="150" x2="496.1" y2="152.7" stroke="#3d9460" stroke-width="1.0"/>
<path d="M496.6 151.9 L493.8 153.2 Q494.6 155.3 496.9 155 Z" fill="#3d9460" stroke="#3d9460" stroke-width="1.1" stroke-linejoin="round"/>
<line x1="492.9" y1="145.2" x2="490.2" y2="146.8" stroke="#3d9460" stroke-width="1.0"/>
<path d="M491 146.2 L487.9 146 Q487.6 148.3 489.7 149.1 Z" fill="#3d9460" stroke="#3d9460" stroke-width="1.1" stroke-linejoin="round"/>
<line x1="491.1" y1="138.6" x2="488" y2="138.6" stroke="#3d9460" stroke-width="1.0"/>
<path d="M489 138.6 L486.4 136.8 Q485 138.6 486.4 140.4 Z" fill="#3d9460" stroke="#3d9460" stroke-width="1.1" stroke-linejoin="round"/>
<line x1="492.9" y1="132" x2="490.2" y2="130.4" stroke="#3d9460" stroke-width="1.0"/>
<path d="M491 130.9 L489.7 128.1 Q487.6 128.9 487.9 131.2 Z" fill="#3d9460" stroke="#3d9460" stroke-width="1.1" stroke-linejoin="round"/>
<line x1="497.7" y1="127.2" x2="496.1" y2="124.5" stroke="#3d9460" stroke-width="1.0"/>
<path d="M496.6 125.3 L496.9 122.2 Q494.6 121.9 493.8 124 Z" fill="#3d9460" stroke="#3d9460" stroke-width="1.1" stroke-linejoin="round"/>
<circle cx="504.3" cy="138.6" r="13.2" fill="#def3f6" stroke="#857565" stroke-width="1.1"/>
<path d="M498.9 141.5 498.3 141.9 497.7 142.4 497.3 143 497 143.6 496.8 144.1 496.7 144.7 496.8 145.2 496.9 145.7 497.2 146.1 497.5 146.4 497.9 146.6 498.4 146.7 498.9 146.7 499.4 146.6 499.9 146.3 500.4 146 500.8 145.6 501.2 145.1 501.5 144.5 501.7 143.8 501.9 143.2 502 142.4 502 141.7 501.9 141 501.7 140.3 501.4 139.6 501.1 139 500.7 138.4 500.3 137.9 499.8 137.5 499.3 137.1 498.7 136.9 498.2 136.7 497.7 136.6 497.2 136.6 496.7 136.7 496.3 136.8 496 137.1 495.7 137.3 495.5 137.7 495.4 138.1 495.4 138.5 495.5 138.9 495.7 139.3 495.9 139.6 496.3 140 496.8 140.2 497.3 140.5 497.9 140.6 498.6 140.6 499.2 140.6 499.9 140.4 500.6 140.1 501.3 139.7 501.9 139.3 502.5 138.7 502.9 138 503.3 137.3 503.6 136.5 503.8 135.7 503.8 134.9 503.8 134.1 503.6 133.3 503.3 132.6 502.9 132 502.5 131.4 501.9 131 501.4 130.7 500.8 130.5 500.2 130.4 499.6 130.5 499 130.6 498.6 130.9 498.2 131.3 497.9 131.7 497.7 132.2 497.7 132.8 497.7 133.4 497.9 133.9 498.2 134.5 498.6 135 499.1 135.4 499.7 135.8 500.4 136.1 501.1 136.3 501.9 136.4 502.6 136.4 503.4 136.3 504.2 136 504.9 135.7 505.5 135.4 506.1 134.9 506.6 134.4 507.1 133.9 507.4 133.3 507.7 132.7 507.9 132.1 507.9 131.6 507.9 131.1 507.9 130.6 507.7 130.2 507.5 129.8 507.2 129.6 506.9 129.4 506.6 129.3 506.2 129.3 505.9 129.4 505.6 129.6 505.2 129.9 505 130.3 504.8 130.7 504.6 131.2 504.5 131.8 504.5 132.4 504.6 133.1 504.8 133.7 505 134.4 505.4 135 505.8 135.7 506.3 136.3 506.9 136.8 507.6 137.2 508.3 137.6 509 137.8 509.7 138 510.5 138 511.2 138 511.8 137.8 512.4 137.6 512.9 137.3 513.3 136.9 513.7 136.4 513.8 135.9 513.9 135.4 513.8 134.9 513.7 134.4 513.3 134 512.9 133.6 512.4 133.3 511.8 133.2 511.2 133.1 510.5 133.1 509.8 133.3 509.1 133.6 508.4 134 507.8 134.6 507.3 135.2 506.8 135.9 506.4 136.7 506.2 137.5 506 138.3 506 139.1 506.1 140 506.3 140.7 506.6 141.5 507 142.1 507.4 142.7 507.9 143.1 508.5 143.5 509 143.7 509.6 143.8 510.1 143.9 510.6 143.8 511 143.6 511.4 143.4 511.7 143.1 511.9 142.7 512 142.3 512.1 141.9 512 141.5 511.9 141.1 511.6 140.7 511.3 140.3 510.9 140 510.4 139.8 509.9 139.6 509.3 139.5 508.7 139.5 508.1 139.5 507.4 139.7 506.8 139.9 506.2 140.2 505.6 140.6 505.1 141 504.6 141.6 504.2 142.1 503.9 142.8 503.7 143.4 503.5 144.1 503.5 144.7 503.5 145.4 503.6 146 503.8 146.5 504.1 147 504.5 147.5 504.9 147.8 505.3 148 505.8 148.1 506.3 148.1 506.7 148 507.1 147.8 507.5 147.5 507.8 147 508 146.5 508.1 145.9 508.1 145.3 507.9 144.7 507.7 144 507.3 143.3 506.8 142.7 506.2 142.1 505.5 141.7 504.8 141.2 503.9 140.9 503.1 140.8 502.2 140.7 501.3 140.7 500.4 140.9 499.6 141.1 498.9 141.5" fill="none" stroke="#2b8d98" stroke-width="0.9" stroke-linejoin="round"/>
<polygon points="401.6,45.5 401.6,58.6 397,58.6 403.5,68.6 410,58.6 405.4,58.6 405.4,45.5" fill="#000"/>
<circle cx="389" cy="174.6" r="27.6" fill="#fdfdf6" stroke="#b1bccb" stroke-width="10.6"/>
<circle cx="389" cy="174.6" r="27.1" fill="none" stroke="#dbe6f4" stroke-width="5"/>
<line x1="390" y1="160.2" x2="390" y2="157.1" stroke="#3d9460" stroke-width="1.0"/>
<path d="M390 158.1 L391.8 155.5 Q390 154.1 388.2 155.5 Z" fill="#3d9460" stroke="#3d9460" stroke-width="1.1" stroke-linejoin="round"/>
<line x1="396.8" y1="162" x2="398.4" y2="159.3" stroke="#3d9460" stroke-width="1.0"/>
<path d="M397.9 160.2 L400.7 158.9 Q399.9 156.7 397.6 157.1 Z" fill="#3d9460" stroke="#3d9460" stroke-width="1.1" stroke-linejoin="round"/>
<line x1="401.8" y1="167" x2="404.5" y2="165.4" stroke="#3d9460" stroke-width="1.0"/>
<path d="M403.6 165.9 L406.7 166.2 Q407.1 163.9 404.9 163.1 Z" fill="#3d9460" stroke="#3d9460" stroke-width="1.1" stroke-linejoin="round"/>
<line x1="403.6" y1="173.8" x2="406.7" y2="173.8" stroke="#3d9460" stroke-width="1.0"/>
<path d="M405.7 173.8 L408.3 175.6 Q409.7 173.8 408.3 172 Z" fill="#3d9460" stroke="#3d9460" stroke-width="1.1" stroke-linejoin="round"/>
<line x1="401.8" y1="180.6" x2="404.5" y2="182.2" stroke="#3d9460" stroke-width="1.0"/>
<path d="M403.6 181.7 L404.9 184.5 Q407.1 183.7 406.7 181.4 Z" fill="#3d9460" stroke="#3d9460" stroke-width="1.1" stroke-linejoin="round"/>
<line x1="396.8" y1="185.6" x2="398.4" y2="188.3" stroke="#3d9460" stroke-width="1.0"/>
<path d="M397.9 187.4 L397.6 190.5 Q399.9 190.9 400.7 188.7 Z" fill="#3d9460" stroke="#3d9460" stroke-width="1.1" stroke-linejoin="round"/>
<line x1="390" y1="187.4" x2="390" y2="190.5" stroke="#3d9460" stroke-width="1.0"/>
<path d="M390 189.5 L388.2 192.1 Q390 193.5 391.8 192.1 Z" fill="#3d9460" stroke="#3d9460" stroke-width="1.1" stroke-linejoin="round"/>
<line x1="383.2" y1="185.6" x2="381.6" y2="188.3" stroke="#3d9460" stroke-width="1.0"/>
<path d="M382.1 187.4 L379.3 188.7 Q380.1 190.9 382.4 190.5 Z" fill="#3d9460" stroke="#3d9460" stroke-width="1.1" stroke-linejoin="round"/>
<line x1="378.2" y1="180.6" x2="375.5" y2="182.2" stroke="#3d9460" stroke-width="1.0"/>
<path d="M376.4 181.7 L373.3 181.4 Q372.9 183.7 375.1 184.5 Z" fill="#3d9460" stroke="#3d9460" stroke-width="1.1" stroke-linejoin="round"/>
<line x1="376.4" y1="173.8" x2="373.3" y2="173.8" stroke="#3d9460" stroke-width="1.0"/>
<path d="M374.3 173.8 L371.7 172 Q370.3 173.8 371.7 175.6 Z" fill="#3d9460" stroke="#3d9460" stroke-width="1.1" stroke-linejoin="round"/>
<line x1="378.2" y1="167" x2="375.5" y2="165.4" stroke="#3d9460" stroke-width="1.0"/>
<path d="M376.4 165.9 L375.1 163.1 Q372.9 163.9 373.3 166.2 Z" fill="#3d9460" stroke="#3d9460" stroke-width="1.1" stroke-linejoin="round"/>
<line x1="383.2" y1="162" x2="381.6" y2="159.3" stroke="#3d9460" stroke-width="1.0"/>
<path d="M382.1 160.2 L382.4 157.1 Q380.1 156.7 379.3 158.9 Z" fill="#3d9460" stroke="#3d9460" stroke-width="1.1" stroke-linejoin="round"/>
<circle cx="390" cy="173.8" r="13.6" fill="#def3f6" stroke="#857565" stroke-width="1.1"/>
<path d="M393.8 182 394.4 182.1 395 182 395.5 181.8 396 181.6 396.4 181.2 396.7 180.7 396.9 180.1 397 179.5 397 178.9 396.8 178.2 396.5 177.6 396.1 177 395.6 176.4 394.9 175.9 394.2 175.6 393.4 175.3 392.6 175.1 391.8 175.1 390.9 175.2 390.1 175.4 389.3 175.7 388.6 176.1 387.9 176.6 387.4 177.1 386.9 177.8 386.5 178.4 386.3 179.1 386.2 179.7 386.1 180.4 386.2 181 386.3 181.5 386.6 182 386.9 182.3 387.2 182.6 387.6 182.8 388 182.9 388.4 182.9 388.8 182.8 389.1 182.6 389.4 182.3 389.7 181.9 389.9 181.5 390 181 390.1 180.4 390 179.8 389.9 179.2 389.7 178.6 389.4 178 389 177.4 388.5 176.9 388 176.4 387.4 176 386.7 175.6 386.1 175.3 385.3 175.1 384.6 174.9 383.9 174.9 383.2 175 382.6 175.1 382 175.4 381.4 175.7 381 176 380.6 176.5 380.4 176.9 380.3 177.4 380.3 177.9 380.4 178.3 380.6 178.7 380.9 179.1 381.4 179.4 381.9 179.5 382.5 179.6 383.1 179.6 383.8 179.4 384.4 179.1 385.1 178.7 385.7 178.2 386.3 177.6 386.8 176.9 387.2 176 387.4 175.2 387.6 174.3 387.7 173.4 387.6 172.5 387.4 171.6 387.1 170.8 386.7 170 386.2 169.4 385.7 168.9 385.1 168.4 384.5 168.1 383.9 168 383.3 167.9 382.7 168 382.2 168.2 381.8 168.4 381.5 168.8 381.2 169.2 381.1 169.7 381.1 170.2 381.2 170.7 381.4 171.2 381.7 171.7 382.2 172.1 382.7 172.5 383.2 172.8 383.9 173 384.5 173.1 385.2 173.1 385.9 173.1 386.6 172.9 387.3 172.7 388 172.3 388.6 171.9 389.1 171.5 389.6 170.9 389.9 170.4 390.2 169.8 390.5 169.2 390.6 168.6 390.6 167.9 390.6 167.4 390.5 166.8 390.3 166.3 390 165.9 389.7 165.6 389.3 165.3 388.9 165.1 388.5 165 388 165.1 387.6 165.2 387.2 165.4 386.9 165.7 386.6 166.1 386.4 166.6 386.3 167.1 386.3 167.7 386.4 168.3 386.6 168.9 387 169.5 387.4 170.1 387.9 170.7 388.6 171.1 389.3 171.5 390.1 171.8 390.9 172 391.8 172.1 392.7 172.1 393.6 171.9 394.4 171.7 395.2 171.3 395.8 170.8 396.4 170.3 396.9 169.7 397.3 169 397.5 168.4 397.6 167.7 397.6 167.1 397.5 166.5 397.2 166 396.9 165.6 396.4 165.3 395.9 165.1 395.4 165 394.9 165.1 394.3 165.3 393.8 165.6 393.3 166.1 392.9 166.6 392.6 167.2 392.3 167.9 392.2 168.7 392.1 169.5 392.2 170.3 392.4 171.1 392.6 171.8 393 172.6 393.4 173.2 393.9 173.8 394.4 174.4 395 174.8 395.6 175.2 396.3 175.4 396.9 175.6 397.4 175.6 398 175.6 398.5 175.5 398.9 175.3 399.2 175.1 399.5 174.8 399.7 174.5 399.8 174.2 399.7 173.8 399.6 173.5 399.4 173.1 399.1 172.8 398.8 172.5 398.3 172.3 397.8 172.2 397.2 172.1 396.6 172.1 395.9 172.2 395.3 172.4 394.6 172.7 394 173.1 393.4 173.5 392.8 174.1 392.3 174.7 391.9 175.4 391.6 176.1 391.4 176.9 391.3 177.6 391.3 178.4 391.4 179.1 391.6 179.8 391.9 180.4 392.3 181 392.8 181.4 393.3 181.8 393.8 182" fill="none" stroke="#2b8d98" stroke-width="0.9" stroke-linejoin="round"/>
<g transform="translate(381.6 191.2) rotate(38)">
<line x1="0" y1="-0.5" x2="0" y2="13" stroke="#2b4a80" stroke-width="1.2"/>
<path d="M-3.9 -6.4 L-1.2 -4.6 L0 -2.9 L1.2 -4.6 L3.9 -6.4 C4 -2.4 2.2 0.3 0 0.3 C-2.2 0.3 -4 -2.4 -3.9 -6.4Z" fill="#356aae"/>
</g>
<path d="M485 258.5 C474 260.5 469 252 470.5 244 C472.5 231 483 221.5 498 221.5 C513 221.5 523.5 231 525.5 244 C527 252 522 260.5 511 258.5 Q498 237 485 258.5 Z" fill="#fdfdf6"/>
<path d="M485.5 257 Q498 238.4 510.5 257" fill="none" stroke="#b1bccb" stroke-width="2.6"/>
<path d="M485 258.5 C474 260.5 469 252 470.5 244 C472.5 231 483 221.5 498 221.5 C513 221.5 523.5 231 525.5 244 C527 252 522 260.5 511 258.5" fill="none" stroke="#b1bccb" stroke-width="10.4" stroke-linecap="round"/>
<path d="M485 258.5 C474 260.5 469 252 470.5 244 C472.5 231 483 221.5 498 221.5 C513 221.5 523.5 231 525.5 244 C527 252 522 260.5 511 258.5" fill="none" stroke="#dbe6f4" stroke-width="5" stroke-linecap="round"/>
<line x1="485.6" y1="252.6" x2="484.1" y2="247.8" stroke="#3d9460" stroke-width="1.3"/>
<path d="M484.4 248.8 L485.9 244.3 Q482.5 243.2 480.4 246.1 Z" fill="#3d9460" stroke="#3d9460" stroke-width="1.1" stroke-linejoin="round"/>
<line x1="492.8" y1="248.8" x2="491.6" y2="243.9" stroke="#3d9460" stroke-width="1.3"/>
<path d="M491.8 244.9 L493.7 240.5 Q490.4 239.2 488.1 241.9 Z" fill="#3d9460" stroke="#3d9460" stroke-width="1.1" stroke-linejoin="round"/>
<line x1="500.8" y1="248.2" x2="501.1" y2="243.2" stroke="#3d9460" stroke-width="1.3"/>
<path d="M501.1 244.2 L504.2 240.6 Q501.5 238.3 498.5 240.2 Z" fill="#3d9460" stroke="#3d9460" stroke-width="1.1" stroke-linejoin="round"/>
<line x1="508.4" y1="252.4" x2="510.3" y2="247.8" stroke="#3d9460" stroke-width="1.3"/>
<path d="M509.9 248.7 L514 246.3 Q512.1 243.2 508.6 244.1 Z" fill="#3d9460" stroke="#3d9460" stroke-width="1.1" stroke-linejoin="round"/>
<circle cx="497.4" cy="269.2" r="8.8" fill="#d6f4f0" opacity="0.8" filter="url(#soft2)"/>
<path d="M503.3 275.8 503.8 275.6 504.2 275.4 504.6 275.1 504.8 274.6 505 274.1 505.1 273.6 505 273 504.8 272.5 504.5 271.9 504.1 271.3 503.6 270.9 503 270.5 502.4 270.1 501.6 269.9 500.8 269.8 500 269.8 499.2 269.9 498.5 270.1 497.7 270.5 497.1 270.9 496.5 271.4 496 272 495.6 272.6 495.3 273.3 495.1 273.9 495 274.6 495 275.2 495.1 275.8 495.3 276.3 495.6 276.8 495.9 277.1 496.3 277.4 496.7 277.6 497.1 277.6 497.5 277.6 497.9 277.5 498.3 277.3 498.5 277 498.8 276.7 499 276.3 499 275.8 499.1 275.3 499 274.8 498.8 274.3 498.6 273.7 498.3 273.3 497.9 272.8 497.4 272.4 496.9 272 496.3 271.7 495.7 271.4 495 271.2 494.3 271.1 493.7 271.1 493 271.2 492.4 271.3 491.8 271.5 491.2 271.8 490.8 272.1 490.4 272.5 490 273 489.8 273.4 489.7 273.9 489.7 274.3 489.7 274.7 489.9 275.1 490.2 275.4 490.5 275.7 490.9 275.8 491.4 275.9 491.9 275.9 492.4 275.7 492.9 275.5 493.5 275.1 493.9 274.6 494.4 274 494.7 273.4 495 272.6 495.1 271.8 495.2 271 495.2 270.2 495 269.3 494.8 268.5 494.4 267.8 493.9 267.1 493.4 266.5 492.8 266 492.2 265.6 491.6 265.3 490.9 265.2 490.3 265.1 489.7 265.2 489.2 265.4 488.8 265.6 488.4 266 488.2 266.4 488.1 266.8 488 267.3 488.1 267.7 488.3 268.2 488.7 268.6 489.1 269 489.5 269.3 490.1 269.5 490.7 269.6 491.4 269.7 492 269.7 492.7 269.5 493.3 269.3 494 269 494.5 268.6 495.1 268.2 495.5 267.7 495.9 267.1 496.3 266.6 496.5 266 496.7 265.4 496.7 264.8 496.7 264.2 496.6 263.7 496.5 263.2 496.3 262.8 496 262.4 495.7 262.1 495.3 261.9 495 261.7 494.6 261.7 494.2 261.7 493.9 261.9 493.5 262.1 493.3 262.3 493.1 262.7 492.9 263.1 492.8 263.6 492.9 264.1 493 264.6 493.2 265.1 493.5 265.6 493.9 266.1 494.4 266.6 495 266.9 495.6 267.3 496.3 267.5 497.1 267.6 497.9 267.6 498.6 267.5 499.4 267.3 500.1 267 500.8 266.7 501.4 266.2 501.9 265.6 502.3 265 502.6 264.4 502.8 263.7 502.9 263.1 502.9 262.5 502.7 261.9 502.5 261.4 502.1 261 501.7 260.7 501.3 260.5 500.8 260.4 500.3 260.4 499.8 260.6 499.3 260.8 498.9 261.2 498.5 261.7 498.2 262.2 498.1 262.9 498 263.6 498 264.3 498.1 265 498.3 265.7 498.7 266.4 499.1 267 499.6 267.6 500.1 268.2 500.8 268.6 501.4 268.9 502.1 269.2 502.7 269.4 503.4 269.5 504 269.5 504.5 269.4 505.1 269.2 505.5 269 505.9 268.7 506.1 268.4 506.3 268.1 506.4 267.8 506.4 267.4 506.4 267.1 506.2 266.8 506 266.6 505.6 266.4 505.3 266.2 504.8 266.2 504.3 266.2 503.8 266.2 503.3 266.4 502.8 266.6 502.2 267 501.7 267.4 501.2 267.8 500.8 268.4 500.5 269 500.2 269.7 499.9 270.3 499.8 271.1 499.8 271.8 499.8 272.5 500 273.1 500.2 273.8 500.5 274.3 500.9 274.8 501.3 275.2 501.8 275.5 502.3 275.7 502.8 275.8 503.3 275.8" fill="none" stroke="#3f9496" stroke-width="1.1" stroke-linejoin="round"/>
<path d="M573.6 223.4 A21.3 21.3 0 1 1 605.8 245.6" fill="none" stroke="#e6c6eb" stroke-width="10.4" stroke-linecap="round"/>
<path d="M573.6 223.4 A21.3 21.3 0 1 1 605.8 245.6" fill="none" stroke="#f5e6f7" stroke-width="5.6" stroke-linecap="round"/>
<line x1="585.6" y1="226" x2="583.8" y2="221.5" stroke="#3d9460" stroke-width="1.3"/>
<path d="M584.2 222.5 L585.4 217.9 Q582 217 580.1 220 Z" fill="#3d9460" stroke="#3d9460" stroke-width="1.1" stroke-linejoin="round"/>
<line x1="593.4" y1="228.2" x2="591.6" y2="223.7" stroke="#3d9460" stroke-width="1.3"/>
<path d="M592 224.7 L593.2 220.1 Q589.8 219.2 587.9 222.2 Z" fill="#3d9460" stroke="#3d9460" stroke-width="1.1" stroke-linejoin="round"/>
<line x1="600" y1="234.4" x2="598.2" y2="229.9" stroke="#3d9460" stroke-width="1.3"/>
<path d="M598.6 230.9 L599.8 226.3 Q596.4 225.4 594.5 228.4 Z" fill="#3d9460" stroke="#3d9460" stroke-width="1.1" stroke-linejoin="round"/>
<path d="M-1.6 -1.6 L0 0.6 L1.6 -1.6 M0 0.6 V2.6" transform="translate(589.4 224.6) rotate(-20)" fill="none" stroke="#d98a7c" stroke-width="0.9"/>
<path d="M-1.6 -1.6 L0 0.6 L1.6 -1.6 M0 0.6 V2.6" transform="translate(597.6 229) rotate(-10)" fill="none" stroke="#d98a7c" stroke-width="0.9"/>
<path d="M-1.6 -1.6 L0 0.6 L1.6 -1.6 M0 0.6 V2.6" transform="translate(603.4 238) rotate(0)" fill="none" stroke="#d98a7c" stroke-width="0.9"/>
<path d="M-1.6 -1.6 L0 0.6 L1.6 -1.6 M0 0.6 V2.6" transform="translate(604.4 242.4) rotate(10)" fill="none" stroke="#d98a7c" stroke-width="0.9"/>
<circle cx="586" cy="241.2" r="8.8" fill="#d6f4f0" opacity="0.8" filter="url(#soft2)"/>
<path d="M581.5 246.1 581.2 246.7 581 247.4 581 248 581 248.6 581.2 249.2 581.5 249.7 581.8 250 582.2 250.3 582.6 250.5 583.1 250.5 583.6 250.4 584 250.3 584.4 250 584.8 249.6 585.1 249.1 585.3 248.5 585.4 247.9 585.5 247.3 585.4 246.6 585.3 245.9 585 245.2 584.7 244.6 584.3 244 583.8 243.4 583.3 243 582.7 242.5 582.1 242.2 581.5 241.9 580.9 241.8 580.3 241.7 579.8 241.7 579.2 241.7 578.8 241.9 578.3 242 578 242.3 577.7 242.6 577.5 242.9 577.4 243.2 577.4 243.5 577.5 243.9 577.6 244.2 577.9 244.5 578.2 244.7 578.6 244.9 579.1 245 579.6 245 580.1 244.9 580.7 244.8 581.3 244.6 581.8 244.2 582.4 243.8 582.9 243.3 583.3 242.7 583.7 242.1 584 241.4 584.2 240.7 584.3 239.9 584.2 239.1 584.1 238.4 583.9 237.7 583.6 237 583.2 236.5 582.8 236 582.2 235.6 581.7 235.3 581.1 235.1 580.5 235.1 580 235.1 579.5 235.3 579 235.6 578.6 236 578.4 236.4 578.2 236.9 578.1 237.5 578.2 238 578.4 238.6 578.7 239.1 579.1 239.6 579.6 240 580.2 240.3 580.8 240.6 581.5 240.7 582.3 240.7 583 240.7 583.8 240.5 584.5 240.2 585.1 239.8 585.7 239.3 586.2 238.8 586.7 238.2 587 237.6 587.3 236.9 587.4 236.3 587.5 235.6 587.5 235 587.4 234.5 587.2 234 586.9 233.5 586.7 233.2 586.3 232.9 586 232.7 585.6 232.6 585.3 232.6 584.9 232.6 584.6 232.8 584.4 233 584.1 233.3 584 233.7 583.9 234.1 583.9 234.6 584 235.1 584.2 235.6 584.4 236.1 584.7 236.6 585.1 237.1 585.6 237.5 586.2 237.9 586.8 238.2 587.4 238.5 588.1 238.7 588.8 238.8 589.5 238.8 590.3 238.8 590.9 238.6 591.6 238.4 592.1 238.1 592.6 237.7 593.1 237.3 593.4 236.8 593.6 236.3 593.7 235.8 593.7 235.3 593.6 234.9 593.4 234.5 593 234.1 592.6 233.9 592.2 233.7 591.6 233.7 591.1 233.8 590.5 234 589.9 234.3 589.4 234.7 588.9 235.2 588.5 235.9 588.1 236.6 587.9 237.3 587.8 238.2 587.7 239 587.8 239.8 588 240.6 588.3 241.4 588.7 242.1 589.1 242.8 589.7 243.3 590.3 243.8 590.9 244.1 591.5 244.3 592.1 244.4 592.7 244.4 593.2 244.3 593.7 244.1 594.1 243.9 594.4 243.5 594.6 243.2 594.7 242.8 594.7 242.3 594.6 241.9 594.4 241.5 594.1 241.2 593.7 240.8 593.3 240.6 592.8 240.4 592.3 240.3 591.7 240.2 591.1 240.3 590.5 240.4 589.9 240.6 589.4 240.9 588.8 241.3 588.4 241.7 587.9 242.2 587.6 242.8 587.3 243.3 587.1 244 586.9 244.6 586.9 245.2 586.9 245.8 587 246.4 587.2 246.9 587.5 247.4 587.8 247.8 588.1 248.2 588.5 248.4 589 248.6 589.4 248.7 589.8 248.7 590.2 248.6 590.6 248.4 590.9 248.1 591.2 247.7 591.4 247.3 591.4 246.8 591.4 246.3 591.3 245.8 591 245.3 590.7 244.7 590.2 244.3 589.7 243.8 589.1 243.5 588.4 243.2 587.6 243 586.8 243 586 243 585.2 243.2 584.4 243.4 583.6 243.8 582.9 244.3 582.3 244.8 581.8 245.4 581.5 246.1" fill="none" stroke="#3f9496" stroke-width="1.1" stroke-linejoin="round"/>
<line x1="625" y1="271.2" x2="627.1" y2="276.2" stroke="#3d9460" stroke-width="1.3"/>
<path d="M626.7 275.3 L625.5 279.9 Q629 280.7 630.9 277.6 Z" fill="#3d9460" stroke="#3d9460" stroke-width="1.1" stroke-linejoin="round"/>
<line x1="636.4" y1="267.2" x2="638.5" y2="272.2" stroke="#3d9460" stroke-width="1.3"/>
<path d="M638.1 271.3 L636.9 275.9 Q640.4 276.7 642.3 273.6 Z" fill="#3d9460" stroke="#3d9460" stroke-width="1.1" stroke-linejoin="round"/>
<line x1="648.5" y1="262.8" x2="650.6" y2="267.8" stroke="#3d9460" stroke-width="1.3"/>
<path d="M650.2 266.9 L649 271.5 Q652.5 272.3 654.4 269.2 Z" fill="#3d9460" stroke="#3d9460" stroke-width="1.1" stroke-linejoin="round"/>
<path d="M-2 -2.2 L0 0.6 L2 -2.2" transform="translate(632.4 272.6) rotate(-20)" fill="none" stroke="#d98a7c" stroke-width="1.1"/>
<path d="M-2 -2.2 L0 0.6 L2 -2.2" transform="translate(643.5 268.6) rotate(-20)" fill="none" stroke="#d98a7c" stroke-width="1.1"/>
<path d="M-2 -2.2 L0 0.6 L2 -2.2" transform="translate(655.5 264.6) rotate(-20)" fill="none" stroke="#d98a7c" stroke-width="1.1"/>
<line x1="620.8" y1="275.6" x2="621.8" y2="280.4" stroke="#c4607a" stroke-width="1.4"/>
<circle cx="672.3" cy="170.2" r="28" fill="#fdfdf5" stroke="#e6c6eb" stroke-width="12"/>
<circle cx="672.3" cy="170.2" r="27.7" fill="none" stroke="#f5e6f7" stroke-width="6.4"/>
<line x1="673.2" y1="155.9" x2="673.2" y2="152.8" stroke="#3d9460" stroke-width="1.0"/>
<path d="M673.2 153.8 L675 151.2 Q673.2 149.8 671.4 151.2 Z" fill="#3d9460" stroke="#3d9460" stroke-width="1.1" stroke-linejoin="round"/>
<line x1="680" y1="157.7" x2="681.5" y2="155" stroke="#3d9460" stroke-width="1.0"/>
<path d="M681 155.9 L683.9 154.5 Q683 152.4 680.7 152.7 Z" fill="#3d9460" stroke="#3d9460" stroke-width="1.1" stroke-linejoin="round"/>
<line x1="684.9" y1="162.7" x2="687.6" y2="161.1" stroke="#3d9460" stroke-width="1.0"/>
<path d="M686.7 161.6 L689.9 161.9 Q690.2 159.6 688.1 158.7 Z" fill="#3d9460" stroke="#3d9460" stroke-width="1.1" stroke-linejoin="round"/>
<line x1="686.7" y1="169.4" x2="689.8" y2="169.4" stroke="#3d9460" stroke-width="1.0"/>
<path d="M688.8 169.4 L691.4 171.2 Q692.8 169.4 691.4 167.6 Z" fill="#3d9460" stroke="#3d9460" stroke-width="1.1" stroke-linejoin="round"/>
<line x1="684.9" y1="176.2" x2="687.6" y2="177.7" stroke="#3d9460" stroke-width="1.0"/>
<path d="M686.7 177.2 L688.1 180.1 Q690.2 179.2 689.9 176.9 Z" fill="#3d9460" stroke="#3d9460" stroke-width="1.1" stroke-linejoin="round"/>
<line x1="680" y1="181.1" x2="681.5" y2="183.8" stroke="#3d9460" stroke-width="1.0"/>
<path d="M681 182.9 L680.7 186.1 Q683 186.4 683.9 184.3 Z" fill="#3d9460" stroke="#3d9460" stroke-width="1.1" stroke-linejoin="round"/>
<line x1="673.2" y1="182.9" x2="673.2" y2="186" stroke="#3d9460" stroke-width="1.0"/>
<path d="M673.2 185 L671.4 187.6 Q673.2 189 675 187.6 Z" fill="#3d9460" stroke="#3d9460" stroke-width="1.1" stroke-linejoin="round"/>
<line x1="666.5" y1="181.1" x2="664.9" y2="183.8" stroke="#3d9460" stroke-width="1.0"/>
<path d="M665.4 182.9 L662.5 184.3 Q663.4 186.4 665.7 186.1 Z" fill="#3d9460" stroke="#3d9460" stroke-width="1.1" stroke-linejoin="round"/>
<line x1="661.5" y1="176.2" x2="658.8" y2="177.7" stroke="#3d9460" stroke-width="1.0"/>
<path d="M659.7 177.2 L656.5 176.9 Q656.2 179.2 658.3 180.1 Z" fill="#3d9460" stroke="#3d9460" stroke-width="1.1" stroke-linejoin="round"/>
<line x1="659.7" y1="169.4" x2="656.6" y2="169.4" stroke="#3d9460" stroke-width="1.0"/>
<path d="M657.6 169.4 L655 167.6 Q653.6 169.4 655 171.2 Z" fill="#3d9460" stroke="#3d9460" stroke-width="1.1" stroke-linejoin="round"/>
<line x1="661.5" y1="162.7" x2="658.8" y2="161.1" stroke="#3d9460" stroke-width="1.0"/>
<path d="M659.7 161.6 L658.3 158.7 Q656.2 159.6 656.5 161.9 Z" fill="#3d9460" stroke="#3d9460" stroke-width="1.1" stroke-linejoin="round"/>
<line x1="666.5" y1="157.7" x2="664.9" y2="155" stroke="#3d9460" stroke-width="1.0"/>
<path d="M665.4 155.9 L665.7 152.7 Q663.4 152.4 662.5 154.5 Z" fill="#3d9460" stroke="#3d9460" stroke-width="1.1" stroke-linejoin="round"/>
<circle cx="673.2" cy="169.4" r="13.5" fill="#def3f6" stroke="#857565" stroke-width="1.1"/>
<path d="M669.8 169.1 669.1 168.7 668.4 168.4 667.7 168.2 667 168.2 666.4 168.2 665.8 168.4 665.3 168.6 664.8 168.9 664.5 169.3 664.3 169.7 664.2 170.1 664.1 170.5 664.2 170.9 664.4 171.3 664.7 171.7 665 172 665.5 172.2 665.9 172.3 666.5 172.4 667 172.4 667.6 172.3 668.1 172.1 668.7 171.8 669.2 171.4 669.7 171 670.2 170.4 670.5 169.9 670.8 169.2 671.1 168.6 671.2 167.9 671.3 167.2 671.2 166.5 671.1 165.8 670.9 165.2 670.6 164.6 670.2 164 669.8 163.6 669.3 163.2 668.8 162.9 668.3 162.7 667.7 162.6 667.2 162.6 666.7 162.8 666.3 163 665.9 163.3 665.6 163.7 665.5 164.1 665.4 164.6 665.4 165.2 665.6 165.7 665.9 166.3 666.3 166.8 666.8 167.2 667.4 167.6 668.1 167.9 668.9 168 669.7 168.1 670.6 168 671.4 167.9 672.3 167.6 673.1 167.2 673.8 166.6 674.5 166 675.1 165.3 675.5 164.6 675.9 163.8 676.1 163.1 676.2 162.3 676.1 161.6 676 160.9 675.8 160.3 675.5 159.8 675.1 159.4 674.6 159.1 674.2 158.9 673.7 158.9 673.2 159 672.8 159.2 672.4 159.5 672.1 159.9 671.9 160.3 671.7 160.9 671.7 161.5 671.7 162.1 671.8 162.8 672.1 163.4 672.4 164.1 672.8 164.7 673.3 165.2 673.9 165.7 674.5 166.2 675.1 166.5 675.8 166.8 676.5 167 677.2 167.1 677.9 167.1 678.5 167.1 679.1 167 679.7 166.8 680.1 166.5 680.5 166.2 680.9 165.8 681.1 165.5 681.2 165.1 681.3 164.7 681.2 164.3 681 163.9 680.8 163.6 680.5 163.4 680.1 163.2 679.6 163.1 679.1 163.1 678.5 163.2 678 163.4 677.4 163.7 676.8 164.1 676.3 164.6 675.9 165.2 675.5 165.9 675.2 166.6 675 167.4 674.9 168.3 674.9 169.1 675 169.9 675.3 170.7 675.6 171.5 676.1 172.2 676.6 172.8 677.3 173.3 677.9 173.7 678.6 173.9 679.3 174 680 174 680.6 173.9 681.2 173.7 681.7 173.3 682.1 172.9 682.4 172.4 682.5 171.9 682.6 171.3 682.5 170.8 682.3 170.2 681.9 169.8 681.5 169.3 681 169 680.3 168.7 679.7 168.5 679 168.5 678.2 168.6 677.5 168.8 676.8 169.1 676.1 169.5 675.5 170 675 170.5 674.5 171.2 674.1 171.9 673.9 172.6 673.7 173.3 673.6 174 673.6 174.7 673.7 175.4 673.9 176 674.2 176.6 674.5 177.1 674.8 177.5 675.2 177.8 675.6 178 676 178.1 676.4 178.2 676.8 178.1 677.1 178 677.4 177.7 677.6 177.5 677.8 177.1 677.8 176.7 677.8 176.2 677.7 175.8 677.5 175.3 677.2 174.8 676.8 174.3 676.3 173.9 675.8 173.5 675.1 173.1 674.4 172.8 673.7 172.7 672.9 172.5 672.1 172.5 671.3 172.6 670.5 172.8 669.8 173.1 669.1 173.5 668.5 173.9 668 174.4 667.5 175 667.2 175.6 667 176.2 666.9 176.8 667 177.4 667.1 177.9 667.4 178.3 667.7 178.7 668.2 179 668.7 179.1 669.2 179.1 669.8 179 670.4 178.8 670.9 178.4 671.4 177.9 671.9 177.3 672.2 176.6 672.5 175.9 672.6 175.1 672.6 174.2 672.5 173.3 672.3 172.5 672 171.6 671.6 170.9 671 170.2 670.4 169.6 669.8 169.1" fill="none" stroke="#2b8d98" stroke-width="0.9" stroke-linejoin="round"/>
<line x1="645.6" y1="55.9" x2="645.6" y2="53" stroke="#3d9460" stroke-width="0.8"/>
<path d="M645.6 54 L647 52 Q645.6 50.9 644.2 52 Z" fill="#3d9460" stroke="#3d9460" stroke-width="0.6" stroke-linejoin="round"/>
<line x1="650.2" y1="57.1" x2="651.7" y2="54.6" stroke="#3d9460" stroke-width="0.8"/>
<path d="M651.2 55.5 L653.4 54.4 Q652.8 52.8 651 53.1 Z" fill="#3d9460" stroke="#3d9460" stroke-width="0.6" stroke-linejoin="round"/>
<line x1="653.7" y1="60.6" x2="656.2" y2="59.1" stroke="#3d9460" stroke-width="0.8"/>
<path d="M655.3 59.6 L657.7 59.8 Q658 58.1 656.4 57.4 Z" fill="#3d9460" stroke="#3d9460" stroke-width="0.6" stroke-linejoin="round"/>
<line x1="654.9" y1="65.2" x2="657.8" y2="65.2" stroke="#3d9460" stroke-width="0.8"/>
<path d="M656.8 65.2 L658.8 66.5 Q659.9 65.2 658.8 63.9 Z" fill="#3d9460" stroke="#3d9460" stroke-width="0.6" stroke-linejoin="round"/>
<line x1="653.7" y1="69.8" x2="656.2" y2="71.3" stroke="#3d9460" stroke-width="0.8"/>
<path d="M655.3 70.8 L656.4 73 Q658 72.3 657.7 70.6 Z" fill="#3d9460" stroke="#3d9460" stroke-width="0.6" stroke-linejoin="round"/>
<line x1="650.2" y1="73.3" x2="651.7" y2="75.8" stroke="#3d9460" stroke-width="0.8"/>
<path d="M651.2 74.9 L651 77.3 Q652.8 77.6 653.4 76 Z" fill="#3d9460" stroke="#3d9460" stroke-width="0.6" stroke-linejoin="round"/>
<line x1="645.6" y1="74.5" x2="645.6" y2="77.4" stroke="#3d9460" stroke-width="0.8"/>
<path d="M645.6 76.4 L644.2 78.4 Q645.6 79.5 647 78.4 Z" fill="#3d9460" stroke="#3d9460" stroke-width="0.6" stroke-linejoin="round"/>
<line x1="641" y1="73.3" x2="639.5" y2="75.8" stroke="#3d9460" stroke-width="0.8"/>
<path d="M640 74.9 L637.8 76 Q638.5 77.6 640.2 77.3 Z" fill="#3d9460" stroke="#3d9460" stroke-width="0.6" stroke-linejoin="round"/>
<line x1="637.5" y1="69.9" x2="635" y2="71.3" stroke="#3d9460" stroke-width="0.8"/>
<path d="M635.9 70.8 L633.5 70.6 Q633.2 72.4 634.8 73 Z" fill="#3d9460" stroke="#3d9460" stroke-width="0.6" stroke-linejoin="round"/>
<line x1="636.3" y1="65.2" x2="633.4" y2="65.2" stroke="#3d9460" stroke-width="0.8"/>
<path d="M634.4 65.2 L632.4 63.9 Q631.3 65.2 632.4 66.5 Z" fill="#3d9460" stroke="#3d9460" stroke-width="0.6" stroke-linejoin="round"/>
<line x1="637.5" y1="60.6" x2="635" y2="59.1" stroke="#3d9460" stroke-width="0.8"/>
<path d="M635.9 59.6 L634.8 57.4 Q633.2 58.1 633.5 59.8 Z" fill="#3d9460" stroke="#3d9460" stroke-width="0.6" stroke-linejoin="round"/>
<line x1="641" y1="57.1" x2="639.5" y2="54.6" stroke="#3d9460" stroke-width="0.8"/>
<path d="M640 55.5 L640.2 53.1 Q638.5 52.8 637.8 54.4 Z" fill="#3d9460" stroke="#3d9460" stroke-width="0.6" stroke-linejoin="round"/>
<circle cx="645.6" cy="65.2" r="9.3" fill="#def3f6" stroke="#7d8476" stroke-width="0.9"/>
<path d="M652.5 67.1 652.6 66.8 652.7 66.5 652.6 66.2 652.5 65.8 652.3 65.5 652 65.2 651.6 64.9 651.2 64.7 650.7 64.6 650.2 64.5 649.6 64.5 649.1 64.6 648.5 64.7 647.9 65 647.4 65.3 646.9 65.7 646.5 66.2 646.2 66.7 645.9 67.2 645.7 67.8 645.6 68.3 645.6 68.9 645.6 69.4 645.8 69.9 646 70.3 646.3 70.6 646.6 70.9 646.9 71.1 647.2 71.2 647.6 71.3 647.9 71.2 648.3 71.1 648.5 70.9 648.8 70.7 648.9 70.4 649 70 649.1 69.7 649.1 69.3 649 68.9 648.8 68.5 648.6 68.1 648.3 67.8 647.9 67.5 647.5 67.2 647.1 67 646.6 66.9 646.1 66.8 645.7 66.8 645.2 66.8 644.7 66.9 644.3 67.1 643.8 67.3 643.5 67.5 643.1 67.8 642.8 68.1 642.6 68.5 642.4 68.8 642.3 69.2 642.3 69.5 642.3 69.9 642.3 70.2 642.5 70.5 642.6 70.7 642.9 70.9 643.1 71.1 643.4 71.1 643.7 71.1 644 71 644.3 70.9 644.6 70.6 644.8 70.3 645 70 645.2 69.5 645.2 69.1 645.3 68.6 645.2 68 645.1 67.5 644.8 67 644.5 66.5 644.2 66 643.7 65.6 643.3 65.2 642.7 64.9 642.2 64.7 641.6 64.5 641 64.5 640.5 64.5 640 64.6 639.5 64.8 639.1 65 638.8 65.3 638.5 65.6 638.3 66 638.3 66.4 638.3 66.7 638.4 67.1 638.6 67.4 638.8 67.6 639.2 67.8 639.5 68 640 68 640.4 68 640.9 67.9 641.4 67.7 641.8 67.4 642.2 67.1 642.6 66.7 642.9 66.3 643.2 65.8 643.4 65.3 643.5 64.7 643.6 64.2 643.6 63.7 643.6 63.1 643.5 62.7 643.3 62.2 643.1 61.8 642.9 61.5 642.6 61.2 642.3 61 642 60.9 641.7 60.8 641.4 60.8 641.2 60.8 640.9 60.9 640.7 61.1 640.6 61.3 640.5 61.5 640.4 61.8 640.5 62.1 640.5 62.4 640.7 62.7 640.9 63 641.1 63.3 641.5 63.6 641.8 63.8 642.3 64 642.7 64.1 643.2 64.2 643.7 64.2 644.3 64.1 644.8 64 645.3 63.8 645.8 63.6 646.2 63.2 646.6 62.9 646.9 62.5 647.1 62 647.3 61.5 647.4 61.1 647.4 60.6 647.4 60.1 647.2 59.7 647 59.3 646.7 59 646.4 58.8 646.1 58.6 645.7 58.5 645.3 58.6 644.9 58.7 644.6 58.8 644.3 59.1 644 59.5 643.8 59.9 643.7 60.3 643.7 60.8 643.7 61.3 643.9 61.8 644.1 62.3 644.4 62.7 644.8 63.2 645.2 63.5 645.7 63.9 646.2 64.1 646.8 64.3 647.4 64.3 647.9 64.4 648.5 64.3 649 64.2 649.5 64 649.9 63.7 650.3 63.4 650.6 63.1 650.8 62.8 651 62.4 651.1 62.1 651.1 61.7 651 61.4 650.9 61.2 650.8 61 650.6 60.8 650.3 60.7 650 60.7 649.8 60.7 649.5 60.8 649.2 60.9 648.9 61.2 648.6 61.4 648.4 61.8 648.2 62.2 648 62.6 647.9 63 647.9 63.5 647.9 64 647.9 64.5 648 65 648.2 65.5 648.4 66 648.7 66.4 649 66.8 649.4 67.1 649.8 67.4 650.2 67.6 650.6 67.7 651 67.8 651.4 67.8 651.7 67.7 652 67.6 652.3 67.4 652.5 67.1" fill="none" stroke="#2b8d98" stroke-width="0.7" stroke-linejoin="round"/>
<line x1="680" y1="51.5" x2="680" y2="48.6" stroke="#3d9460" stroke-width="0.8"/>
<path d="M680 49.6 L681.4 47.6 Q680 46.5 678.6 47.6 Z" fill="#3d9460" stroke="#3d9460" stroke-width="0.6" stroke-linejoin="round"/>
<line x1="684.6" y1="52.7" x2="686.1" y2="50.2" stroke="#3d9460" stroke-width="0.8"/>
<path d="M685.6 51.1 L687.8 50 Q687.1 48.4 685.4 48.7 Z" fill="#3d9460" stroke="#3d9460" stroke-width="0.6" stroke-linejoin="round"/>
<line x1="688.1" y1="56.1" x2="690.6" y2="54.7" stroke="#3d9460" stroke-width="0.8"/>
<path d="M689.7 55.2 L692.1 55.4 Q692.4 53.6 690.8 53 Z" fill="#3d9460" stroke="#3d9460" stroke-width="0.6" stroke-linejoin="round"/>
<line x1="689.3" y1="60.8" x2="692.2" y2="60.8" stroke="#3d9460" stroke-width="0.8"/>
<path d="M691.2 60.8 L693.2 62.1 Q694.3 60.8 693.2 59.4 Z" fill="#3d9460" stroke="#3d9460" stroke-width="0.6" stroke-linejoin="round"/>
<line x1="688.1" y1="65.4" x2="690.6" y2="66.9" stroke="#3d9460" stroke-width="0.8"/>
<path d="M689.7 66.4 L690.8 68.6 Q692.4 67.9 692.1 66.2 Z" fill="#3d9460" stroke="#3d9460" stroke-width="0.6" stroke-linejoin="round"/>
<line x1="684.6" y1="68.9" x2="686.1" y2="71.4" stroke="#3d9460" stroke-width="0.8"/>
<path d="M685.6 70.5 L685.4 72.9 Q687.1 73.2 687.8 71.6 Z" fill="#3d9460" stroke="#3d9460" stroke-width="0.6" stroke-linejoin="round"/>
<line x1="680" y1="70.1" x2="680" y2="73" stroke="#3d9460" stroke-width="0.8"/>
<path d="M680 72 L678.6 74 Q680 75.1 681.4 74 Z" fill="#3d9460" stroke="#3d9460" stroke-width="0.6" stroke-linejoin="round"/>
<line x1="675.4" y1="68.9" x2="673.9" y2="71.4" stroke="#3d9460" stroke-width="0.8"/>
<path d="M674.4 70.5 L672.2 71.6 Q672.9 73.2 674.6 72.9 Z" fill="#3d9460" stroke="#3d9460" stroke-width="0.6" stroke-linejoin="round"/>
<line x1="671.9" y1="65.5" x2="669.4" y2="66.9" stroke="#3d9460" stroke-width="0.8"/>
<path d="M670.3 66.4 L667.9 66.2 Q667.6 68 669.2 68.6 Z" fill="#3d9460" stroke="#3d9460" stroke-width="0.6" stroke-linejoin="round"/>
<line x1="670.7" y1="60.8" x2="667.8" y2="60.8" stroke="#3d9460" stroke-width="0.8"/>
<path d="M668.8 60.8 L666.8 59.4 Q665.7 60.8 666.8 62.1 Z" fill="#3d9460" stroke="#3d9460" stroke-width="0.6" stroke-linejoin="round"/>
<line x1="671.9" y1="56.1" x2="669.4" y2="54.7" stroke="#3d9460" stroke-width="0.8"/>
<path d="M670.3 55.2 L669.2 53 Q667.6 53.6 667.9 55.4 Z" fill="#3d9460" stroke="#3d9460" stroke-width="0.6" stroke-linejoin="round"/>
<line x1="675.4" y1="52.7" x2="673.9" y2="50.2" stroke="#3d9460" stroke-width="0.8"/>
<path d="M674.4 51.1 L674.6 48.7 Q672.9 48.4 672.2 50 Z" fill="#3d9460" stroke="#3d9460" stroke-width="0.6" stroke-linejoin="round"/>
<circle cx="680" cy="60.8" r="9.3" fill="#def3f6" stroke="#7d8476" stroke-width="0.9"/>
<path d="M678.6 66 678.7 66.5 679 66.9 679.3 67.2 679.6 67.4 680 67.6 680.4 67.7 680.8 67.7 681.1 67.6 681.5 67.4 681.7 67.1 682 66.8 682.1 66.4 682.2 66 682.2 65.5 682.1 65.1 681.9 64.6 681.6 64.2 681.3 63.7 680.9 63.4 680.5 63.1 680 62.8 679.4 62.6 678.9 62.5 678.4 62.4 677.8 62.4 677.3 62.5 676.8 62.6 676.3 62.8 675.9 63 675.6 63.3 675.3 63.6 675.1 63.9 674.9 64.2 674.8 64.5 674.8 64.8 674.8 65.1 674.9 65.3 675.1 65.5 675.3 65.6 675.5 65.7 675.7 65.8 676 65.7 676.3 65.7 676.6 65.5 676.9 65.3 677.2 65 677.5 64.7 677.7 64.3 677.9 63.8 678 63.4 678.1 62.9 678.1 62.3 678 61.8 677.9 61.3 677.7 60.8 677.5 60.3 677.2 59.8 676.9 59.4 676.5 59.1 676.1 58.8 675.6 58.6 675.2 58.5 674.7 58.5 674.3 58.5 674 58.6 673.6 58.8 673.4 59.1 673.2 59.4 673 59.7 673 60.1 673.1 60.4 673.2 60.8 673.5 61.2 673.8 61.5 674.2 61.7 674.6 61.9 675.1 62.1 675.6 62.1 676.2 62.1 676.8 62 677.3 61.8 677.8 61.5 678.3 61.1 678.7 60.7 679.1 60.3 679.4 59.7 679.6 59.2 679.7 58.7 679.8 58.1 679.8 57.6 679.7 57.1 679.5 56.6 679.3 56.2 679 55.9 678.7 55.6 678.4 55.4 678 55.3 677.7 55.3 677.4 55.3 677.1 55.4 676.8 55.5 676.6 55.8 676.5 56 676.4 56.3 676.3 56.6 676.3 56.9 676.4 57.3 676.6 57.6 676.8 57.9 677.1 58.2 677.4 58.4 677.8 58.6 678.2 58.8 678.6 58.9 679.1 59 679.6 59 680.1 58.9 680.6 58.8 681 58.7 681.5 58.4 681.9 58.2 682.2 57.8 682.6 57.5 682.8 57.1 683 56.7 683.1 56.3 683.2 55.9 683.2 55.5 683.1 55.1 683 54.8 682.8 54.5 682.5 54.3 682.3 54.2 681.9 54.1 681.6 54.1 681.3 54.2 681 54.4 680.7 54.7 680.4 55 680.2 55.4 680.1 55.9 680 56.4 680 57 680.1 57.5 680.3 58.1 680.6 58.6 680.9 59.2 681.3 59.6 681.8 60.1 682.3 60.4 682.8 60.7 683.4 60.9 684 61 684.5 61 685 61 685.5 60.9 686 60.7 686.3 60.4 686.6 60.1 686.8 59.8 687 59.5 687 59.1 687 58.8 686.8 58.5 686.6 58.2 686.3 58 686 57.9 685.6 57.8 685.2 57.7 684.8 57.8 684.4 57.9 684 58.1 683.6 58.4 683.2 58.7 682.8 59.1 682.5 59.5 682.3 59.9 682.1 60.4 682 60.9 681.9 61.4 681.9 61.9 681.9 62.4 682.1 62.8 682.2 63.2 682.4 63.6 682.6 63.9 682.9 64.2 683.2 64.4 683.5 64.6 683.8 64.7 684.1 64.7 684.4 64.7 684.7 64.6 684.9 64.4 685.1 64.2 685.2 64 685.3 63.7 685.3 63.4 685.3 63.1 685.2 62.7 685 62.4 684.7 62.1 684.4 61.8 684 61.6 683.6 61.4 683.1 61.3 682.6 61.2 682 61.3 681.5 61.4 680.9 61.5 680.4 61.8 680 62.1 679.5 62.5 679.2 62.9 678.9 63.4 678.6 63.9 678.5 64.5 678.4 65 678.5 65.5 678.6 66" fill="none" stroke="#2b8d98" stroke-width="0.7" stroke-linejoin="round"/>
<line x1="658" y1="86.7" x2="658" y2="83.8" stroke="#3d9460" stroke-width="0.8"/>
<path d="M658 84.8 L659.4 82.8 Q658 81.7 656.6 82.8 Z" fill="#3d9460" stroke="#3d9460" stroke-width="0.6" stroke-linejoin="round"/>
<line x1="662.6" y1="87.9" x2="664.1" y2="85.4" stroke="#3d9460" stroke-width="0.8"/>
<path d="M663.6 86.3 L665.8 85.2 Q665.1 83.6 663.4 83.9 Z" fill="#3d9460" stroke="#3d9460" stroke-width="0.6" stroke-linejoin="round"/>
<line x1="666.1" y1="91.3" x2="668.6" y2="89.9" stroke="#3d9460" stroke-width="0.8"/>
<path d="M667.7 90.4 L670.1 90.6 Q670.4 88.8 668.8 88.2 Z" fill="#3d9460" stroke="#3d9460" stroke-width="0.6" stroke-linejoin="round"/>
<line x1="667.3" y1="96" x2="670.2" y2="96" stroke="#3d9460" stroke-width="0.8"/>
<path d="M669.2 96 L671.2 97.3 Q672.3 96 671.2 94.7 Z" fill="#3d9460" stroke="#3d9460" stroke-width="0.6" stroke-linejoin="round"/>
<line x1="666.1" y1="100.7" x2="668.6" y2="102.1" stroke="#3d9460" stroke-width="0.8"/>
<path d="M667.7 101.6 L668.8 103.8 Q670.4 103.2 670.1 101.4 Z" fill="#3d9460" stroke="#3d9460" stroke-width="0.6" stroke-linejoin="round"/>
<line x1="662.6" y1="104.1" x2="664.1" y2="106.6" stroke="#3d9460" stroke-width="0.8"/>
<path d="M663.6 105.7 L663.4 108.1 Q665.1 108.4 665.8 106.8 Z" fill="#3d9460" stroke="#3d9460" stroke-width="0.6" stroke-linejoin="round"/>
<line x1="658" y1="105.3" x2="658" y2="108.2" stroke="#3d9460" stroke-width="0.8"/>
<path d="M658 107.2 L656.6 109.2 Q658 110.3 659.4 109.2 Z" fill="#3d9460" stroke="#3d9460" stroke-width="0.6" stroke-linejoin="round"/>
<line x1="653.4" y1="104.1" x2="651.9" y2="106.6" stroke="#3d9460" stroke-width="0.8"/>
<path d="M652.4 105.7 L650.2 106.8 Q650.9 108.4 652.6 108.1 Z" fill="#3d9460" stroke="#3d9460" stroke-width="0.6" stroke-linejoin="round"/>
<line x1="649.9" y1="100.7" x2="647.4" y2="102.1" stroke="#3d9460" stroke-width="0.8"/>
<path d="M648.3 101.6 L645.9 101.4 Q645.6 103.2 647.2 103.8 Z" fill="#3d9460" stroke="#3d9460" stroke-width="0.6" stroke-linejoin="round"/>
<line x1="648.7" y1="96" x2="645.8" y2="96" stroke="#3d9460" stroke-width="0.8"/>
<path d="M646.8 96 L644.8 94.7 Q643.7 96 644.8 97.3 Z" fill="#3d9460" stroke="#3d9460" stroke-width="0.6" stroke-linejoin="round"/>
<line x1="649.9" y1="91.3" x2="647.4" y2="89.9" stroke="#3d9460" stroke-width="0.8"/>
<path d="M648.3 90.4 L647.2 88.2 Q645.6 88.8 645.9 90.6 Z" fill="#3d9460" stroke="#3d9460" stroke-width="0.6" stroke-linejoin="round"/>
<line x1="653.4" y1="87.9" x2="651.9" y2="85.4" stroke="#3d9460" stroke-width="0.8"/>
<path d="M652.4 86.3 L652.6 83.9 Q650.9 83.6 650.2 85.2 Z" fill="#3d9460" stroke="#3d9460" stroke-width="0.6" stroke-linejoin="round"/>
<circle cx="658" cy="96" r="9.3" fill="#def3f6" stroke="#7d8476" stroke-width="0.9"/>
<path d="M654.4 97 653.9 97.2 653.4 97.3 653 97.6 652.6 97.9 652.3 98.2 652.1 98.6 652 98.9 652 99.3 652 99.6 652.1 99.9 652.3 100.1 652.6 100.3 652.9 100.4 653.2 100.5 653.6 100.5 653.9 100.4 654.3 100.3 654.7 100 655 99.8 655.3 99.4 655.6 99 655.8 98.6 656 98.2 656.1 97.7 656.2 97.2 656.2 96.7 656.1 96.2 656 95.7 655.8 95.3 655.6 94.9 655.3 94.5 655.1 94.2 654.7 93.9 654.4 93.7 654 93.6 653.7 93.5 653.3 93.5 653 93.5 652.7 93.6 652.5 93.8 652.2 94 652.1 94.2 652 94.5 652 94.8 652 95.1 652.1 95.5 652.3 95.8 652.6 96 652.9 96.3 653.3 96.5 653.8 96.6 654.2 96.7 654.7 96.7 655.3 96.6 655.8 96.4 656.3 96.1 656.8 95.8 657.2 95.4 657.6 94.9 657.9 94.4 658.1 93.9 658.3 93.3 658.3 92.7 658.3 92.2 658.2 91.6 658 91.1 657.8 90.6 657.5 90.3 657.1 89.9 656.8 89.7 656.4 89.5 656 89.5 655.6 89.5 655.2 89.6 654.9 89.8 654.7 90.1 654.5 90.4 654.4 90.7 654.3 91.1 654.4 91.5 654.5 91.9 654.7 92.3 655 92.7 655.4 93 655.8 93.3 656.2 93.6 656.7 93.7 657.3 93.8 657.8 93.9 658.3 93.9 658.9 93.8 659.4 93.7 659.8 93.5 660.3 93.2 660.7 92.9 661 92.6 661.3 92.3 661.5 92 661.6 91.6 661.7 91.3 661.7 91 661.7 90.7 661.6 90.4 661.5 90.2 661.3 90 661.1 89.9 660.8 89.9 660.6 89.9 660.3 90 660 90.1 659.8 90.3 659.5 90.6 659.3 91 659.1 91.4 659 91.8 658.9 92.3 658.9 92.8 659 93.3 659.1 93.8 659.3 94.4 659.6 94.9 659.9 95.3 660.2 95.8 660.7 96.1 661.1 96.4 661.6 96.7 662.1 96.8 662.6 96.9 663.1 96.9 663.5 96.8 663.9 96.6 664.3 96.4 664.6 96.1 664.8 95.8 664.9 95.4 664.9 95 664.8 94.7 664.7 94.3 664.5 94 664.1 93.7 663.8 93.5 663.3 93.3 662.8 93.3 662.3 93.3 661.8 93.4 661.3 93.5 660.8 93.8 660.4 94.1 660 94.6 659.6 95 659.3 95.5 659.1 96.1 659 96.6 659 97.2 659 97.7 659.1 98.2 659.2 98.7 659.5 99.2 659.7 99.6 660.1 99.9 660.4 100.1 660.8 100.3 661.1 100.4 661.5 100.5 661.8 100.4 662.1 100.4 662.3 100.2 662.5 100 662.7 99.8 662.8 99.6 662.8 99.3 662.8 99 662.7 98.7 662.6 98.4 662.4 98.2 662.1 97.9 661.8 97.7 661.4 97.6 661 97.5 660.5 97.4 660.1 97.4 659.6 97.5 659.1 97.6 658.7 97.8 658.2 98 657.8 98.3 657.4 98.6 657.1 99 656.8 99.4 656.6 99.9 656.4 100.4 656.3 100.8 656.3 101.3 656.4 101.7 656.5 102.1 656.7 102.5 656.9 102.8 657.2 103 657.5 103.1 657.8 103.2 658.1 103.2 658.5 103.1 658.8 102.9 659.1 102.6 659.3 102.3 659.4 101.9 659.5 101.4 659.5 100.9 659.5 100.4 659.3 99.9 659 99.3 658.7 98.8 658.3 98.4 657.9 98 657.3 97.6 656.8 97.4 656.2 97.2 655.6 97 655 97 654.4 97" fill="none" stroke="#2b8d98" stroke-width="0.7" stroke-linejoin="round"/>
<line x1="693.6" y1="83.4" x2="693.6" y2="80.5" stroke="#3d9460" stroke-width="0.8"/>
<path d="M693.6 81.5 L695 79.5 Q693.6 78.4 692.2 79.5 Z" fill="#3d9460" stroke="#3d9460" stroke-width="0.6" stroke-linejoin="round"/>
<line x1="698.2" y1="84.6" x2="699.7" y2="82.1" stroke="#3d9460" stroke-width="0.8"/>
<path d="M699.2 83 L701.4 81.9 Q700.8 80.3 699 80.6 Z" fill="#3d9460" stroke="#3d9460" stroke-width="0.6" stroke-linejoin="round"/>
<line x1="701.7" y1="88" x2="704.2" y2="86.6" stroke="#3d9460" stroke-width="0.8"/>
<path d="M703.3 87.1 L705.7 87.3 Q706 85.5 704.4 84.9 Z" fill="#3d9460" stroke="#3d9460" stroke-width="0.6" stroke-linejoin="round"/>
<line x1="702.9" y1="92.7" x2="705.8" y2="92.7" stroke="#3d9460" stroke-width="0.8"/>
<path d="M704.8 92.7 L706.8 94 Q707.9 92.7 706.8 91.4 Z" fill="#3d9460" stroke="#3d9460" stroke-width="0.6" stroke-linejoin="round"/>
<line x1="701.7" y1="97.3" x2="704.2" y2="98.8" stroke="#3d9460" stroke-width="0.8"/>
<path d="M703.3 98.3 L704.4 100.5 Q706 99.8 705.7 98.1 Z" fill="#3d9460" stroke="#3d9460" stroke-width="0.6" stroke-linejoin="round"/>
<line x1="698.2" y1="100.8" x2="699.7" y2="103.3" stroke="#3d9460" stroke-width="0.8"/>
<path d="M699.2 102.4 L699 104.8 Q700.8 105.1 701.4 103.5 Z" fill="#3d9460" stroke="#3d9460" stroke-width="0.6" stroke-linejoin="round"/>
<line x1="693.6" y1="102" x2="693.6" y2="104.9" stroke="#3d9460" stroke-width="0.8"/>
<path d="M693.6 103.9 L692.2 105.9 Q693.6 107 695 105.9 Z" fill="#3d9460" stroke="#3d9460" stroke-width="0.6" stroke-linejoin="round"/>
<line x1="689" y1="100.8" x2="687.5" y2="103.3" stroke="#3d9460" stroke-width="0.8"/>
<path d="M688 102.4 L685.8 103.5 Q686.5 105.1 688.2 104.8 Z" fill="#3d9460" stroke="#3d9460" stroke-width="0.6" stroke-linejoin="round"/>
<line x1="685.5" y1="97.4" x2="683" y2="98.8" stroke="#3d9460" stroke-width="0.8"/>
<path d="M683.9 98.3 L681.5 98.1 Q681.2 99.9 682.8 100.5 Z" fill="#3d9460" stroke="#3d9460" stroke-width="0.6" stroke-linejoin="round"/>
<line x1="684.3" y1="92.7" x2="681.4" y2="92.7" stroke="#3d9460" stroke-width="0.8"/>
<path d="M682.4 92.7 L680.4 91.4 Q679.3 92.7 680.4 94 Z" fill="#3d9460" stroke="#3d9460" stroke-width="0.6" stroke-linejoin="round"/>
<line x1="685.5" y1="88" x2="683" y2="86.6" stroke="#3d9460" stroke-width="0.8"/>
<path d="M683.9 87.1 L682.8 84.9 Q681.2 85.5 681.5 87.3 Z" fill="#3d9460" stroke="#3d9460" stroke-width="0.6" stroke-linejoin="round"/>
<line x1="689" y1="84.6" x2="687.5" y2="82.1" stroke="#3d9460" stroke-width="0.8"/>
<path d="M688 83 L688.2 80.6 Q686.5 80.3 685.8 81.9 Z" fill="#3d9460" stroke="#3d9460" stroke-width="0.6" stroke-linejoin="round"/>
<circle cx="693.6" cy="92.7" r="9.3" fill="#def3f6" stroke="#7d8476" stroke-width="0.9"/>
<path d="M695.3 98.4 695.7 98.6 696.1 98.6 696.5 98.6 696.9 98.5 697.2 98.3 697.5 98 697.7 97.7 697.9 97.3 697.9 96.9 697.9 96.4 697.8 96 697.6 95.6 697.3 95.1 697 94.8 696.5 94.4 696.1 94.2 695.5 94 695 93.8 694.4 93.8 693.8 93.8 693.3 94 692.7 94.1 692.2 94.4 691.8 94.7 691.4 95.1 691.1 95.5 690.8 95.9 690.6 96.3 690.5 96.8 690.5 97.2 690.5 97.6 690.6 97.9 690.7 98.2 690.9 98.5 691.1 98.7 691.4 98.8 691.6 98.9 691.9 98.8 692.1 98.8 692.4 98.6 692.6 98.4 692.8 98.2 692.9 97.9 693 97.5 693.1 97.1 693.1 96.7 693 96.3 692.9 95.8 692.7 95.4 692.4 95 692.2 94.6 691.8 94.2 691.4 93.8 691 93.5 690.5 93.3 690 93.1 689.6 93 689.1 93 688.6 93 688.2 93.1 687.7 93.2 687.4 93.4 687.1 93.6 686.9 93.9 686.7 94.2 686.6 94.5 686.6 94.9 686.7 95.2 686.9 95.5 687.2 95.7 687.5 95.9 687.9 96.1 688.3 96.1 688.8 96.1 689.2 96 689.7 95.8 690.2 95.5 690.7 95.2 691.1 94.8 691.5 94.3 691.8 93.7 692 93.2 692.1 92.6 692.2 91.9 692.2 91.3 692.1 90.7 691.9 90.2 691.6 89.7 691.3 89.3 691 88.9 690.6 88.6 690.2 88.4 689.8 88.3 689.4 88.3 689.1 88.3 688.7 88.4 688.5 88.6 688.2 88.9 688.1 89.2 688 89.5 688 89.8 688.1 90.2 688.2 90.5 688.4 90.8 688.7 91.1 689 91.4 689.4 91.6 689.8 91.8 690.3 91.9 690.7 91.9 691.2 91.9 691.7 91.8 692.1 91.7 692.6 91.5 693 91.2 693.4 90.9 693.7 90.6 694 90.2 694.2 89.8 694.4 89.4 694.5 89 694.5 88.6 694.5 88.2 694.4 87.8 694.3 87.4 694.1 87.1 693.9 86.9 693.7 86.7 693.4 86.6 693.1 86.5 692.8 86.5 692.5 86.6 692.2 86.7 692 86.9 691.8 87.2 691.6 87.5 691.6 87.9 691.5 88.3 691.6 88.8 691.8 89.2 692 89.7 692.3 90.1 692.6 90.5 693.1 90.8 693.6 91.2 694.1 91.4 694.7 91.5 695.3 91.6 695.9 91.6 696.5 91.6 697.1 91.4 697.6 91.2 698.1 90.9 698.5 90.5 698.9 90.1 699.1 89.7 699.3 89.3 699.4 88.9 699.3 88.4 699.2 88.1 699.1 87.7 698.8 87.5 698.5 87.3 698.2 87.2 697.8 87.1 697.5 87.2 697.1 87.3 696.7 87.6 696.4 87.9 696.1 88.2 695.8 88.7 695.6 89.1 695.5 89.7 695.4 90.2 695.4 90.7 695.5 91.3 695.6 91.8 695.8 92.3 696.1 92.8 696.4 93.2 696.7 93.6 697.1 93.9 697.5 94.2 697.9 94.3 698.2 94.5 698.6 94.5 699 94.5 699.3 94.5 699.5 94.4 699.8 94.2 699.9 94 700.1 93.8 700.1 93.6 700.1 93.3 700 93.1 699.9 92.8 699.7 92.6 699.4 92.4 699.1 92.2 698.7 92.1 698.3 92 697.9 92 697.4 92 696.9 92.1 696.4 92.3 696 92.5 695.5 92.8 695.1 93.2 694.8 93.6 694.5 94.1 694.2 94.6 694.1 95.1 694 95.6 694 96.1 694 96.6 694.2 97.1 694.4 97.5 694.6 97.9 695 98.2 695.3 98.4" fill="none" stroke="#2b8d98" stroke-width="0.7" stroke-linejoin="round"/>
<polygon points="459.6,146.8 437.3,151.5 436.4,146.8 426.5,155.8 439.1,160.1 438.2,155.4 460.4,150.8" fill="#000"/>
<polygon points="424.1,208.2 451.9,222.7 449.7,226.9 463,226.2 455.9,214.9 453.7,219.1 425.9,204.6" fill="#000"/>
<polygon points="621.2,210.4 634,200.9 636.8,204.7 642,192.4 628.7,193.9 631.6,197.7 618.8,207.2" fill="#000"/>
<polygon points="635.9,258.2 631.5,251.8 634.5,249.7 625.2,245.8 625.5,255.9 628.5,253.8 632.9,260.2" fill="#000"/>
<polygon points="677,134 677,117.6 680.7,117.6 675.2,108.6 669.7,117.6 673.4,117.6 673.4,134" fill="#000"/>
<line x1="515" y1="274" x2="571.8" y2="248.6" stroke="#111" stroke-width="1.5"/>
<polygon points="574.5,247.4 569,253.5 569,249.8 566.3,247.4" fill="#111"/>
<line x1="515" y1="274" x2="621" y2="288" stroke="#111" stroke-width="1.5"/>
<polygon points="624,288.4 616.1,290.7 618.1,287.6 617,284.1" fill="#111"/>
<text x="343.2" y="99.9" font-size="9.6" fill="#1d1d1d" textLength="21.8" lengthAdjust="spacingAndGlyphs" stroke="#1d1d1d" stroke-width="0.18">ACE2</text>
<text x="430.6" y="52" font-size="9.6" fill="#1d1d1d" textLength="75" lengthAdjust="spacingAndGlyphs" stroke="#1d1d1d" stroke-width="0.18">Initial RBD/ACE2</text>
<text x="430.6" y="65.5" font-size="9.6" fill="#1d1d1d" textLength="49.4" lengthAdjust="spacingAndGlyphs" stroke="#1d1d1d" stroke-width="0.18">interaction</text>
<text x="425.3" y="173.2" font-size="9.6" fill="#1d1d1d" textLength="53.5" lengthAdjust="spacingAndGlyphs" stroke="#1d1d1d" stroke-width="0.18">SARS-CoV-2</text>
<text x="425.3" y="186.3" font-size="9.6" fill="#1d1d1d" textLength="55.2" lengthAdjust="spacingAndGlyphs" stroke="#1d1d1d" stroke-width="0.18">endocytosis</text>
<text x="394.7" y="237.3" font-size="9.6" fill="#1d1d1d" textLength="47.2" lengthAdjust="spacingAndGlyphs" stroke="#1d1d1d" stroke-width="0.18">Release of</text>
<text x="397.6" y="250.5" font-size="9.6" fill="#1d1d1d" textLength="41.4" lengthAdjust="spacingAndGlyphs" stroke="#1d1d1d" stroke-width="0.18">viral RNA</text>
<text x="349.4" y="300.5" font-size="9.6" fill="#1d1d1d" textLength="47.8" lengthAdjust="spacingAndGlyphs" stroke="#1d1d1d" stroke-width="0.18">Cytoplasm</text>
<text x="490.6" y="291.2" font-size="9.6" fill="#1d1d1d" textLength="70" lengthAdjust="spacingAndGlyphs" stroke="#1d1d1d" stroke-width="0.18">Translation and</text>
<text x="483.8" y="304.6" font-size="9.6" fill="#1d1d1d" textLength="83.1" lengthAdjust="spacingAndGlyphs" stroke="#1d1d1d" stroke-width="0.18">replication of RNA</text>
<text x="595.4" y="172" font-size="9.6" fill="#1d1d1d" textLength="26.7" lengthAdjust="spacingAndGlyphs" stroke="#1d1d1d" stroke-width="0.18">Virion</text>
<text x="587.9" y="185.3" font-size="9.6" fill="#1d1d1d" textLength="42.1" lengthAdjust="spacingAndGlyphs" stroke="#1d1d1d" stroke-width="0.18">assembly</text>
<text x="648.5" y="282.8" font-size="9.6" fill="#1d1d1d" textLength="12" lengthAdjust="spacingAndGlyphs" stroke="#1d1d1d" stroke-width="0.18">ER</text>
<path d="M24.5 416 V411 Q24.5 407 28.5 407 H387 Q391 407 391 411 V416.5" fill="none" stroke="#d88fd8" stroke-width="2" stroke-linecap="round"/>
<line x1="207.6" y1="407" x2="207.6" y2="400" stroke="#d88fd8" stroke-width="2"/>
<path d="M395 416.5 V411 Q395 407 399 407 H709 Q713 407 713 411 V416" fill="none" stroke="#1f6fca" stroke-width="2" stroke-linecap="round"/>
<line x1="553.6" y1="407" x2="553.6" y2="399.5" stroke="#1f6fca" stroke-width="2"/>
<text x="207.2" y="395" font-size="13" fill="#d88fd8" font-weight="bold" text-anchor="middle" textLength="13.6" lengthAdjust="spacingAndGlyphs">S1</text>
<text x="553.2" y="394" font-size="13" fill="#1f6fca" font-weight="bold" text-anchor="middle" textLength="13.6" lengthAdjust="spacingAndGlyphs">S2</text>
<line x1="27.8" y1="469" x2="27.8" y2="478.5" stroke="#222" stroke-width="1.4"/>
<line x1="185" y1="469" x2="185" y2="478.5" stroke="#222" stroke-width="1.4"/>
<line x1="315.2" y1="469" x2="315.2" y2="478.5" stroke="#222" stroke-width="1.4"/>
<line x1="390" y1="469" x2="390" y2="478.5" stroke="#222" stroke-width="1.4"/>
<line x1="394.8" y1="469" x2="394.8" y2="478.5" stroke="#222" stroke-width="1.4"/>
<line x1="450.3" y1="469" x2="450.3" y2="478.5" stroke="#222" stroke-width="1.4"/>
<line x1="460.3" y1="469" x2="460.3" y2="478.5" stroke="#222" stroke-width="1.4"/>
<line x1="519.5" y1="469" x2="519.5" y2="478.5" stroke="#222" stroke-width="1.4"/>
<line x1="556" y1="469" x2="556" y2="478.5" stroke="#222" stroke-width="1.4"/>
<line x1="655.6" y1="469" x2="655.6" y2="478.5" stroke="#222" stroke-width="1.4"/>
<line x1="678.6" y1="469" x2="678.6" y2="478.5" stroke="#222" stroke-width="1.4"/>
<line x1="697" y1="469" x2="697" y2="478.5" stroke="#222" stroke-width="1.4"/>
<line x1="712" y1="469" x2="712" y2="478.5" stroke="#222" stroke-width="1.4"/>
<line x1="193.5" y1="438.8" x2="193.5" y2="449" stroke="#222" stroke-width="1.4"/>
<line x1="680" y1="438.8" x2="680" y2="449" stroke="#222" stroke-width="1.4"/>
<line x1="695.8" y1="438.8" x2="695.8" y2="449" stroke="#222" stroke-width="1.4"/>
<rect x="20.6" y="448.6" width="371.4" height="20.6" rx="3" fill="#f5a8f5" stroke="#000" stroke-width="1.5"/>
<rect x="27.6" y="448.6" width="158" height="20.6" rx="3" fill="#c5e0b4" stroke="#000" stroke-width="1.5"/>
<rect x="193.6" y="448.6" width="122.8" height="20.6" rx="3" fill="#cfcfcf" stroke="#000" stroke-width="1.5"/>
<line x1="392" y1="458.6" x2="395.5" y2="458.6" stroke="#000" stroke-width="1.6"/>
<rect x="395.6" y="448.6" width="318.8" height="20.6" rx="3" fill="#9dc3e6" stroke="#0d1a33" stroke-width="1.5"/>
<rect x="449.8" y="448.6" width="11.4" height="20.6" rx="0" fill="#ef4a46"/>
<path d="M450.2 448.6 V469 M460.6 448.6 V469" stroke="#3a0d0d" stroke-width="1.3" fill="none"/>
<rect x="518.6" y="448.6" width="39.4" height="20.6" rx="3.5" fill="#8faadc" stroke="#0d1a33" stroke-width="1.5"/>
<rect x="655.6" y="448.6" width="25.2" height="20.6" rx="3.5" fill="#bdd7ee" stroke="#0d1a33" stroke-width="1.5"/>
<rect x="680.8" y="448.6" width="17.3" height="20.6" rx="3" fill="#c55a11" stroke="#000" stroke-width="1.5"/>
<rect x="698.1" y="448.6" width="16.6" height="20.6" rx="3" fill="#ffd966" stroke="#000" stroke-width="1.5"/>
<text x="104.8" y="462.7" font-size="13.1" fill="#1c1c1c" text-anchor="middle" textLength="24.6" lengthAdjust="spacingAndGlyphs">NTD</text>
<text x="257.2" y="462.7" font-size="13.1" fill="#1c1c1c" text-anchor="middle" textLength="23.6" lengthAdjust="spacingAndGlyphs">RBD</text>
<text x="538.3" y="461.5" font-size="10.5" fill="#1b2a4a" text-anchor="middle" textLength="19.2" lengthAdjust="spacingAndGlyphs">HR1</text>
<text x="667.5" y="461.5" font-size="10.5" fill="#1b2a4a" text-anchor="middle" textLength="19" lengthAdjust="spacingAndGlyphs">HR2</text>
<text x="689.2" y="461.5" font-size="10.5" fill="#4a1c00" text-anchor="middle" textLength="13.1" lengthAdjust="spacingAndGlyphs">TM</text>
<text x="705.7" y="461.5" font-size="10.5" fill="#3a2c00" text-anchor="middle" textLength="8.3" lengthAdjust="spacingAndGlyphs">IC</text>
<text x="455.6" y="461.5" font-size="10.5" fill="#7a1512" text-anchor="middle" textLength="9.6" lengthAdjust="spacingAndGlyphs">FP</text>
<text x="333.8" y="433.4" font-size="9" fill="#222" textLength="114.4" lengthAdjust="spacingAndGlyphs" stroke="#222" stroke-width="0.25">680- Furin cleavage site -685</text>
<line x1="348.4" y1="437.3" x2="392" y2="458.4" stroke="#111" stroke-width="1.4"/>
<line x1="434.4" y1="437.3" x2="395" y2="458.4" stroke="#111" stroke-width="1.4"/>
<text x="32.3" y="482.2" font-size="8.7" fill="#222" text-anchor="end" transform="rotate(-70 32.3 482.2)" stroke="#222" stroke-width="0.2">13</text>
<text x="190" y="482.2" font-size="8.7" fill="#222" text-anchor="end" transform="rotate(-70 190 482.2)" stroke="#222" stroke-width="0.2">305</text>
<text x="319.7" y="482.2" font-size="8.7" fill="#222" text-anchor="end" transform="rotate(-70 319.7 482.2)" stroke="#222" stroke-width="0.2">541</text>
<text x="391.2" y="482.2" font-size="8.7" fill="#222" text-anchor="end" transform="rotate(-70 391.2 482.2)" stroke="#222" stroke-width="0.2">679</text>
<text x="402" y="482.2" font-size="8.7" fill="#222" text-anchor="end" transform="rotate(-70 402 482.2)" stroke="#222" stroke-width="0.2">686</text>
<text x="453.3" y="482.2" font-size="8.7" fill="#222" text-anchor="end" transform="rotate(-70 453.3 482.2)" stroke="#222" stroke-width="0.2">788</text>
<text x="465.8" y="482.2" font-size="8.7" fill="#222" text-anchor="end" transform="rotate(-70 465.8 482.2)" stroke="#222" stroke-width="0.2">806</text>
<text x="524" y="482.2" font-size="8.7" fill="#222" text-anchor="end" transform="rotate(-70 524 482.2)" stroke="#222" stroke-width="0.2">912</text>
<text x="560.5" y="482.2" font-size="8.7" fill="#222" text-anchor="end" transform="rotate(-70 560.5 482.2)" stroke="#222" stroke-width="0.2">984</text>
<text x="657.8" y="482.2" font-size="8.7" fill="#222" text-anchor="end" transform="rotate(-70 657.8 482.2)" stroke="#222" stroke-width="0.2">1163</text>
<text x="683.1" y="482.2" font-size="8.7" fill="#222" text-anchor="end" transform="rotate(-70 683.1 482.2)" stroke="#222" stroke-width="0.2">1213</text>
<text x="701.5" y="482.2" font-size="8.7" fill="#222" text-anchor="end" transform="rotate(-70 701.5 482.2)" stroke="#222" stroke-width="0.2">1138</text>
<text x="716.5" y="482.2" font-size="8.7" fill="#222" text-anchor="end" transform="rotate(-70 716.5 482.2)" stroke="#222" stroke-width="0.2">1273</text>
<text x="194.9" y="436" font-size="8.7" fill="#222" transform="rotate(-70 194.9 436)" stroke="#222" stroke-width="0.2">319</text>
<text x="681.4" y="436" font-size="8.7" fill="#222" transform="rotate(-70 681.4 436)" stroke="#222" stroke-width="0.2">1214</text>
<text x="697.2" y="436" font-size="8.7" fill="#222" transform="rotate(-70 697.2 436)" stroke="#222" stroke-width="0.2">1237</text>
<text x="0.3" y="24.9" font-size="22.5" fill="#000" font-weight="bold">A</text>
<text x="0.3" y="388.1" font-size="22.5" fill="#000" font-weight="bold">B</text>
<text x="323.8" y="25.2" font-size="22.5" fill="#000" font-weight="bold">C</text>
</svg></body></html>
